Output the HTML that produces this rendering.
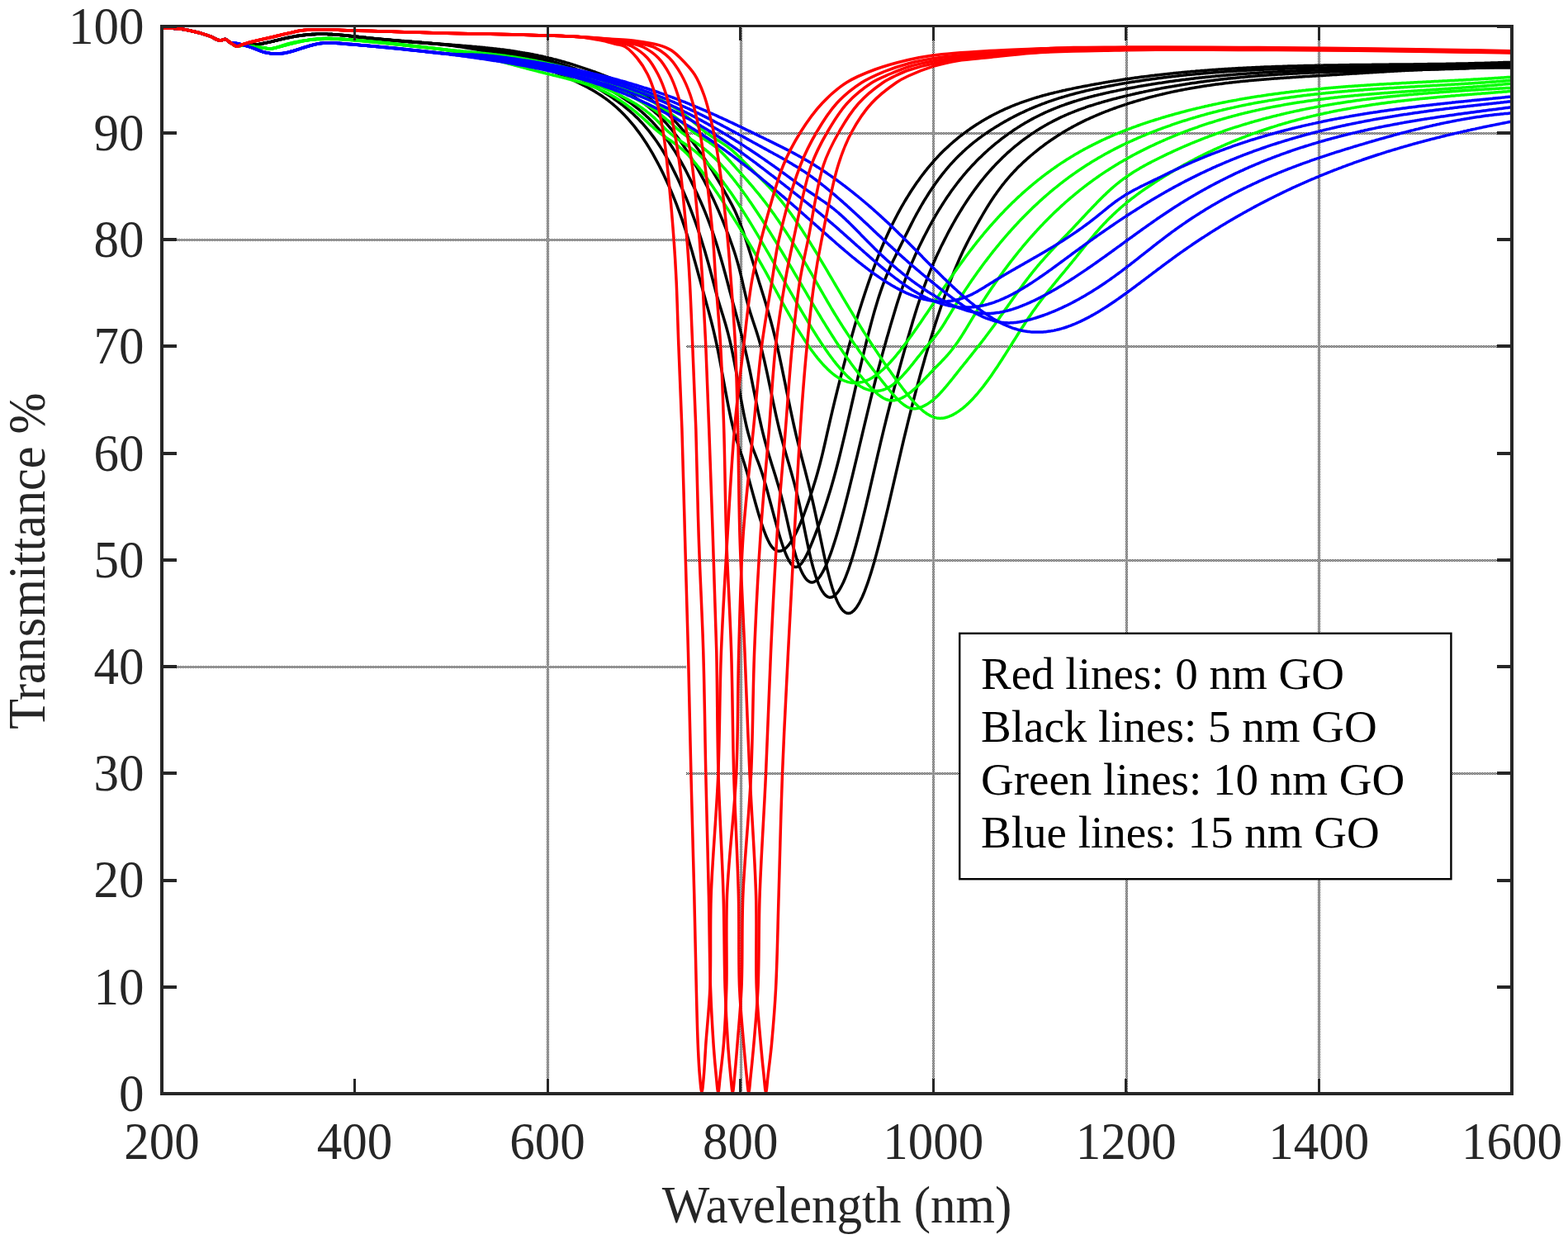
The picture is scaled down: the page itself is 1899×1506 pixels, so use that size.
<!DOCTYPE html><html><head><meta charset="utf-8"><title>Transmittance vs Wavelength</title><style>html,body{margin:0;padding:0;background:#fff;}svg{display:block;}text{font-family:"Liberation Serif", "Times New Roman", serif;}</style></head><body>
<svg xmlns="http://www.w3.org/2000/svg" width="1899" height="1506" viewBox="0 0 1899 1506">
<defs><pattern id="chk" x="0" y="0" width="2" height="2" patternUnits="userSpaceOnUse"><rect width="1" height="1" fill="#262626"/><rect x="1" y="1" width="1" height="1" fill="#262626"/></pattern></defs>
<rect width="1899" height="1506" fill="#fff"/>
<rect x="198" y="289" width="633" height="3" fill="url(#chk)"/>
<rect x="198" y="806" width="633" height="3" fill="url(#chk)"/>
<rect x="831" y="160" width="998" height="3" fill="url(#chk)"/>
<rect x="831" y="418" width="998" height="3" fill="url(#chk)"/>
<rect x="831" y="677" width="998" height="3" fill="url(#chk)"/>
<rect x="831" y="935" width="998" height="3" fill="url(#chk)"/>
<rect x="831" y="289" width="0" height="3" fill="url(#chk)"/>
<rect x="662" y="33" width="3" height="1289" fill="url(#chk)"/>
<rect x="896" y="33" width="3" height="1289" fill="url(#chk)"/>
<rect x="1129" y="33" width="3" height="1289" fill="url(#chk)"/>
<rect x="1363" y="33" width="3" height="1289" fill="url(#chk)"/>
<rect x="1596" y="33" width="3" height="1289" fill="url(#chk)"/>
<g fill="none" stroke-width="3.5" stroke-linejoin="round" stroke-linecap="round">
<path stroke="#000" d="M196.0,33.9 C202.2,34.1 208.6,34.0 214.6,34.6 C220.3,35.2 225.3,36.1 231.0,37.3 C237.5,38.7 245.3,40.7 251.6,42.8 C257.1,44.7 262.8,48.7 266.7,49.0 C269.2,49.2 270.8,47.1 272.8,47.4 C274.9,47.8 276.8,50.3 279.0,51.7 C281.4,53.2 283.9,55.6 286.5,56.0 C288.9,56.3 290.9,54.6 294.0,54.2 C298.9,53.6 306.8,53.9 313.2,53.8 L330.0,50.1 L331.5,49.7 L333.0,49.3 L334.5,48.9 L336.0,48.5 L337.5,48.2 L339.0,47.8 L340.5,47.5 L342.0,47.1 L343.5,46.8 L345.0,46.4 L346.5,46.1 L348.0,45.8 L349.5,45.5 L351.0,45.2 L352.5,44.9 L354.0,44.6 L355.5,44.4 L357.0,44.1 L358.5,43.8 L360.0,43.6 L361.5,43.4 L363.0,43.2 L364.5,43.0 L366.0,42.8 L367.5,42.6 L369.0,42.4 L370.5,42.2 L372.0,42.1 L373.5,42.0 L375.0,41.8 L376.5,41.7 L378.0,41.6 L379.5,41.5 L381.0,41.4 L382.5,41.4 L384.0,41.3 L385.5,41.3 L387.0,41.3 L388.5,41.3 L390.0,41.3 L391.5,41.3 L393.0,41.3 L394.5,41.3 L396.0,41.3 L397.5,41.4 L399.0,41.5 L400.5,41.5 L402.0,41.6 L403.5,41.7 L405.0,41.8 L406.5,41.9 L408.0,42.0 L409.5,42.1 L411.0,42.2 L412.5,42.3 L414.0,42.5 L415.5,42.6 L417.0,42.8 L418.5,42.9 L420.0,43.0 L421.5,43.2 L423.0,43.4 L424.5,43.5 L426.0,43.7 L427.5,43.8 L429.0,44.0 L430.5,44.2 L432.0,44.4 L433.5,44.5 L435.0,44.7 L436.5,44.9 L438.0,45.0 L439.5,45.2 L441.0,45.4 L442.5,45.5 L444.0,45.7 L445.5,45.9 L447.0,46.0 L448.5,46.2 L450.0,46.4 L451.5,46.5 L453.0,46.7 L454.5,46.8 L456.0,47.0 L457.5,47.1 L459.0,47.3 L460.5,47.4 L462.0,47.6 L463.5,47.7 L465.0,47.9 L466.5,48.0 L468.0,48.2 L469.5,48.3 L471.0,48.5 L472.5,48.6 L474.0,48.8 L475.5,48.9 L477.0,49.0 L478.5,49.2 L480.0,49.3 L481.5,49.4 L483.0,49.6 L484.5,49.7 L486.0,49.8 L487.5,50.0 L489.0,50.1 L490.5,50.2 L492.0,50.4 L493.5,50.5 L495.0,50.6 L496.5,50.7 L498.0,50.8 L499.5,51.0 L501.0,51.1 L502.5,51.2 L504.0,51.3 L505.5,51.4 L507.0,51.5 L508.5,51.6 L510.0,51.8 L511.5,51.9 L513.0,52.0 L514.5,52.1 L516.0,52.2 L517.5,52.3 L519.0,52.4 L520.5,52.5 L522.0,52.6 L523.5,52.7 L525.0,52.8 L526.5,52.9 L528.0,53.0 L529.5,53.1 L531.0,53.2 L532.5,53.3 L534.0,53.4 L535.5,53.5 L537.0,53.6 L538.5,53.8 L540.0,53.9 L541.5,54.0 L543.0,54.1 L544.5,54.2 L546.0,54.3 L547.5,54.4 L549.0,54.5 L550.5,54.6 L552.0,54.7 L553.5,54.8 L555.0,54.9 L556.5,55.0 L558.0,55.2 L559.5,55.3 L561.0,55.4 L562.5,55.5 L564.0,55.6 L565.5,55.7 L567.0,55.9 L568.5,56.0 L570.0,56.1 L571.5,56.2 L573.0,56.4 L574.5,56.5 L576.0,56.6 L577.5,56.8 L579.0,56.9 L580.5,57.0 L582.0,57.2 L583.5,57.3 L585.0,57.5 L586.5,57.6 L588.0,57.8 L589.5,57.9 L591.0,58.1 L592.5,58.2 L594.0,58.4 L595.5,58.5 L597.0,58.7 L598.5,58.9 L600.0,59.0 L601.5,59.2 L603.0,59.4 L604.5,59.6 L606.0,59.8 L607.5,59.9 L609.0,60.1 L610.5,60.3 L612.0,60.5 L613.5,60.7 L615.0,60.9 L616.5,61.1 L618.0,61.3 L619.5,61.6 L621.0,61.8 L622.5,62.0 L624.0,62.2 L625.5,62.4 L627.0,62.7 L628.5,62.9 L630.0,63.2 L631.5,63.4 L633.0,63.7 L634.5,63.9 L636.0,64.2 L637.5,64.4 L639.0,64.7 L640.5,65.0 L642.0,65.3 L643.5,65.6 L645.0,65.8 L646.5,66.1 L648.0,66.4 L649.5,66.7 L651.0,67.0 L652.5,67.4 L654.0,67.7 L655.5,68.0 L657.0,68.3 L658.5,68.7 L660.0,69.0 L661.5,69.4 L663.0,69.7 L664.5,70.1 L666.0,70.4 L667.5,70.8 L669.0,71.2 L670.5,71.6 L672.0,71.9 L673.5,72.3 L675.0,72.7 L676.5,73.1 L678.0,73.5 L679.5,74.0 L681.0,74.4 L682.5,74.8 L684.0,75.2 L685.5,75.7 L687.0,76.1 L688.5,76.5 L690.0,77.0 L691.5,77.4 L693.0,77.9 L694.5,78.4 L696.0,78.8 L697.5,79.3 L699.0,79.8 L700.5,80.3 L702.0,80.8 L703.5,81.3 L705.0,81.8 L706.5,82.3 L708.0,82.8 L709.5,83.3 L711.0,83.8 L712.5,84.3 L714.0,84.8 L715.5,85.4 L717.0,85.9 L718.5,86.5 L720.0,87.0 L721.5,87.5 L723.0,88.1 L724.5,88.7 L726.0,89.2 L727.5,89.8 L729.0,90.4 L730.5,90.9 L732.0,91.5 L733.5,92.1 L735.0,92.7 L736.5,93.3 L738.0,93.9 L739.5,94.5 L741.0,95.1 L742.5,95.7 L744.0,96.3 L745.5,96.9 L747.0,97.5 L748.5,98.2 L750.0,98.8 L751.5,99.5 L753.0,100.2 L754.5,100.8 L756.0,101.5 L757.5,102.2 L759.0,103.0 L760.5,103.7 L762.0,104.4 L763.5,105.2 L765.0,106.0 L766.5,106.8 L768.0,107.6 L769.5,108.4 L771.0,109.3 L772.5,110.2 L774.0,111.1 L775.5,112.0 L777.0,112.9 L778.5,113.9 L780.0,114.9 L781.5,115.9 L783.0,116.9 L784.5,118.0 L786.0,119.0 L787.5,120.1 L789.0,121.2 L790.5,122.4 L792.0,123.5 L793.5,124.7 L795.0,125.9 L796.5,127.1 L798.0,128.4 L799.5,129.7 L801.0,131.0 L802.5,132.3 L804.0,133.6 L805.5,135.0 L807.0,136.4 L808.5,137.8 L810.0,139.2 L811.5,140.7 L813.0,142.2 L814.5,143.7 L816.0,145.3 L817.5,146.8 L819.0,148.4 L820.5,150.0 L822.0,151.7 L823.5,153.3 L825.0,155.0 L826.5,156.8 L828.0,158.5 L829.5,160.3 L831.0,162.1 L832.5,163.9 L834.0,165.8 L835.5,167.7 L837.0,169.6 L838.5,171.5 L840.0,173.5 L841.5,175.5 L843.0,177.5 L844.5,179.5 L846.0,181.6 L847.5,183.7 L849.0,185.9 L850.5,188.0 L852.0,190.2 L853.5,192.4 L855.0,194.7 L856.5,197.0 L858.0,199.3 L859.5,201.6 L861.0,204.0 L862.5,206.4 L864.0,208.8 L865.5,211.3 L867.0,213.8 L868.5,216.3 L870.0,218.8 L871.5,221.4 L873.0,224.0 L874.5,226.6 L876.0,229.2 L877.5,231.8 L879.0,234.5 L880.5,237.2 L882.0,239.9 L883.5,242.6 L885.0,245.4 L886.5,248.2 L888.0,251.1 L889.5,254.1 L891.0,257.3 L892.5,260.7 L894.0,264.2 L895.5,267.9 L897.0,271.9 L898.5,276.0 L900.0,280.2 L901.5,284.6 L903.0,289.1 L904.5,293.7 L906.0,298.4 L907.5,303.2 L909.0,308.0 L910.5,312.9 L912.0,317.7 L913.5,322.6 L915.0,327.5 L916.5,332.3 L918.0,337.1 L919.5,341.9 L921.0,346.6 L922.5,351.4 L924.0,356.3 L925.5,361.1 L927.0,366.1 L928.5,371.1 L930.0,376.2 L931.5,381.4 L933.0,386.8 L934.5,392.3 L936.0,397.9 L937.5,403.8 L939.0,409.8 L940.5,416.0 L942.0,422.5 L943.5,429.2 L945.0,436.1 L946.5,443.1 L948.0,450.3 L949.5,457.6 L951.0,464.9 L952.5,472.3 L954.0,479.6 L955.5,486.9 L957.0,494.1 L958.5,501.2 L960.0,508.2 L961.5,515.0 L963.0,521.6 L964.5,528.0 L966.0,534.2 L967.5,540.3 L969.0,546.2 L970.5,552.1 L972.0,557.9 L973.5,563.7 L975.0,569.4 L976.5,575.3 L978.0,581.1 L979.5,587.1 L981.0,593.2 L982.5,599.4 L984.0,605.9 L985.5,612.5 L987.0,619.4 L988.5,626.4 L990.0,633.6 L991.5,640.9 L993.0,648.1 L994.5,655.4 L996.0,662.5 L997.5,669.6 L999.0,676.5 L1000.5,683.2 L1002.0,689.6 L1003.5,695.7 L1005.0,701.4 L1006.5,706.8 L1008.0,711.8 L1009.5,716.4 L1011.0,720.6 L1012.5,724.5 L1014.0,727.9 L1015.5,731.0 L1017.0,733.7 L1018.5,736.1 L1020.0,738.1 L1021.5,739.7 L1023.0,740.9 L1024.5,741.8 L1026.0,742.3 L1027.5,742.5 L1029.0,742.3 L1030.5,741.8 L1032.0,740.9 L1033.5,739.7 L1035.0,738.2 L1036.5,736.4 L1038.0,734.3 L1039.5,731.9 L1041.0,729.3 L1042.5,726.3 L1044.0,723.2 L1045.5,719.7 L1047.0,716.1 L1048.5,712.2 L1050.0,708.1 L1051.5,703.8 L1053.0,699.3 L1054.5,694.6 L1056.0,689.7 L1057.5,684.7 L1059.0,679.5 L1060.5,674.1 L1062.0,668.6 L1063.5,663.0 L1065.0,657.2 L1066.5,651.4 L1068.0,645.4 L1069.5,639.3 L1071.0,633.2 L1072.5,626.9 L1074.0,620.6 L1075.5,614.3 L1077.0,607.8 L1078.5,601.4 L1080.0,594.9 L1081.5,588.4 L1083.0,581.9 L1084.5,575.3 L1086.0,568.8 L1087.5,562.3 L1089.0,555.8 L1090.5,549.3 L1092.0,542.9 L1093.5,536.5 L1095.0,530.2 L1096.5,524.0 L1098.0,517.8 L1099.5,511.6 L1101.0,505.6 L1102.5,499.6 L1104.0,493.7 L1105.5,487.8 L1107.0,482.0 L1108.5,476.3 L1110.0,470.6 L1111.5,465.0 L1113.0,459.4 L1114.5,453.9 L1116.0,448.5 L1117.5,443.2 L1119.0,437.9 L1120.5,432.6 L1122.0,427.5 L1123.5,422.4 L1125.0,417.3 L1126.5,412.3 L1128.0,407.4 L1129.5,402.6 L1131.0,397.8 L1132.5,393.0 L1134.0,388.4 L1135.5,383.8 L1137.0,379.2 L1138.5,374.8 L1140.0,370.3 L1141.5,366.0 L1143.0,361.7 L1144.5,357.5 L1146.0,353.3 L1147.5,349.3 L1149.0,345.3 L1150.5,341.3 L1152.0,337.4 L1153.5,333.6 L1155.0,329.9 L1156.5,326.2 L1158.0,322.7 L1159.5,319.1 L1161.0,315.7 L1162.5,312.3 L1164.0,309.0 L1165.5,305.8 L1167.0,302.6 L1168.5,299.6 L1170.0,296.6 L1171.5,293.6 L1173.0,290.7 L1174.5,287.9 L1176.0,285.1 L1177.5,282.3 L1179.0,279.6 L1180.5,276.9 L1182.0,274.2 L1183.5,271.5 L1185.0,268.8 L1186.5,266.2 L1188.0,263.6 L1189.5,261.0 L1191.0,258.4 L1192.5,255.9 L1194.0,253.4 L1195.5,250.9 L1197.0,248.5 L1198.5,246.1 L1200.0,243.8 L1201.5,241.5 L1203.0,239.2 L1204.5,237.0 L1206.0,234.9 L1207.5,232.8 L1209.0,230.7 L1210.5,228.7 L1212.0,226.7 L1213.5,224.7 L1215.0,222.8 L1216.5,221.0 L1218.0,219.1 L1219.5,217.3 L1221.0,215.6 L1222.5,213.9 L1224.0,212.2 L1225.5,210.5 L1227.0,208.9 L1228.5,207.3 L1230.0,205.7 L1231.5,204.1 L1233.0,202.6 L1234.5,201.1 L1236.0,199.7 L1237.5,198.2 L1239.0,196.8 L1240.5,195.4 L1242.0,194.1 L1243.5,192.7 L1245.0,191.4 L1246.5,190.1 L1248.0,188.8 L1249.5,187.5 L1251.0,186.3 L1252.5,185.0 L1254.0,183.8 L1255.5,182.6 L1257.0,181.4 L1258.5,180.2 L1260.0,179.0 L1261.5,177.9 L1263.0,176.8 L1264.5,175.6 L1266.0,174.5 L1267.5,173.4 L1269.0,172.4 L1270.5,171.3 L1272.0,170.3 L1273.5,169.2 L1275.0,168.2 L1276.5,167.2 L1278.0,166.2 L1279.5,165.2 L1281.0,164.3 L1282.5,163.3 L1284.0,162.4 L1285.5,161.4 L1287.0,160.5 L1288.5,159.6 L1290.0,158.7 L1291.5,157.8 L1293.0,157.0 L1294.5,156.1 L1296.0,155.3 L1297.5,154.4 L1299.0,153.6 L1300.5,152.8 L1302.0,152.0 L1303.5,151.2 L1305.0,150.4 L1306.5,149.6 L1308.0,148.9 L1309.5,148.1 L1311.0,147.4 L1312.5,146.6 L1314.0,145.9 L1315.5,145.2 L1317.0,144.5 L1318.5,143.8 L1320.0,143.1 L1321.5,142.4 L1323.0,141.8 L1324.5,141.1 L1326.0,140.5 L1327.5,139.8 L1329.0,139.2 L1330.5,138.6 L1332.0,137.9 L1333.5,137.3 L1335.0,136.7 L1336.5,136.1 L1338.0,135.5 L1339.5,134.9 L1341.0,134.4 L1342.5,133.8 L1344.0,133.2 L1345.5,132.7 L1347.0,132.1 L1348.5,131.5 L1350.0,131.0 L1351.5,130.5 L1353.0,129.9 L1354.5,129.4 L1356.0,128.9 L1357.5,128.4 L1359.0,127.9 L1360.5,127.4 L1362.0,126.9 L1363.5,126.4 L1365.0,125.9 L1366.5,125.4 L1368.0,124.9 L1369.5,124.4 L1371.0,124.0 L1372.5,123.5 L1374.0,123.0 L1375.5,122.6 L1377.0,122.1 L1378.5,121.7 L1380.0,121.3 L1381.5,120.8 L1383.0,120.4 L1384.5,120.0 L1386.0,119.6 L1387.5,119.1 L1389.0,118.7 L1390.5,118.3 L1392.0,117.9 L1393.5,117.5 L1395.0,117.1 L1396.5,116.7 L1398.0,116.4 L1399.5,116.0 L1401.0,115.6 L1402.5,115.2 L1404.0,114.9 L1405.5,114.5 L1407.0,114.2 L1408.5,113.8 L1410.0,113.5 L1411.5,113.1 L1413.0,112.8 L1414.5,112.4 L1416.0,112.1 L1417.5,111.8 L1419.0,111.4 L1420.5,111.1 L1422.0,110.8 L1423.5,110.5 L1425.0,110.2 L1426.5,109.9 L1428.0,109.6 L1429.5,109.3 L1431.0,109.0 L1432.5,108.7 L1434.0,108.4 L1435.5,108.1 L1437.0,107.9 L1438.5,107.6 L1440.0,107.3 L1441.5,107.0 L1443.0,106.8 L1444.5,106.5 L1446.0,106.3 L1447.5,106.0 L1449.0,105.7 L1450.5,105.5 L1452.0,105.3 L1453.5,105.0 L1455.0,104.8 L1456.5,104.5 L1458.0,104.3 L1459.5,104.1 L1461.0,103.9 L1462.5,103.6 L1464.0,103.4 L1465.5,103.2 L1467.0,103.0 L1468.5,102.8 L1470.0,102.6 L1471.5,102.3 L1473.0,102.1 L1474.5,101.9 L1476.0,101.7 L1477.5,101.6 L1479.0,101.4 L1480.5,101.2 L1482.0,101.0 L1483.5,100.8 L1485.0,100.6 L1486.5,100.4 L1488.0,100.3 L1489.5,100.1 L1491.0,99.9 L1492.5,99.7 L1494.0,99.6 L1495.5,99.4 L1497.0,99.2 L1498.5,99.1 L1500.0,98.9 L1501.5,98.8 L1503.0,98.6 L1504.5,98.5 L1506.0,98.3 L1507.5,98.2 L1509.0,98.0 L1510.5,97.9 L1512.0,97.7 L1513.5,97.6 L1515.0,97.5 L1516.5,97.3 L1518.0,97.2 L1519.5,97.0 L1521.0,96.9 L1522.5,96.8 L1524.0,96.7 L1525.5,96.5 L1527.0,96.4 L1528.5,96.3 L1530.0,96.2 L1531.5,96.0 L1533.0,95.9 L1534.5,95.8 L1536.0,95.7 L1537.5,95.6 L1539.0,95.4 L1540.5,95.3 L1542.0,95.2 L1543.5,95.1 L1545.0,95.0 L1546.5,94.9 L1548.0,94.8 L1549.5,94.7 L1551.0,94.6 L1552.5,94.5 L1554.0,94.4 L1555.5,94.3 L1557.0,94.2 L1558.5,94.1 L1560.0,94.0 L1561.5,93.9 L1563.0,93.8 L1564.5,93.7 L1566.0,93.6 L1567.5,93.5 L1569.0,93.4 L1570.5,93.3 L1572.0,93.2 L1573.5,93.1 L1575.0,93.0 L1576.5,92.9 L1578.0,92.8 L1579.5,92.7 L1581.0,92.6 L1582.5,92.5 L1584.0,92.4 L1585.5,92.4 L1587.0,92.3 L1588.5,92.2 L1590.0,92.1 L1591.5,92.0 L1593.0,91.9 L1594.5,91.8 L1596.0,91.7 L1597.5,91.6 L1599.0,91.5 L1600.5,91.5 L1602.0,91.4 L1603.5,91.3 L1605.0,91.2 L1606.5,91.1 L1608.0,91.0 L1609.5,90.9 L1611.0,90.8 L1612.5,90.7 L1614.0,90.6 L1615.5,90.5 L1617.0,90.4 L1618.5,90.4 L1620.0,90.3 L1621.5,90.2 L1623.0,90.1 L1624.5,90.0 L1626.0,89.9 L1627.5,89.8 L1629.0,89.7 L1630.5,89.6 L1632.0,89.5 L1633.5,89.4 L1635.0,89.3 L1636.5,89.2 L1638.0,89.1 L1639.5,89.0 L1641.0,89.0 L1642.5,88.9 L1644.0,88.8 L1645.5,88.7 L1647.0,88.6 L1648.5,88.5 L1650.0,88.4 L1651.5,88.3 L1653.0,88.2 L1654.5,88.1 L1656.0,88.0 L1657.5,87.9 L1659.0,87.8 L1660.5,87.8 L1662.0,87.7 L1663.5,87.6 L1665.0,87.5 L1666.5,87.4 L1668.0,87.3 L1669.5,87.2 L1671.0,87.1 L1672.5,87.0 L1674.0,86.9 L1675.5,86.9 L1677.0,86.8 L1678.5,86.7 L1680.0,86.6 L1681.5,86.5 L1683.0,86.4 L1684.5,86.3 L1686.0,86.3 L1687.5,86.2 L1689.0,86.1 L1690.5,86.0 L1692.0,85.9 L1693.5,85.8 L1695.0,85.7 L1696.5,85.7 L1698.0,85.6 L1699.5,85.5 L1701.0,85.4 L1702.5,85.3 L1704.0,85.3 L1705.5,85.2 L1707.0,85.1 L1708.5,85.0 L1710.0,85.0 L1711.5,84.9 L1713.0,84.8 L1714.5,84.7 L1716.0,84.7 L1717.5,84.6 L1719.0,84.5 L1720.5,84.4 L1722.0,84.4 L1723.5,84.3 L1725.0,84.2 L1726.5,84.2 L1728.0,84.1 L1729.5,84.0 L1731.0,84.0 L1732.5,83.9 L1734.0,83.8 L1735.5,83.8 L1737.0,83.7 L1738.5,83.6 L1740.0,83.6 L1741.5,83.5 L1743.0,83.5 L1744.5,83.4 L1746.0,83.3 L1747.5,83.3 L1749.0,83.2 L1750.5,83.2 L1752.0,83.1 L1753.5,83.1 L1755.0,83.0 L1756.5,83.0 L1758.0,82.9 L1759.5,82.9 L1761.0,82.8 L1762.5,82.8 L1764.0,82.7 L1765.5,82.7 L1767.0,82.6 L1768.5,82.6 L1770.0,82.6 L1771.5,82.5 L1773.0,82.5 L1774.5,82.4 L1776.0,82.4 L1777.5,82.4 L1779.0,82.3 L1780.5,82.3 L1782.0,82.3 L1783.5,82.3 L1785.0,82.2 L1786.5,82.2 L1788.0,82.2 L1789.5,82.1 L1791.0,82.1 L1792.5,82.1 L1794.0,82.1 L1795.5,82.1 L1797.0,82.0 L1798.5,82.0 L1800.0,82.0 L1801.5,82.0 L1803.0,82.0 L1804.5,82.0 L1806.0,82.0 L1807.5,82.0 L1809.0,82.0 L1810.5,82.0 L1812.0,82.0 L1813.5,81.9 L1815.0,81.9 L1816.5,82.0 L1818.0,82.0 L1819.5,82.0 L1821.0,82.0 L1822.5,82.0 L1824.0,82.0 L1825.5,82.0 L1827.0,82.0 L1828.5,82.0 L1830.0,82.0"/>
<path stroke="#000" d="M196.0,33.9 C202.2,34.1 208.6,34.0 214.6,34.6 C220.3,35.2 225.3,36.1 231.0,37.3 C237.5,38.7 245.3,40.7 251.6,42.8 C257.1,44.7 262.8,48.7 266.7,49.0 C269.2,49.2 270.8,47.1 272.8,47.4 C274.9,47.8 276.8,50.3 279.0,51.7 C281.4,53.2 283.9,55.6 286.5,56.0 C288.9,56.3 290.9,54.6 294.0,54.2 C298.9,53.6 306.8,53.9 313.2,53.8 L330.0,50.1 L331.5,49.7 L333.0,49.3 L334.5,49.0 L336.0,48.6 L337.5,48.2 L339.0,47.8 L340.5,47.5 L342.0,47.1 L343.5,46.8 L345.0,46.5 L346.5,46.1 L348.0,45.8 L349.5,45.5 L351.0,45.2 L352.5,44.9 L354.0,44.6 L355.5,44.4 L357.0,44.1 L358.5,43.8 L360.0,43.6 L361.5,43.4 L363.0,43.1 L364.5,42.9 L366.0,42.7 L367.5,42.5 L369.0,42.4 L370.5,42.2 L372.0,42.0 L373.5,41.9 L375.0,41.8 L376.5,41.7 L378.0,41.6 L379.5,41.5 L381.0,41.4 L382.5,41.3 L384.0,41.3 L385.5,41.2 L387.0,41.2 L388.5,41.2 L390.0,41.2 L391.5,41.2 L393.0,41.2 L394.5,41.3 L396.0,41.3 L397.5,41.4 L399.0,41.4 L400.5,41.5 L402.0,41.6 L403.5,41.7 L405.0,41.8 L406.5,41.9 L408.0,42.0 L409.5,42.1 L411.0,42.3 L412.5,42.4 L414.0,42.5 L415.5,42.7 L417.0,42.8 L418.5,43.0 L420.0,43.1 L421.5,43.3 L423.0,43.4 L424.5,43.6 L426.0,43.8 L427.5,43.9 L429.0,44.1 L430.5,44.3 L432.0,44.4 L433.5,44.6 L435.0,44.8 L436.5,45.0 L438.0,45.1 L439.5,45.3 L441.0,45.5 L442.5,45.6 L444.0,45.8 L445.5,45.9 L447.0,46.1 L448.5,46.3 L450.0,46.4 L451.5,46.6 L453.0,46.7 L454.5,46.9 L456.0,47.0 L457.5,47.2 L459.0,47.3 L460.5,47.4 L462.0,47.6 L463.5,47.7 L465.0,47.9 L466.5,48.0 L468.0,48.1 L469.5,48.3 L471.0,48.4 L472.5,48.5 L474.0,48.7 L475.5,48.8 L477.0,48.9 L478.5,49.1 L480.0,49.2 L481.5,49.3 L483.0,49.4 L484.5,49.6 L486.0,49.7 L487.5,49.8 L489.0,49.9 L490.5,50.0 L492.0,50.2 L493.5,50.3 L495.0,50.4 L496.5,50.5 L498.0,50.6 L499.5,50.8 L501.0,50.9 L502.5,51.0 L504.0,51.1 L505.5,51.2 L507.0,51.3 L508.5,51.5 L510.0,51.6 L511.5,51.7 L513.0,51.8 L514.5,51.9 L516.0,52.0 L517.5,52.1 L519.0,52.3 L520.5,52.4 L522.0,52.5 L523.5,52.6 L525.0,52.7 L526.5,52.9 L528.0,53.0 L529.5,53.1 L531.0,53.2 L532.5,53.3 L534.0,53.5 L535.5,53.6 L537.0,53.7 L538.5,53.8 L540.0,53.9 L541.5,54.1 L543.0,54.2 L544.5,54.3 L546.0,54.5 L547.5,54.6 L549.0,54.7 L550.5,54.9 L552.0,55.0 L553.5,55.1 L555.0,55.3 L556.5,55.4 L558.0,55.5 L559.5,55.7 L561.0,55.8 L562.5,56.0 L564.0,56.1 L565.5,56.3 L567.0,56.4 L568.5,56.6 L570.0,56.7 L571.5,56.9 L573.0,57.1 L574.5,57.2 L576.0,57.4 L577.5,57.6 L579.0,57.7 L580.5,57.9 L582.0,58.1 L583.5,58.3 L585.0,58.4 L586.5,58.6 L588.0,58.8 L589.5,59.0 L591.0,59.2 L592.5,59.4 L594.0,59.6 L595.5,59.8 L597.0,60.0 L598.5,60.2 L600.0,60.4 L601.5,60.6 L603.0,60.8 L604.5,61.0 L606.0,61.3 L607.5,61.5 L609.0,61.7 L610.5,62.0 L612.0,62.2 L613.5,62.4 L615.0,62.7 L616.5,62.9 L618.0,63.2 L619.5,63.4 L621.0,63.7 L622.5,64.0 L624.0,64.2 L625.5,64.5 L627.0,64.8 L628.5,65.1 L630.0,65.3 L631.5,65.6 L633.0,65.9 L634.5,66.2 L636.0,66.5 L637.5,66.8 L639.0,67.2 L640.5,67.5 L642.0,67.8 L643.5,68.1 L645.0,68.4 L646.5,68.8 L648.0,69.1 L649.5,69.5 L651.0,69.8 L652.5,70.2 L654.0,70.5 L655.5,70.9 L657.0,71.3 L658.5,71.7 L660.0,72.0 L661.5,72.4 L663.0,72.8 L664.5,73.2 L666.0,73.6 L667.5,74.0 L669.0,74.4 L670.5,74.9 L672.0,75.3 L673.5,75.7 L675.0,76.2 L676.5,76.6 L678.0,77.1 L679.5,77.5 L681.0,78.0 L682.5,78.5 L684.0,78.9 L685.5,79.4 L687.0,79.9 L688.5,80.4 L690.0,80.9 L691.5,81.4 L693.0,81.9 L694.5,82.5 L696.0,83.0 L697.5,83.5 L699.0,84.1 L700.5,84.6 L702.0,85.2 L703.5,85.7 L705.0,86.3 L706.5,86.9 L708.0,87.5 L709.5,88.0 L711.0,88.6 L712.5,89.3 L714.0,89.9 L715.5,90.5 L717.0,91.1 L718.5,91.7 L720.0,92.4 L721.5,93.0 L723.0,93.7 L724.5,94.4 L726.0,95.0 L727.5,95.7 L729.0,96.4 L730.5,97.1 L732.0,97.8 L733.5,98.5 L735.0,99.3 L736.5,100.0 L738.0,100.7 L739.5,101.5 L741.0,102.2 L742.5,103.0 L744.0,103.8 L745.5,104.5 L747.0,105.3 L748.5,106.1 L750.0,106.9 L751.5,107.7 L753.0,108.6 L754.5,109.4 L756.0,110.2 L757.5,111.1 L759.0,112.0 L760.5,112.8 L762.0,113.7 L763.5,114.6 L765.0,115.5 L766.5,116.4 L768.0,117.3 L769.5,118.3 L771.0,119.2 L772.5,120.2 L774.0,121.2 L775.5,122.2 L777.0,123.2 L778.5,124.3 L780.0,125.3 L781.5,126.4 L783.0,127.6 L784.5,128.7 L786.0,129.9 L787.5,131.1 L789.0,132.3 L790.5,133.5 L792.0,134.8 L793.5,136.1 L795.0,137.5 L796.5,138.8 L798.0,140.2 L799.5,141.7 L801.0,143.2 L802.5,144.7 L804.0,146.2 L805.5,147.8 L807.0,149.4 L808.5,151.1 L810.0,152.8 L811.5,154.6 L813.0,156.4 L814.5,158.2 L816.0,160.1 L817.5,162.0 L819.0,164.0 L820.5,166.0 L822.0,168.1 L823.5,170.2 L825.0,172.4 L826.5,174.5 L828.0,176.8 L829.5,179.0 L831.0,181.4 L832.5,183.7 L834.0,186.1 L835.5,188.5 L837.0,191.0 L838.5,193.4 L840.0,196.0 L841.5,198.5 L843.0,201.1 L844.5,203.7 L846.0,206.4 L847.5,209.1 L849.0,211.8 L850.5,214.6 L852.0,217.3 L853.5,220.2 L855.0,223.1 L856.5,226.0 L858.0,229.0 L859.5,232.0 L861.0,235.1 L862.5,238.2 L864.0,241.3 L865.5,244.6 L867.0,247.9 L868.5,251.2 L870.0,254.6 L871.5,258.1 L873.0,261.6 L874.5,265.2 L876.0,268.9 L877.5,272.6 L879.0,276.4 L880.5,280.3 L882.0,284.2 L883.5,288.2 L885.0,292.3 L886.5,296.5 L888.0,300.8 L889.5,305.3 L891.0,310.0 L892.5,314.9 L894.0,320.2 L895.5,325.8 L897.0,331.8 L898.5,338.2 L900.0,344.8 L901.5,351.4 L903.0,357.8 L904.5,363.7 L906.0,369.3 L907.5,374.4 L909.0,379.4 L910.5,384.1 L912.0,388.7 L913.5,393.2 L915.0,397.8 L916.5,402.4 L918.0,407.2 L919.5,412.3 L921.0,417.6 L922.5,423.3 L924.0,429.3 L925.5,435.7 L927.0,442.3 L928.5,449.2 L930.0,456.2 L931.5,463.3 L933.0,470.5 L934.5,477.7 L936.0,484.8 L937.5,491.9 L939.0,498.9 L940.5,505.6 L942.0,512.2 L943.5,518.5 L945.0,524.5 L946.5,530.2 L948.0,535.8 L949.5,541.2 L951.0,546.5 L952.5,551.7 L954.0,556.9 L955.5,562.1 L957.0,567.3 L958.5,572.5 L960.0,577.9 L961.5,583.4 L963.0,589.1 L964.5,595.1 L966.0,601.2 L967.5,607.7 L969.0,614.5 L970.5,621.6 L972.0,628.9 L973.5,636.3 L975.0,643.8 L976.5,651.1 L978.0,658.4 L979.5,665.4 L981.0,672.1 L982.5,678.3 L984.0,684.2 L985.5,689.6 L987.0,694.6 L988.5,699.2 L990.0,703.3 L991.5,707.1 L993.0,710.4 L994.5,713.4 L996.0,716.0 L997.5,718.1 L999.0,719.9 L1000.5,721.3 L1002.0,722.3 L1003.5,722.9 L1005.0,723.2 L1006.5,723.1 L1008.0,722.7 L1009.5,721.9 L1011.0,720.8 L1012.5,719.4 L1014.0,717.7 L1015.5,715.7 L1017.0,713.3 L1018.5,710.7 L1020.0,707.8 L1021.5,704.7 L1023.0,701.3 L1024.5,697.6 L1026.0,693.7 L1027.5,689.6 L1029.0,685.2 L1030.5,680.6 L1032.0,675.9 L1033.5,670.9 L1035.0,665.8 L1036.5,660.5 L1038.0,655.0 L1039.5,649.4 L1041.0,643.6 L1042.5,637.8 L1044.0,631.8 L1045.5,625.7 L1047.0,619.5 L1048.5,613.3 L1050.0,606.9 L1051.5,600.6 L1053.0,594.1 L1054.5,587.7 L1056.0,581.2 L1057.5,574.7 L1059.0,568.1 L1060.5,561.6 L1062.0,555.2 L1063.5,548.7 L1065.0,542.3 L1066.5,535.9 L1068.0,529.6 L1069.5,523.4 L1071.0,517.2 L1072.5,511.1 L1074.0,505.0 L1075.5,499.0 L1077.0,493.1 L1078.5,487.2 L1080.0,481.4 L1081.5,475.6 L1083.0,469.9 L1084.5,464.2 L1086.0,458.6 L1087.5,453.0 L1089.0,447.4 L1090.5,441.9 L1092.0,436.4 L1093.5,431.0 L1095.0,425.6 L1096.5,420.2 L1098.0,414.9 L1099.5,409.6 L1101.0,404.4 L1102.5,399.2 L1104.0,394.2 L1105.5,389.1 L1107.0,384.2 L1108.5,379.3 L1110.0,374.5 L1111.5,369.8 L1113.0,365.2 L1114.5,360.7 L1116.0,356.3 L1117.5,351.9 L1119.0,347.7 L1120.5,343.6 L1122.0,339.6 L1123.5,335.7 L1125.0,331.9 L1126.5,328.2 L1128.0,324.6 L1129.5,321.0 L1131.0,317.6 L1132.5,314.2 L1134.0,310.8 L1135.5,307.6 L1137.0,304.4 L1138.5,301.2 L1140.0,298.1 L1141.5,295.1 L1143.0,292.1 L1144.5,289.1 L1146.0,286.2 L1147.5,283.3 L1149.0,280.4 L1150.5,277.6 L1152.0,274.9 L1153.5,272.1 L1155.0,269.5 L1156.5,266.8 L1158.0,264.2 L1159.5,261.7 L1161.0,259.1 L1162.5,256.6 L1164.0,254.2 L1165.5,251.8 L1167.0,249.4 L1168.5,247.1 L1170.0,244.8 L1171.5,242.5 L1173.0,240.3 L1174.5,238.1 L1176.0,235.9 L1177.5,233.8 L1179.0,231.7 L1180.5,229.6 L1182.0,227.6 L1183.5,225.6 L1185.0,223.6 L1186.5,221.6 L1188.0,219.7 L1189.5,217.8 L1191.0,216.0 L1192.5,214.2 L1194.0,212.4 L1195.5,210.6 L1197.0,208.9 L1198.5,207.2 L1200.0,205.5 L1201.5,203.8 L1203.0,202.2 L1204.5,200.6 L1206.0,199.0 L1207.5,197.4 L1209.0,195.9 L1210.5,194.4 L1212.0,192.9 L1213.5,191.4 L1215.0,190.0 L1216.5,188.6 L1218.0,187.2 L1219.5,185.8 L1221.0,184.4 L1222.5,183.1 L1224.0,181.8 L1225.5,180.5 L1227.0,179.2 L1228.5,177.9 L1230.0,176.7 L1231.5,175.5 L1233.0,174.3 L1234.5,173.1 L1236.0,171.9 L1237.5,170.7 L1239.0,169.6 L1240.5,168.5 L1242.0,167.4 L1243.5,166.3 L1245.0,165.2 L1246.5,164.2 L1248.0,163.1 L1249.5,162.1 L1251.0,161.1 L1252.5,160.1 L1254.0,159.1 L1255.5,158.1 L1257.0,157.2 L1258.5,156.3 L1260.0,155.3 L1261.5,154.4 L1263.0,153.5 L1264.5,152.7 L1266.0,151.8 L1267.5,151.0 L1269.0,150.1 L1270.5,149.3 L1272.0,148.5 L1273.5,147.7 L1275.0,146.9 L1276.5,146.1 L1278.0,145.4 L1279.5,144.6 L1281.0,143.9 L1282.5,143.1 L1284.0,142.4 L1285.5,141.7 L1287.0,141.0 L1288.5,140.4 L1290.0,139.7 L1291.5,139.0 L1293.0,138.4 L1294.5,137.7 L1296.0,137.1 L1297.5,136.5 L1299.0,135.9 L1300.5,135.3 L1302.0,134.7 L1303.5,134.1 L1305.0,133.5 L1306.5,133.0 L1308.0,132.4 L1309.5,131.9 L1311.0,131.3 L1312.5,130.8 L1314.0,130.3 L1315.5,129.7 L1317.0,129.2 L1318.5,128.7 L1320.0,128.2 L1321.5,127.8 L1323.0,127.3 L1324.5,126.8 L1326.0,126.3 L1327.5,125.9 L1329.0,125.4 L1330.5,125.0 L1332.0,124.5 L1333.5,124.1 L1335.0,123.6 L1336.5,123.2 L1338.0,122.8 L1339.5,122.4 L1341.0,122.0 L1342.5,121.5 L1344.0,121.1 L1345.5,120.7 L1347.0,120.3 L1348.5,119.9 L1350.0,119.5 L1351.5,119.2 L1353.0,118.8 L1354.5,118.4 L1356.0,118.0 L1357.5,117.6 L1359.0,117.3 L1360.5,116.9 L1362.0,116.5 L1363.5,116.2 L1365.0,115.8 L1366.5,115.4 L1368.0,115.1 L1369.5,114.7 L1371.0,114.4 L1372.5,114.0 L1374.0,113.7 L1375.5,113.3 L1377.0,113.0 L1378.5,112.7 L1380.0,112.3 L1381.5,112.0 L1383.0,111.7 L1384.5,111.4 L1386.0,111.0 L1387.5,110.7 L1389.0,110.4 L1390.5,110.1 L1392.0,109.8 L1393.5,109.5 L1395.0,109.2 L1396.5,108.9 L1398.0,108.6 L1399.5,108.3 L1401.0,108.0 L1402.5,107.7 L1404.0,107.4 L1405.5,107.1 L1407.0,106.8 L1408.5,106.6 L1410.0,106.3 L1411.5,106.0 L1413.0,105.7 L1414.5,105.5 L1416.0,105.2 L1417.5,104.9 L1419.0,104.7 L1420.5,104.4 L1422.0,104.2 L1423.5,103.9 L1425.0,103.7 L1426.5,103.4 L1428.0,103.2 L1429.5,102.9 L1431.0,102.7 L1432.5,102.4 L1434.0,102.2 L1435.5,102.0 L1437.0,101.7 L1438.5,101.5 L1440.0,101.3 L1441.5,101.0 L1443.0,100.8 L1444.5,100.6 L1446.0,100.4 L1447.5,100.2 L1449.0,100.0 L1450.5,99.7 L1452.0,99.5 L1453.5,99.3 L1455.0,99.1 L1456.5,98.9 L1458.0,98.7 L1459.5,98.5 L1461.0,98.3 L1462.5,98.1 L1464.0,97.9 L1465.5,97.7 L1467.0,97.6 L1468.5,97.4 L1470.0,97.2 L1471.5,97.0 L1473.0,96.8 L1474.5,96.7 L1476.0,96.5 L1477.5,96.3 L1479.0,96.1 L1480.5,96.0 L1482.0,95.8 L1483.5,95.6 L1485.0,95.5 L1486.5,95.3 L1488.0,95.1 L1489.5,95.0 L1491.0,94.8 L1492.5,94.7 L1494.0,94.5 L1495.5,94.4 L1497.0,94.2 L1498.5,94.1 L1500.0,93.9 L1501.5,93.8 L1503.0,93.6 L1504.5,93.5 L1506.0,93.4 L1507.5,93.2 L1509.0,93.1 L1510.5,93.0 L1512.0,92.8 L1513.5,92.7 L1515.0,92.6 L1516.5,92.4 L1518.0,92.3 L1519.5,92.2 L1521.0,92.1 L1522.5,92.0 L1524.0,91.8 L1525.5,91.7 L1527.0,91.6 L1528.5,91.5 L1530.0,91.4 L1531.5,91.3 L1533.0,91.2 L1534.5,91.0 L1536.0,90.9 L1537.5,90.8 L1539.0,90.7 L1540.5,90.6 L1542.0,90.5 L1543.5,90.4 L1545.0,90.3 L1546.5,90.2 L1548.0,90.1 L1549.5,90.0 L1551.0,89.9 L1552.5,89.9 L1554.0,89.8 L1555.5,89.7 L1557.0,89.6 L1558.5,89.5 L1560.0,89.4 L1561.5,89.3 L1563.0,89.2 L1564.5,89.2 L1566.0,89.1 L1567.5,89.0 L1569.0,88.9 L1570.5,88.9 L1572.0,88.8 L1573.5,88.7 L1575.0,88.6 L1576.5,88.6 L1578.0,88.5 L1579.5,88.4 L1581.0,88.3 L1582.5,88.3 L1584.0,88.2 L1585.5,88.1 L1587.0,88.1 L1588.5,88.0 L1590.0,87.9 L1591.5,87.9 L1593.0,87.8 L1594.5,87.8 L1596.0,87.7 L1597.5,87.6 L1599.0,87.6 L1600.5,87.5 L1602.0,87.5 L1603.5,87.4 L1605.0,87.4 L1606.5,87.3 L1608.0,87.2 L1609.5,87.2 L1611.0,87.1 L1612.5,87.1 L1614.0,87.0 L1615.5,87.0 L1617.0,86.9 L1618.5,86.9 L1620.0,86.8 L1621.5,86.8 L1623.0,86.7 L1624.5,86.7 L1626.0,86.7 L1627.5,86.6 L1629.0,86.6 L1630.5,86.5 L1632.0,86.5 L1633.5,86.4 L1635.0,86.4 L1636.5,86.4 L1638.0,86.3 L1639.5,86.3 L1641.0,86.2 L1642.5,86.2 L1644.0,86.2 L1645.5,86.1 L1647.0,86.1 L1648.5,86.0 L1650.0,86.0 L1651.5,86.0 L1653.0,85.9 L1654.5,85.9 L1656.0,85.9 L1657.5,85.8 L1659.0,85.8 L1660.5,85.7 L1662.0,85.7 L1663.5,85.7 L1665.0,85.6 L1666.5,85.6 L1668.0,85.6 L1669.5,85.5 L1671.0,85.5 L1672.5,85.5 L1674.0,85.4 L1675.5,85.4 L1677.0,85.4 L1678.5,85.3 L1680.0,85.3 L1681.5,85.3 L1683.0,85.2 L1684.5,85.2 L1686.0,85.2 L1687.5,85.1 L1689.0,85.1 L1690.5,85.1 L1692.0,85.0 L1693.5,85.0 L1695.0,85.0 L1696.5,84.9 L1698.0,84.9 L1699.5,84.9 L1701.0,84.9 L1702.5,84.8 L1704.0,84.8 L1705.5,84.8 L1707.0,84.7 L1708.5,84.7 L1710.0,84.7 L1711.5,84.6 L1713.0,84.6 L1714.5,84.6 L1716.0,84.5 L1717.5,84.5 L1719.0,84.4 L1720.5,84.4 L1722.0,84.4 L1723.5,84.3 L1725.0,84.3 L1726.5,84.3 L1728.0,84.2 L1729.5,84.2 L1731.0,84.2 L1732.5,84.1 L1734.0,84.1 L1735.5,84.0 L1737.0,84.0 L1738.5,84.0 L1740.0,83.9 L1741.5,83.9 L1743.0,83.8 L1744.5,83.8 L1746.0,83.8 L1747.5,83.7 L1749.0,83.7 L1750.5,83.6 L1752.0,83.6 L1753.5,83.5 L1755.0,83.5 L1756.5,83.5 L1758.0,83.4 L1759.5,83.4 L1761.0,83.3 L1762.5,83.3 L1764.0,83.2 L1765.5,83.2 L1767.0,83.1 L1768.5,83.1 L1770.0,83.0 L1771.5,83.0 L1773.0,82.9 L1774.5,82.9 L1776.0,82.8 L1777.5,82.7 L1779.0,82.7 L1780.5,82.6 L1782.0,82.6 L1783.5,82.5 L1785.0,82.5 L1786.5,82.4 L1788.0,82.3 L1789.5,82.3 L1791.0,82.2 L1792.5,82.1 L1794.0,82.1 L1795.5,82.0 L1797.0,81.9 L1798.5,81.9 L1800.0,81.8 L1801.5,81.7 L1803.0,81.7 L1804.5,81.6 L1806.0,81.5 L1807.5,81.4 L1809.0,81.4 L1810.5,81.3 L1812.0,81.2 L1813.5,81.1 L1815.0,81.1 L1816.5,81.0 L1818.0,80.9 L1819.5,80.8 L1821.0,80.7 L1822.5,80.6 L1824.0,80.5 L1825.5,80.5 L1827.0,80.4 L1828.5,80.3 L1830.0,80.2"/>
<path stroke="#000" d="M196.0,33.9 C202.2,34.1 208.6,34.0 214.6,34.6 C220.3,35.2 225.3,36.1 231.0,37.3 C237.5,38.7 245.3,40.7 251.6,42.8 C257.1,44.7 262.8,48.7 266.7,49.0 C269.2,49.2 270.8,47.1 272.8,47.4 C274.9,47.8 276.8,50.3 279.0,51.7 C281.4,53.2 283.9,55.6 286.5,56.0 C288.9,56.3 290.9,54.6 294.0,54.2 C298.9,53.6 306.8,53.9 313.2,53.8 L330.0,50.1 L331.5,49.7 L333.0,49.3 L334.5,49.0 L336.0,48.6 L337.5,48.2 L339.0,47.8 L340.5,47.5 L342.0,47.1 L343.5,46.8 L345.0,46.5 L346.5,46.1 L348.0,45.8 L349.5,45.5 L351.0,45.2 L352.5,44.9 L354.0,44.6 L355.5,44.4 L357.0,44.1 L358.5,43.8 L360.0,43.6 L361.5,43.4 L363.0,43.1 L364.5,42.9 L366.0,42.7 L367.5,42.5 L369.0,42.4 L370.5,42.2 L372.0,42.0 L373.5,41.9 L375.0,41.8 L376.5,41.7 L378.0,41.6 L379.5,41.5 L381.0,41.4 L382.5,41.3 L384.0,41.3 L385.5,41.3 L387.0,41.2 L388.5,41.2 L390.0,41.2 L391.5,41.2 L393.0,41.3 L394.5,41.3 L396.0,41.3 L397.5,41.4 L399.0,41.5 L400.5,41.5 L402.0,41.6 L403.5,41.7 L405.0,41.8 L406.5,41.9 L408.0,42.0 L409.5,42.1 L411.0,42.3 L412.5,42.4 L414.0,42.5 L415.5,42.7 L417.0,42.8 L418.5,43.0 L420.0,43.1 L421.5,43.3 L423.0,43.4 L424.5,43.6 L426.0,43.8 L427.5,43.9 L429.0,44.1 L430.5,44.3 L432.0,44.4 L433.5,44.6 L435.0,44.8 L436.5,44.9 L438.0,45.1 L439.5,45.3 L441.0,45.4 L442.5,45.6 L444.0,45.8 L445.5,45.9 L447.0,46.1 L448.5,46.2 L450.0,46.4 L451.5,46.5 L453.0,46.7 L454.5,46.8 L456.0,47.0 L457.5,47.1 L459.0,47.3 L460.5,47.4 L462.0,47.6 L463.5,47.7 L465.0,47.8 L466.5,48.0 L468.0,48.1 L469.5,48.2 L471.0,48.4 L472.5,48.5 L474.0,48.6 L475.5,48.8 L477.0,48.9 L478.5,49.0 L480.0,49.2 L481.5,49.3 L483.0,49.4 L484.5,49.5 L486.0,49.7 L487.5,49.8 L489.0,49.9 L490.5,50.0 L492.0,50.1 L493.5,50.3 L495.0,50.4 L496.5,50.5 L498.0,50.6 L499.5,50.7 L501.0,50.9 L502.5,51.0 L504.0,51.1 L505.5,51.2 L507.0,51.3 L508.5,51.5 L510.0,51.6 L511.5,51.7 L513.0,51.8 L514.5,51.9 L516.0,52.1 L517.5,52.2 L519.0,52.3 L520.5,52.4 L522.0,52.5 L523.5,52.7 L525.0,52.8 L526.5,52.9 L528.0,53.0 L529.5,53.2 L531.0,53.3 L532.5,53.4 L534.0,53.5 L535.5,53.7 L537.0,53.8 L538.5,53.9 L540.0,54.1 L541.5,54.2 L543.0,54.3 L544.5,54.5 L546.0,54.6 L547.5,54.8 L549.0,54.9 L550.5,55.0 L552.0,55.2 L553.5,55.3 L555.0,55.5 L556.5,55.6 L558.0,55.8 L559.5,55.9 L561.0,56.1 L562.5,56.3 L564.0,56.4 L565.5,56.6 L567.0,56.8 L568.5,56.9 L570.0,57.1 L571.5,57.3 L573.0,57.5 L574.5,57.6 L576.0,57.8 L577.5,58.0 L579.0,58.2 L580.5,58.4 L582.0,58.6 L583.5,58.8 L585.0,59.0 L586.5,59.2 L588.0,59.4 L589.5,59.6 L591.0,59.9 L592.5,60.1 L594.0,60.3 L595.5,60.5 L597.0,60.8 L598.5,61.0 L600.0,61.2 L601.5,61.5 L603.0,61.7 L604.5,62.0 L606.0,62.2 L607.5,62.5 L609.0,62.7 L610.5,63.0 L612.0,63.3 L613.5,63.6 L615.0,63.8 L616.5,64.1 L618.0,64.4 L619.5,64.7 L621.0,65.0 L622.5,65.3 L624.0,65.6 L625.5,65.9 L627.0,66.3 L628.5,66.6 L630.0,66.9 L631.5,67.3 L633.0,67.6 L634.5,67.9 L636.0,68.3 L637.5,68.7 L639.0,69.0 L640.5,69.4 L642.0,69.8 L643.5,70.1 L645.0,70.5 L646.5,70.9 L648.0,71.3 L649.5,71.7 L651.0,72.1 L652.5,72.5 L654.0,72.9 L655.5,73.4 L657.0,73.8 L658.5,74.2 L660.0,74.7 L661.5,75.1 L663.0,75.6 L664.5,76.1 L666.0,76.5 L667.5,77.0 L669.0,77.5 L670.5,78.0 L672.0,78.5 L673.5,79.0 L675.0,79.5 L676.5,80.0 L678.0,80.6 L679.5,81.1 L681.0,81.6 L682.5,82.2 L684.0,82.7 L685.5,83.3 L687.0,83.9 L688.5,84.5 L690.0,85.1 L691.5,85.6 L693.0,86.2 L694.5,86.9 L696.0,87.5 L697.5,88.1 L699.0,88.7 L700.5,89.4 L702.0,90.0 L703.5,90.7 L705.0,91.4 L706.5,92.0 L708.0,92.7 L709.5,93.4 L711.0,94.1 L712.5,94.8 L714.0,95.5 L715.5,96.3 L717.0,97.0 L718.5,97.7 L720.0,98.5 L721.5,99.3 L723.0,100.0 L724.5,100.8 L726.0,101.6 L727.5,102.4 L729.0,103.2 L730.5,104.0 L732.0,104.9 L733.5,105.7 L735.0,106.5 L736.5,107.4 L738.0,108.3 L739.5,109.1 L741.0,110.0 L742.5,110.9 L744.0,111.8 L745.5,112.7 L747.0,113.7 L748.5,114.6 L750.0,115.5 L751.5,116.5 L753.0,117.5 L754.5,118.5 L756.0,119.4 L757.5,120.5 L759.0,121.5 L760.5,122.5 L762.0,123.6 L763.5,124.6 L765.0,125.7 L766.5,126.8 L768.0,128.0 L769.5,129.1 L771.0,130.3 L772.5,131.5 L774.0,132.7 L775.5,134.0 L777.0,135.3 L778.5,136.6 L780.0,137.9 L781.5,139.3 L783.0,140.7 L784.5,142.1 L786.0,143.6 L787.5,145.0 L789.0,146.6 L790.5,148.1 L792.0,149.7 L793.5,151.4 L795.0,153.1 L796.5,154.8 L798.0,156.5 L799.5,158.3 L801.0,160.2 L802.5,162.0 L804.0,164.0 L805.5,165.9 L807.0,168.0 L808.5,170.0 L810.0,172.1 L811.5,174.3 L813.0,176.5 L814.5,178.8 L816.0,181.1 L817.5,183.4 L819.0,185.9 L820.5,188.3 L822.0,190.9 L823.5,193.5 L825.0,196.1 L826.5,198.8 L828.0,201.6 L829.5,204.4 L831.0,207.3 L832.5,210.2 L834.0,213.2 L835.5,216.2 L837.0,219.3 L838.5,222.4 L840.0,225.5 L841.5,228.7 L843.0,231.9 L844.5,235.1 L846.0,238.4 L847.5,241.7 L849.0,245.0 L850.5,248.5 L852.0,252.0 L853.5,255.6 L855.0,259.3 L856.5,263.1 L858.0,267.1 L859.5,271.1 L861.0,275.2 L862.5,279.4 L864.0,283.7 L865.5,288.2 L867.0,292.8 L868.5,297.5 L870.0,302.4 L871.5,307.4 L873.0,312.5 L874.5,317.7 L876.0,323.0 L877.5,328.5 L879.0,334.0 L880.5,339.6 L882.0,345.3 L883.5,351.0 L885.0,356.6 L886.5,362.2 L888.0,367.8 L889.5,373.3 L891.0,378.8 L892.5,384.3 L894.0,389.9 L895.5,395.5 L897.0,401.2 L898.5,407.1 L900.0,413.0 L901.5,419.2 L903.0,425.5 L904.5,432.0 L906.0,438.7 L907.5,445.7 L909.0,452.9 L910.5,460.3 L912.0,467.8 L913.5,475.3 L915.0,482.8 L916.5,490.2 L918.0,497.5 L919.5,504.7 L921.0,511.5 L922.5,518.1 L924.0,524.4 L925.5,530.3 L927.0,536.0 L928.5,541.4 L930.0,546.6 L931.5,551.7 L933.0,556.6 L934.5,561.4 L936.0,566.2 L937.5,571.0 L939.0,575.8 L940.5,580.7 L942.0,585.7 L943.5,590.8 L945.0,596.1 L946.5,601.7 L948.0,607.4 L949.5,613.5 L951.0,619.9 L952.5,626.5 L954.0,633.1 L955.5,639.8 L957.0,646.4 L958.5,652.8 L960.0,659.0 L961.5,664.8 L963.0,670.2 L964.5,675.2 L966.0,679.8 L967.5,684.0 L969.0,687.9 L970.5,691.3 L972.0,694.4 L973.5,697.0 L975.0,699.3 L976.5,701.2 L978.0,702.7 L979.5,703.8 L981.0,704.6 L982.5,705.0 L984.0,705.0 L985.5,704.6 L987.0,703.9 L988.5,702.9 L990.0,701.6 L991.5,699.9 L993.0,698.0 L994.5,695.7 L996.0,693.2 L997.5,690.4 L999.0,687.4 L1000.5,684.1 L1002.0,680.6 L1003.5,676.9 L1005.0,672.9 L1006.5,668.8 L1008.0,664.5 L1009.5,659.9 L1011.0,655.3 L1012.5,650.5 L1014.0,645.5 L1015.5,640.4 L1017.0,635.1 L1018.5,629.8 L1020.0,624.3 L1021.5,618.7 L1023.0,613.1 L1024.5,607.3 L1026.0,601.4 L1027.5,595.5 L1029.0,589.5 L1030.5,583.4 L1032.0,577.3 L1033.5,571.1 L1035.0,564.9 L1036.5,558.6 L1038.0,552.3 L1039.5,546.0 L1041.0,539.7 L1042.5,533.4 L1044.0,527.0 L1045.5,520.7 L1047.0,514.4 L1048.5,508.1 L1050.0,501.8 L1051.5,495.6 L1053.0,489.4 L1054.5,483.2 L1056.0,477.2 L1057.5,471.1 L1059.0,465.2 L1060.5,459.3 L1062.0,453.5 L1063.5,447.8 L1065.0,442.2 L1066.5,436.6 L1068.0,431.1 L1069.5,425.6 L1071.0,420.2 L1072.5,414.9 L1074.0,409.6 L1075.5,404.4 L1077.0,399.2 L1078.5,394.0 L1080.0,388.9 L1081.5,383.9 L1083.0,378.9 L1084.5,374.0 L1086.0,369.1 L1087.5,364.3 L1089.0,359.7 L1090.5,355.1 L1092.0,350.7 L1093.5,346.3 L1095.0,342.1 L1096.5,338.0 L1098.0,334.1 L1099.5,330.2 L1101.0,326.4 L1102.5,322.7 L1104.0,319.1 L1105.5,315.6 L1107.0,312.2 L1108.5,308.8 L1110.0,305.6 L1111.5,302.3 L1113.0,299.1 L1114.5,296.0 L1116.0,292.9 L1117.5,289.9 L1119.0,286.9 L1120.5,284.0 L1122.0,281.1 L1123.5,278.2 L1125.0,275.4 L1126.5,272.6 L1128.0,269.9 L1129.5,267.2 L1131.0,264.6 L1132.5,262.0 L1134.0,259.4 L1135.5,256.9 L1137.0,254.4 L1138.5,252.0 L1140.0,249.6 L1141.5,247.2 L1143.0,244.9 L1144.5,242.6 L1146.0,240.3 L1147.5,238.1 L1149.0,235.9 L1150.5,233.7 L1152.0,231.6 L1153.5,229.5 L1155.0,227.5 L1156.5,225.5 L1158.0,223.5 L1159.5,221.5 L1161.0,219.6 L1162.5,217.7 L1164.0,215.8 L1165.5,214.0 L1167.0,212.2 L1168.5,210.4 L1170.0,208.7 L1171.5,206.9 L1173.0,205.3 L1174.5,203.6 L1176.0,201.9 L1177.5,200.3 L1179.0,198.7 L1180.5,197.2 L1182.0,195.6 L1183.5,194.1 L1185.0,192.6 L1186.5,191.1 L1188.0,189.7 L1189.5,188.2 L1191.0,186.8 L1192.5,185.4 L1194.0,184.0 L1195.5,182.7 L1197.0,181.3 L1198.5,180.0 L1200.0,178.7 L1201.5,177.4 L1203.0,176.2 L1204.5,174.9 L1206.0,173.7 L1207.5,172.5 L1209.0,171.3 L1210.5,170.1 L1212.0,168.9 L1213.5,167.7 L1215.0,166.6 L1216.5,165.5 L1218.0,164.4 L1219.5,163.3 L1221.0,162.2 L1222.5,161.1 L1224.0,160.1 L1225.5,159.1 L1227.0,158.0 L1228.5,157.0 L1230.0,156.1 L1231.5,155.1 L1233.0,154.1 L1234.5,153.2 L1236.0,152.2 L1237.5,151.3 L1239.0,150.4 L1240.5,149.5 L1242.0,148.6 L1243.5,147.8 L1245.0,146.9 L1246.5,146.1 L1248.0,145.2 L1249.5,144.4 L1251.0,143.6 L1252.5,142.8 L1254.0,142.0 L1255.5,141.3 L1257.0,140.5 L1258.5,139.8 L1260.0,139.0 L1261.5,138.3 L1263.0,137.6 L1264.5,136.9 L1266.0,136.2 L1267.5,135.5 L1269.0,134.9 L1270.5,134.2 L1272.0,133.6 L1273.5,132.9 L1275.0,132.3 L1276.5,131.7 L1278.0,131.1 L1279.5,130.5 L1281.0,129.9 L1282.5,129.3 L1284.0,128.7 L1285.5,128.2 L1287.0,127.6 L1288.5,127.1 L1290.0,126.5 L1291.5,126.0 L1293.0,125.5 L1294.5,125.0 L1296.0,124.5 L1297.5,124.0 L1299.0,123.5 L1300.5,123.0 L1302.0,122.5 L1303.5,122.1 L1305.0,121.6 L1306.5,121.1 L1308.0,120.7 L1309.5,120.3 L1311.0,119.8 L1312.5,119.4 L1314.0,119.0 L1315.5,118.6 L1317.0,118.2 L1318.5,117.8 L1320.0,117.4 L1321.5,117.0 L1323.0,116.6 L1324.5,116.2 L1326.0,115.8 L1327.5,115.5 L1329.0,115.1 L1330.5,114.7 L1332.0,114.4 L1333.5,114.0 L1335.0,113.7 L1336.5,113.3 L1338.0,113.0 L1339.5,112.6 L1341.0,112.3 L1342.5,112.0 L1344.0,111.6 L1345.5,111.3 L1347.0,111.0 L1348.5,110.7 L1350.0,110.4 L1351.5,110.1 L1353.0,109.7 L1354.5,109.4 L1356.0,109.1 L1357.5,108.8 L1359.0,108.5 L1360.5,108.2 L1362.0,107.9 L1363.5,107.6 L1365.0,107.3 L1366.5,107.1 L1368.0,106.8 L1369.5,106.5 L1371.0,106.2 L1372.5,105.9 L1374.0,105.7 L1375.5,105.4 L1377.0,105.1 L1378.5,104.8 L1380.0,104.6 L1381.5,104.3 L1383.0,104.0 L1384.5,103.8 L1386.0,103.5 L1387.5,103.3 L1389.0,103.0 L1390.5,102.8 L1392.0,102.5 L1393.5,102.3 L1395.0,102.0 L1396.5,101.8 L1398.0,101.6 L1399.5,101.3 L1401.0,101.1 L1402.5,100.8 L1404.0,100.6 L1405.5,100.4 L1407.0,100.2 L1408.5,99.9 L1410.0,99.7 L1411.5,99.5 L1413.0,99.3 L1414.5,99.1 L1416.0,98.8 L1417.5,98.6 L1419.0,98.4 L1420.5,98.2 L1422.0,98.0 L1423.5,97.8 L1425.0,97.6 L1426.5,97.4 L1428.0,97.2 L1429.5,97.0 L1431.0,96.8 L1432.5,96.6 L1434.0,96.4 L1435.5,96.3 L1437.0,96.1 L1438.5,95.9 L1440.0,95.7 L1441.5,95.5 L1443.0,95.3 L1444.5,95.2 L1446.0,95.0 L1447.5,94.8 L1449.0,94.6 L1450.5,94.5 L1452.0,94.3 L1453.5,94.1 L1455.0,94.0 L1456.5,93.8 L1458.0,93.7 L1459.5,93.5 L1461.0,93.3 L1462.5,93.2 L1464.0,93.0 L1465.5,92.9 L1467.0,92.7 L1468.5,92.6 L1470.0,92.4 L1471.5,92.3 L1473.0,92.1 L1474.5,92.0 L1476.0,91.9 L1477.5,91.7 L1479.0,91.6 L1480.5,91.5 L1482.0,91.3 L1483.5,91.2 L1485.0,91.1 L1486.5,90.9 L1488.0,90.8 L1489.5,90.7 L1491.0,90.5 L1492.5,90.4 L1494.0,90.3 L1495.5,90.2 L1497.0,90.1 L1498.5,89.9 L1500.0,89.8 L1501.5,89.7 L1503.0,89.6 L1504.5,89.5 L1506.0,89.4 L1507.5,89.3 L1509.0,89.2 L1510.5,89.1 L1512.0,89.0 L1513.5,88.9 L1515.0,88.7 L1516.5,88.6 L1518.0,88.5 L1519.5,88.4 L1521.0,88.4 L1522.5,88.3 L1524.0,88.2 L1525.5,88.1 L1527.0,88.0 L1528.5,87.9 L1530.0,87.8 L1531.5,87.7 L1533.0,87.6 L1534.5,87.5 L1536.0,87.4 L1537.5,87.4 L1539.0,87.3 L1540.5,87.2 L1542.0,87.1 L1543.5,87.0 L1545.0,87.0 L1546.5,86.9 L1548.0,86.8 L1549.5,86.7 L1551.0,86.7 L1552.5,86.6 L1554.0,86.5 L1555.5,86.4 L1557.0,86.4 L1558.5,86.3 L1560.0,86.2 L1561.5,86.2 L1563.0,86.1 L1564.5,86.0 L1566.0,86.0 L1567.5,85.9 L1569.0,85.9 L1570.5,85.8 L1572.0,85.7 L1573.5,85.7 L1575.0,85.6 L1576.5,85.6 L1578.0,85.5 L1579.5,85.4 L1581.0,85.4 L1582.5,85.3 L1584.0,85.3 L1585.5,85.2 L1587.0,85.2 L1588.5,85.1 L1590.0,85.1 L1591.5,85.0 L1593.0,85.0 L1594.5,84.9 L1596.0,84.9 L1597.5,84.8 L1599.0,84.8 L1600.5,84.7 L1602.0,84.7 L1603.5,84.6 L1605.0,84.6 L1606.5,84.6 L1608.0,84.5 L1609.5,84.5 L1611.0,84.4 L1612.5,84.4 L1614.0,84.4 L1615.5,84.3 L1617.0,84.3 L1618.5,84.2 L1620.0,84.2 L1621.5,84.2 L1623.0,84.1 L1624.5,84.1 L1626.0,84.0 L1627.5,84.0 L1629.0,84.0 L1630.5,83.9 L1632.0,83.9 L1633.5,83.9 L1635.0,83.8 L1636.5,83.8 L1638.0,83.8 L1639.5,83.7 L1641.0,83.7 L1642.5,83.7 L1644.0,83.7 L1645.5,83.6 L1647.0,83.6 L1648.5,83.6 L1650.0,83.5 L1651.5,83.5 L1653.0,83.5 L1654.5,83.4 L1656.0,83.4 L1657.5,83.4 L1659.0,83.4 L1660.5,83.3 L1662.0,83.3 L1663.5,83.3 L1665.0,83.2 L1666.5,83.2 L1668.0,83.2 L1669.5,83.2 L1671.0,83.1 L1672.5,83.1 L1674.0,83.1 L1675.5,83.1 L1677.0,83.0 L1678.5,83.0 L1680.0,83.0 L1681.5,83.0 L1683.0,82.9 L1684.5,82.9 L1686.0,82.9 L1687.5,82.8 L1689.0,82.8 L1690.5,82.8 L1692.0,82.8 L1693.5,82.7 L1695.0,82.7 L1696.5,82.7 L1698.0,82.7 L1699.5,82.6 L1701.0,82.6 L1702.5,82.6 L1704.0,82.6 L1705.5,82.5 L1707.0,82.5 L1708.5,82.5 L1710.0,82.5 L1711.5,82.4 L1713.0,82.4 L1714.5,82.4 L1716.0,82.3 L1717.5,82.3 L1719.0,82.3 L1720.5,82.3 L1722.0,82.2 L1723.5,82.2 L1725.0,82.2 L1726.5,82.1 L1728.0,82.1 L1729.5,82.1 L1731.0,82.1 L1732.5,82.0 L1734.0,82.0 L1735.5,82.0 L1737.0,81.9 L1738.5,81.9 L1740.0,81.9 L1741.5,81.8 L1743.0,81.8 L1744.5,81.8 L1746.0,81.7 L1747.5,81.7 L1749.0,81.7 L1750.5,81.6 L1752.0,81.6 L1753.5,81.5 L1755.0,81.5 L1756.5,81.5 L1758.0,81.4 L1759.5,81.4 L1761.0,81.4 L1762.5,81.3 L1764.0,81.3 L1765.5,81.2 L1767.0,81.2 L1768.5,81.2 L1770.0,81.1 L1771.5,81.1 L1773.0,81.0 L1774.5,81.0 L1776.0,80.9 L1777.5,80.9 L1779.0,80.8 L1780.5,80.8 L1782.0,80.7 L1783.5,80.7 L1785.0,80.7 L1786.5,80.6 L1788.0,80.5 L1789.5,80.5 L1791.0,80.4 L1792.5,80.4 L1794.0,80.3 L1795.5,80.3 L1797.0,80.2 L1798.5,80.2 L1800.0,80.1 L1801.5,80.1 L1803.0,80.0 L1804.5,79.9 L1806.0,79.9 L1807.5,79.8 L1809.0,79.8 L1810.5,79.7 L1812.0,79.6 L1813.5,79.6 L1815.0,79.5 L1816.5,79.4 L1818.0,79.4 L1819.5,79.3 L1821.0,79.2 L1822.5,79.2 L1824.0,79.1 L1825.5,79.0 L1827.0,78.9 L1828.5,78.9 L1830.0,78.8"/>
<path stroke="#000" d="M196.0,33.9 C202.2,34.1 208.6,34.0 214.6,34.6 C220.3,35.2 225.3,36.1 231.0,37.3 C237.5,38.7 245.3,40.7 251.6,42.8 C257.1,44.7 262.8,48.7 266.7,49.0 C269.2,49.2 270.8,47.1 272.8,47.4 C274.9,47.8 276.8,50.3 279.0,51.7 C281.4,53.2 283.9,55.6 286.5,56.0 C288.9,56.3 290.9,54.6 294.0,54.2 C298.9,53.6 306.8,53.9 313.2,53.8 L330.0,50.1 L331.5,49.7 L333.0,49.3 L334.5,48.9 L336.0,48.6 L337.5,48.2 L339.0,47.8 L340.5,47.5 L342.0,47.1 L343.5,46.8 L345.0,46.4 L346.5,46.1 L348.0,45.8 L349.5,45.5 L351.0,45.2 L352.5,44.9 L354.0,44.6 L355.5,44.4 L357.0,44.1 L358.5,43.8 L360.0,43.6 L361.5,43.4 L363.0,43.2 L364.5,42.9 L366.0,42.7 L367.5,42.6 L369.0,42.4 L370.5,42.2 L372.0,42.1 L373.5,41.9 L375.0,41.8 L376.5,41.7 L378.0,41.6 L379.5,41.5 L381.0,41.4 L382.5,41.4 L384.0,41.3 L385.5,41.3 L387.0,41.3 L388.5,41.2 L390.0,41.2 L391.5,41.3 L393.0,41.3 L394.5,41.3 L396.0,41.3 L397.5,41.4 L399.0,41.5 L400.5,41.5 L402.0,41.6 L403.5,41.7 L405.0,41.8 L406.5,41.9 L408.0,42.0 L409.5,42.1 L411.0,42.2 L412.5,42.4 L414.0,42.5 L415.5,42.6 L417.0,42.8 L418.5,42.9 L420.0,43.1 L421.5,43.2 L423.0,43.4 L424.5,43.6 L426.0,43.7 L427.5,43.9 L429.0,44.0 L430.5,44.2 L432.0,44.4 L433.5,44.5 L435.0,44.7 L436.5,44.9 L438.0,45.0 L439.5,45.2 L441.0,45.4 L442.5,45.5 L444.0,45.7 L445.5,45.9 L447.0,46.0 L448.5,46.2 L450.0,46.3 L451.5,46.5 L453.0,46.6 L454.5,46.8 L456.0,46.9 L457.5,47.1 L459.0,47.2 L460.5,47.3 L462.0,47.5 L463.5,47.6 L465.0,47.8 L466.5,47.9 L468.0,48.0 L469.5,48.2 L471.0,48.3 L472.5,48.4 L474.0,48.6 L475.5,48.7 L477.0,48.8 L478.5,49.0 L480.0,49.1 L481.5,49.2 L483.0,49.4 L484.5,49.5 L486.0,49.6 L487.5,49.7 L489.0,49.9 L490.5,50.0 L492.0,50.1 L493.5,50.3 L495.0,50.4 L496.5,50.5 L498.0,50.6 L499.5,50.8 L501.0,50.9 L502.5,51.0 L504.0,51.1 L505.5,51.2 L507.0,51.4 L508.5,51.5 L510.0,51.6 L511.5,51.7 L513.0,51.9 L514.5,52.0 L516.0,52.1 L517.5,52.3 L519.0,52.4 L520.5,52.5 L522.0,52.6 L523.5,52.8 L525.0,52.9 L526.5,53.0 L528.0,53.2 L529.5,53.3 L531.0,53.4 L532.5,53.6 L534.0,53.7 L535.5,53.8 L537.0,54.0 L538.5,54.1 L540.0,54.3 L541.5,54.4 L543.0,54.6 L544.5,54.7 L546.0,54.9 L547.5,55.0 L549.0,55.2 L550.5,55.3 L552.0,55.5 L553.5,55.7 L555.0,55.8 L556.5,56.0 L558.0,56.2 L559.5,56.3 L561.0,56.5 L562.5,56.7 L564.0,56.9 L565.5,57.1 L567.0,57.2 L568.5,57.4 L570.0,57.6 L571.5,57.8 L573.0,58.0 L574.5,58.2 L576.0,58.4 L577.5,58.6 L579.0,58.9 L580.5,59.1 L582.0,59.3 L583.5,59.5 L585.0,59.7 L586.5,60.0 L588.0,60.2 L589.5,60.5 L591.0,60.7 L592.5,60.9 L594.0,61.2 L595.5,61.5 L597.0,61.7 L598.5,62.0 L600.0,62.2 L601.5,62.5 L603.0,62.8 L604.5,63.1 L606.0,63.4 L607.5,63.7 L609.0,64.0 L610.5,64.3 L612.0,64.6 L613.5,64.9 L615.0,65.2 L616.5,65.5 L618.0,65.9 L619.5,66.2 L621.0,66.5 L622.5,66.9 L624.0,67.2 L625.5,67.6 L627.0,68.0 L628.5,68.3 L630.0,68.7 L631.5,69.1 L633.0,69.5 L634.5,69.9 L636.0,70.3 L637.5,70.7 L639.0,71.1 L640.5,71.5 L642.0,71.9 L643.5,72.4 L645.0,72.8 L646.5,73.2 L648.0,73.7 L649.5,74.2 L651.0,74.6 L652.5,75.1 L654.0,75.6 L655.5,76.1 L657.0,76.5 L658.5,77.1 L660.0,77.6 L661.5,78.1 L663.0,78.6 L664.5,79.1 L666.0,79.7 L667.5,80.2 L669.0,80.8 L670.5,81.3 L672.0,81.9 L673.5,82.5 L675.0,83.1 L676.5,83.7 L678.0,84.3 L679.5,84.9 L681.0,85.5 L682.5,86.1 L684.0,86.8 L685.5,87.4 L687.0,88.1 L688.5,88.7 L690.0,89.4 L691.5,90.1 L693.0,90.8 L694.5,91.5 L696.0,92.2 L697.5,92.9 L699.0,93.6 L700.5,94.3 L702.0,95.1 L703.5,95.8 L705.0,96.6 L706.5,97.4 L708.0,98.1 L709.5,98.9 L711.0,99.7 L712.5,100.5 L714.0,101.4 L715.5,102.2 L717.0,103.0 L718.5,103.9 L720.0,104.8 L721.5,105.6 L723.0,106.5 L724.5,107.4 L726.0,108.3 L727.5,109.2 L729.0,110.1 L730.5,111.1 L732.0,112.0 L733.5,113.0 L735.0,113.9 L736.5,114.9 L738.0,115.9 L739.5,116.9 L741.0,117.9 L742.5,118.9 L744.0,120.0 L745.5,121.0 L747.0,122.1 L748.5,123.2 L750.0,124.3 L751.5,125.4 L753.0,126.5 L754.5,127.7 L756.0,128.9 L757.5,130.1 L759.0,131.3 L760.5,132.6 L762.0,133.8 L763.5,135.1 L765.0,136.5 L766.5,137.8 L768.0,139.2 L769.5,140.7 L771.0,142.1 L772.5,143.6 L774.0,145.1 L775.5,146.7 L777.0,148.3 L778.5,149.9 L780.0,151.6 L781.5,153.3 L783.0,155.1 L784.5,156.9 L786.0,158.7 L787.5,160.6 L789.0,162.6 L790.5,164.6 L792.0,166.6 L793.5,168.7 L795.0,170.8 L796.5,173.0 L798.0,175.2 L799.5,177.5 L801.0,179.9 L802.5,182.3 L804.0,184.7 L805.5,187.3 L807.0,189.8 L808.5,192.5 L810.0,195.2 L811.5,197.9 L813.0,200.7 L814.5,203.6 L816.0,206.6 L817.5,209.6 L819.0,212.7 L820.5,215.8 L822.0,219.0 L823.5,222.3 L825.0,225.7 L826.5,229.1 L828.0,232.6 L829.5,236.1 L831.0,239.7 L832.5,243.4 L834.0,247.1 L835.5,250.9 L837.0,254.8 L838.5,258.8 L840.0,262.8 L841.5,267.0 L843.0,271.2 L844.5,275.5 L846.0,279.9 L847.5,284.4 L849.0,289.1 L850.5,293.8 L852.0,298.7 L853.5,303.6 L855.0,308.7 L856.5,313.9 L858.0,319.3 L859.5,324.7 L861.0,330.3 L862.5,336.0 L864.0,341.8 L865.5,347.6 L867.0,353.2 L868.5,358.7 L870.0,363.9 L871.5,368.9 L873.0,373.8 L874.5,378.7 L876.0,383.6 L877.5,388.5 L879.0,393.6 L880.5,399.0 L882.0,404.6 L883.5,410.6 L885.0,417.0 L886.5,424.0 L888.0,431.4 L889.5,439.2 L891.0,447.2 L892.5,455.5 L894.0,463.9 L895.5,472.3 L897.0,480.7 L898.5,488.8 L900.0,496.8 L901.5,504.3 L903.0,511.4 L904.5,518.0 L906.0,524.0 L907.5,529.4 L909.0,534.4 L910.5,539.0 L912.0,543.3 L913.5,547.3 L915.0,551.2 L916.5,555.1 L918.0,558.9 L919.5,562.9 L921.0,567.1 L922.5,571.5 L924.0,576.2 L925.5,581.2 L927.0,586.3 L928.5,591.6 L930.0,597.0 L931.5,602.6 L933.0,608.2 L934.5,613.8 L936.0,619.4 L937.5,625.0 L939.0,630.6 L940.5,636.0 L942.0,641.3 L943.5,646.5 L945.0,651.4 L946.5,656.2 L948.0,660.7 L949.5,664.9 L951.0,668.9 L952.5,672.5 L954.0,675.7 L955.5,678.6 L957.0,681.1 L958.5,683.1 L960.0,684.7 L961.5,685.8 L963.0,686.4 L964.5,686.4 L966.0,686.0 L967.5,685.2 L969.0,683.9 L970.5,682.3 L972.0,680.3 L973.5,678.0 L975.0,675.4 L976.5,672.6 L978.0,669.5 L979.5,666.2 L981.0,662.8 L982.5,659.2 L984.0,655.5 L985.5,651.7 L987.0,647.9 L988.5,644.0 L990.0,640.0 L991.5,636.0 L993.0,631.8 L994.5,627.6 L996.0,623.3 L997.5,618.9 L999.0,614.4 L1000.5,609.8 L1002.0,605.1 L1003.5,600.3 L1005.0,595.4 L1006.5,590.4 L1008.0,585.2 L1009.5,579.9 L1011.0,574.5 L1012.5,569.0 L1014.0,563.3 L1015.5,557.5 L1017.0,551.5 L1018.5,545.4 L1020.0,539.2 L1021.5,532.9 L1023.0,526.6 L1024.5,520.1 L1026.0,513.7 L1027.5,507.2 L1029.0,500.6 L1030.5,494.1 L1032.0,487.5 L1033.5,481.0 L1035.0,474.4 L1036.5,467.9 L1038.0,461.3 L1039.5,454.9 L1041.0,448.4 L1042.5,442.0 L1044.0,435.7 L1045.5,429.4 L1047.0,423.2 L1048.5,417.0 L1050.0,411.0 L1051.5,405.1 L1053.0,399.2 L1054.5,393.5 L1056.0,387.9 L1057.5,382.4 L1059.0,377.1 L1060.5,371.9 L1062.0,366.9 L1063.5,362.1 L1065.0,357.4 L1066.5,352.9 L1068.0,348.6 L1069.5,344.5 L1071.0,340.5 L1072.5,336.7 L1074.0,333.0 L1075.5,329.4 L1077.0,326.0 L1078.5,322.6 L1080.0,319.3 L1081.5,316.1 L1083.0,313.0 L1084.5,309.9 L1086.0,306.9 L1087.5,303.8 L1089.0,300.8 L1090.5,297.8 L1092.0,294.7 L1093.5,291.7 L1095.0,288.7 L1096.5,285.6 L1098.0,282.6 L1099.5,279.6 L1101.0,276.6 L1102.5,273.6 L1104.0,270.6 L1105.5,267.7 L1107.0,264.8 L1108.5,262.0 L1110.0,259.2 L1111.5,256.5 L1113.0,253.8 L1114.5,251.1 L1116.0,248.5 L1117.5,246.0 L1119.0,243.4 L1120.5,241.0 L1122.0,238.6 L1123.5,236.2 L1125.0,233.8 L1126.5,231.5 L1128.0,229.3 L1129.5,227.0 L1131.0,224.9 L1132.5,222.7 L1134.0,220.6 L1135.5,218.6 L1137.0,216.5 L1138.5,214.6 L1140.0,212.6 L1141.5,210.7 L1143.0,208.8 L1144.5,207.0 L1146.0,205.2 L1147.5,203.4 L1149.0,201.6 L1150.5,199.9 L1152.0,198.2 L1153.5,196.6 L1155.0,195.0 L1156.5,193.4 L1158.0,191.8 L1159.5,190.3 L1161.0,188.8 L1162.5,187.3 L1164.0,185.9 L1165.5,184.4 L1167.0,183.0 L1168.5,181.7 L1170.0,180.3 L1171.5,179.0 L1173.0,177.7 L1174.5,176.4 L1176.0,175.1 L1177.5,173.9 L1179.0,172.7 L1180.5,171.5 L1182.0,170.3 L1183.5,169.2 L1185.0,168.0 L1186.5,166.9 L1188.0,165.8 L1189.5,164.7 L1191.0,163.6 L1192.5,162.6 L1194.0,161.6 L1195.5,160.5 L1197.0,159.5 L1198.5,158.5 L1200.0,157.5 L1201.5,156.6 L1203.0,155.6 L1204.5,154.6 L1206.0,153.7 L1207.5,152.8 L1209.0,151.9 L1210.5,151.0 L1212.0,150.1 L1213.5,149.2 L1215.0,148.3 L1216.5,147.4 L1218.0,146.6 L1219.5,145.8 L1221.0,144.9 L1222.5,144.1 L1224.0,143.3 L1225.5,142.5 L1227.0,141.7 L1228.5,140.9 L1230.0,140.2 L1231.5,139.4 L1233.0,138.7 L1234.5,137.9 L1236.0,137.2 L1237.5,136.5 L1239.0,135.8 L1240.5,135.1 L1242.0,134.4 L1243.5,133.7 L1245.0,133.0 L1246.5,132.4 L1248.0,131.7 L1249.5,131.1 L1251.0,130.4 L1252.5,129.8 L1254.0,129.2 L1255.5,128.6 L1257.0,128.0 L1258.5,127.4 L1260.0,126.8 L1261.5,126.2 L1263.0,125.6 L1264.5,125.1 L1266.0,124.5 L1267.5,124.0 L1269.0,123.4 L1270.5,122.9 L1272.0,122.4 L1273.5,121.9 L1275.0,121.3 L1276.5,120.8 L1278.0,120.3 L1279.5,119.9 L1281.0,119.4 L1282.5,118.9 L1284.0,118.4 L1285.5,118.0 L1287.0,117.5 L1288.5,117.1 L1290.0,116.6 L1291.5,116.2 L1293.0,115.8 L1294.5,115.3 L1296.0,114.9 L1297.5,114.5 L1299.0,114.1 L1300.5,113.7 L1302.0,113.3 L1303.5,112.9 L1305.0,112.5 L1306.5,112.1 L1308.0,111.8 L1309.5,111.4 L1311.0,111.0 L1312.5,110.7 L1314.0,110.3 L1315.5,109.9 L1317.0,109.6 L1318.5,109.3 L1320.0,108.9 L1321.5,108.6 L1323.0,108.3 L1324.5,107.9 L1326.0,107.6 L1327.5,107.3 L1329.0,107.0 L1330.5,106.7 L1332.0,106.4 L1333.5,106.0 L1335.0,105.7 L1336.5,105.5 L1338.0,105.2 L1339.5,104.9 L1341.0,104.6 L1342.5,104.3 L1344.0,104.0 L1345.5,103.7 L1347.0,103.5 L1348.5,103.2 L1350.0,102.9 L1351.5,102.6 L1353.0,102.4 L1354.5,102.1 L1356.0,101.8 L1357.5,101.6 L1359.0,101.3 L1360.5,101.1 L1362.0,100.8 L1363.5,100.6 L1365.0,100.3 L1366.5,100.1 L1368.0,99.8 L1369.5,99.6 L1371.0,99.3 L1372.5,99.1 L1374.0,98.9 L1375.5,98.6 L1377.0,98.4 L1378.5,98.2 L1380.0,98.0 L1381.5,97.7 L1383.0,97.5 L1384.5,97.3 L1386.0,97.1 L1387.5,96.8 L1389.0,96.6 L1390.5,96.4 L1392.0,96.2 L1393.5,96.0 L1395.0,95.8 L1396.5,95.6 L1398.0,95.4 L1399.5,95.2 L1401.0,95.0 L1402.5,94.8 L1404.0,94.6 L1405.5,94.4 L1407.0,94.2 L1408.5,94.0 L1410.0,93.8 L1411.5,93.7 L1413.0,93.5 L1414.5,93.3 L1416.0,93.1 L1417.5,92.9 L1419.0,92.8 L1420.5,92.6 L1422.0,92.4 L1423.5,92.2 L1425.0,92.1 L1426.5,91.9 L1428.0,91.7 L1429.5,91.6 L1431.0,91.4 L1432.5,91.3 L1434.0,91.1 L1435.5,91.0 L1437.0,90.8 L1438.5,90.6 L1440.0,90.5 L1441.5,90.3 L1443.0,90.2 L1444.5,90.1 L1446.0,89.9 L1447.5,89.8 L1449.0,89.6 L1450.5,89.5 L1452.0,89.4 L1453.5,89.2 L1455.0,89.1 L1456.5,89.0 L1458.0,88.8 L1459.5,88.7 L1461.0,88.6 L1462.5,88.4 L1464.0,88.3 L1465.5,88.2 L1467.0,88.1 L1468.5,87.9 L1470.0,87.8 L1471.5,87.7 L1473.0,87.6 L1474.5,87.5 L1476.0,87.4 L1477.5,87.3 L1479.0,87.1 L1480.5,87.0 L1482.0,86.9 L1483.5,86.8 L1485.0,86.7 L1486.5,86.6 L1488.0,86.5 L1489.5,86.4 L1491.0,86.3 L1492.5,86.2 L1494.0,86.1 L1495.5,86.0 L1497.0,85.9 L1498.5,85.8 L1500.0,85.8 L1501.5,85.7 L1503.0,85.6 L1504.5,85.5 L1506.0,85.4 L1507.5,85.3 L1509.0,85.2 L1510.5,85.1 L1512.0,85.1 L1513.5,85.0 L1515.0,84.9 L1516.5,84.8 L1518.0,84.8 L1519.5,84.7 L1521.0,84.6 L1522.5,84.5 L1524.0,84.5 L1525.5,84.4 L1527.0,84.3 L1528.5,84.2 L1530.0,84.2 L1531.5,84.1 L1533.0,84.0 L1534.5,84.0 L1536.0,83.9 L1537.5,83.9 L1539.0,83.8 L1540.5,83.7 L1542.0,83.7 L1543.5,83.6 L1545.0,83.6 L1546.5,83.5 L1548.0,83.4 L1549.5,83.4 L1551.0,83.3 L1552.5,83.3 L1554.0,83.2 L1555.5,83.2 L1557.0,83.1 L1558.5,83.1 L1560.0,83.0 L1561.5,83.0 L1563.0,82.9 L1564.5,82.9 L1566.0,82.8 L1567.5,82.8 L1569.0,82.8 L1570.5,82.7 L1572.0,82.7 L1573.5,82.6 L1575.0,82.6 L1576.5,82.5 L1578.0,82.5 L1579.5,82.5 L1581.0,82.4 L1582.5,82.4 L1584.0,82.3 L1585.5,82.3 L1587.0,82.3 L1588.5,82.2 L1590.0,82.2 L1591.5,82.2 L1593.0,82.1 L1594.5,82.1 L1596.0,82.1 L1597.5,82.0 L1599.0,82.0 L1600.5,82.0 L1602.0,82.0 L1603.5,81.9 L1605.0,81.9 L1606.5,81.9 L1608.0,81.8 L1609.5,81.8 L1611.0,81.8 L1612.5,81.8 L1614.0,81.7 L1615.5,81.7 L1617.0,81.7 L1618.5,81.7 L1620.0,81.6 L1621.5,81.6 L1623.0,81.6 L1624.5,81.6 L1626.0,81.5 L1627.5,81.5 L1629.0,81.5 L1630.5,81.5 L1632.0,81.5 L1633.5,81.4 L1635.0,81.4 L1636.5,81.4 L1638.0,81.4 L1639.5,81.4 L1641.0,81.3 L1642.5,81.3 L1644.0,81.3 L1645.5,81.3 L1647.0,81.3 L1648.5,81.2 L1650.0,81.2 L1651.5,81.2 L1653.0,81.2 L1654.5,81.2 L1656.0,81.1 L1657.5,81.1 L1659.0,81.1 L1660.5,81.1 L1662.0,81.1 L1663.5,81.1 L1665.0,81.0 L1666.5,81.0 L1668.0,81.0 L1669.5,81.0 L1671.0,81.0 L1672.5,81.0 L1674.0,80.9 L1675.5,80.9 L1677.0,80.9 L1678.5,80.9 L1680.0,80.9 L1681.5,80.9 L1683.0,80.8 L1684.5,80.8 L1686.0,80.8 L1687.5,80.8 L1689.0,80.8 L1690.5,80.8 L1692.0,80.7 L1693.5,80.7 L1695.0,80.7 L1696.5,80.7 L1698.0,80.7 L1699.5,80.7 L1701.0,80.6 L1702.5,80.6 L1704.0,80.6 L1705.5,80.6 L1707.0,80.6 L1708.5,80.5 L1710.0,80.5 L1711.5,80.5 L1713.0,80.5 L1714.5,80.5 L1716.0,80.4 L1717.5,80.4 L1719.0,80.4 L1720.5,80.4 L1722.0,80.4 L1723.5,80.3 L1725.0,80.3 L1726.5,80.3 L1728.0,80.3 L1729.5,80.2 L1731.0,80.2 L1732.5,80.2 L1734.0,80.2 L1735.5,80.2 L1737.0,80.1 L1738.5,80.1 L1740.0,80.1 L1741.5,80.0 L1743.0,80.0 L1744.5,80.0 L1746.0,80.0 L1747.5,79.9 L1749.0,79.9 L1750.5,79.9 L1752.0,79.8 L1753.5,79.8 L1755.0,79.8 L1756.5,79.8 L1758.0,79.7 L1759.5,79.7 L1761.0,79.7 L1762.5,79.6 L1764.0,79.6 L1765.5,79.5 L1767.0,79.5 L1768.5,79.5 L1770.0,79.4 L1771.5,79.4 L1773.0,79.4 L1774.5,79.3 L1776.0,79.3 L1777.5,79.2 L1779.0,79.2 L1780.5,79.2 L1782.0,79.1 L1783.5,79.1 L1785.0,79.0 L1786.5,79.0 L1788.0,78.9 L1789.5,78.9 L1791.0,78.8 L1792.5,78.8 L1794.0,78.7 L1795.5,78.7 L1797.0,78.6 L1798.5,78.6 L1800.0,78.5 L1801.5,78.5 L1803.0,78.4 L1804.5,78.4 L1806.0,78.3 L1807.5,78.2 L1809.0,78.2 L1810.5,78.1 L1812.0,78.1 L1813.5,78.0 L1815.0,77.9 L1816.5,77.9 L1818.0,77.8 L1819.5,77.8 L1821.0,77.7 L1822.5,77.6 L1824.0,77.5 L1825.5,77.5 L1827.0,77.4 L1828.5,77.3 L1830.0,77.3"/>
<path stroke="#000" d="M196.0,33.9 C202.2,34.1 208.6,34.0 214.6,34.6 C220.3,35.2 225.3,36.1 231.0,37.3 C237.5,38.7 245.3,40.7 251.6,42.8 C257.1,44.7 262.8,48.7 266.7,49.0 C269.2,49.2 270.8,47.1 272.8,47.4 C274.9,47.8 276.8,50.3 279.0,51.7 C281.4,53.2 283.9,55.6 286.5,56.0 C288.9,56.3 290.9,54.6 294.0,54.2 C298.9,53.6 306.8,53.9 313.2,53.8 L330.0,50.1 L331.5,49.7 L333.0,49.4 L334.5,49.0 L336.0,48.6 L337.5,48.2 L339.0,47.9 L340.5,47.5 L342.0,47.1 L343.5,46.8 L345.0,46.5 L346.5,46.1 L348.0,45.8 L349.5,45.5 L351.0,45.2 L352.5,44.9 L354.0,44.6 L355.5,44.3 L357.0,44.1 L358.5,43.8 L360.0,43.6 L361.5,43.3 L363.0,43.1 L364.5,42.9 L366.0,42.7 L367.5,42.5 L369.0,42.3 L370.5,42.2 L372.0,42.0 L373.5,41.9 L375.0,41.7 L376.5,41.6 L378.0,41.5 L379.5,41.4 L381.0,41.4 L382.5,41.3 L384.0,41.3 L385.5,41.2 L387.0,41.2 L388.5,41.2 L390.0,41.2 L391.5,41.2 L393.0,41.2 L394.5,41.3 L396.0,41.3 L397.5,41.4 L399.0,41.5 L400.5,41.5 L402.0,41.6 L403.5,41.7 L405.0,41.8 L406.5,41.9 L408.0,42.0 L409.5,42.2 L411.0,42.3 L412.5,42.4 L414.0,42.6 L415.5,42.7 L417.0,42.9 L418.5,43.0 L420.0,43.2 L421.5,43.3 L423.0,43.5 L424.5,43.7 L426.0,43.8 L427.5,44.0 L429.0,44.2 L430.5,44.3 L432.0,44.5 L433.5,44.7 L435.0,44.8 L436.5,45.0 L438.0,45.2 L439.5,45.3 L441.0,45.5 L442.5,45.6 L444.0,45.8 L445.5,45.9 L447.0,46.1 L448.5,46.2 L450.0,46.4 L451.5,46.5 L453.0,46.7 L454.5,46.8 L456.0,46.9 L457.5,47.1 L459.0,47.2 L460.5,47.3 L462.0,47.5 L463.5,47.6 L465.0,47.7 L466.5,47.8 L468.0,48.0 L469.5,48.1 L471.0,48.2 L472.5,48.3 L474.0,48.5 L475.5,48.6 L477.0,48.7 L478.5,48.8 L480.0,48.9 L481.5,49.0 L483.0,49.2 L484.5,49.3 L486.0,49.4 L487.5,49.5 L489.0,49.6 L490.5,49.7 L492.0,49.9 L493.5,50.0 L495.0,50.1 L496.5,50.2 L498.0,50.3 L499.5,50.5 L501.0,50.6 L502.5,50.7 L504.0,50.8 L505.5,51.0 L507.0,51.1 L508.5,51.2 L510.0,51.3 L511.5,51.5 L513.0,51.6 L514.5,51.7 L516.0,51.9 L517.5,52.0 L519.0,52.2 L520.5,52.3 L522.0,52.4 L523.5,52.6 L525.0,52.7 L526.5,52.9 L528.0,53.1 L529.5,53.2 L531.0,53.4 L532.5,53.5 L534.0,53.7 L535.5,53.9 L537.0,54.0 L538.5,54.2 L540.0,54.4 L541.5,54.6 L543.0,54.8 L544.5,55.0 L546.0,55.2 L547.5,55.3 L549.0,55.5 L550.5,55.8 L552.0,56.0 L553.5,56.2 L555.0,56.4 L556.5,56.6 L558.0,56.8 L559.5,57.1 L561.0,57.3 L562.5,57.5 L564.0,57.8 L565.5,58.0 L567.0,58.3 L568.5,58.5 L570.0,58.8 L571.5,59.0 L573.0,59.3 L574.5,59.6 L576.0,59.8 L577.5,60.1 L579.0,60.4 L580.5,60.7 L582.0,61.0 L583.5,61.3 L585.0,61.6 L586.5,61.9 L588.0,62.2 L589.5,62.5 L591.0,62.8 L592.5,63.1 L594.0,63.4 L595.5,63.8 L597.0,64.1 L598.5,64.5 L600.0,64.8 L601.5,65.1 L603.0,65.5 L604.5,65.9 L606.0,66.2 L607.5,66.6 L609.0,67.0 L610.5,67.3 L612.0,67.7 L613.5,68.1 L615.0,68.5 L616.5,68.9 L618.0,69.3 L619.5,69.7 L621.0,70.1 L622.5,70.6 L624.0,71.0 L625.5,71.4 L627.0,71.8 L628.5,72.3 L630.0,72.7 L631.5,73.2 L633.0,73.6 L634.5,74.1 L636.0,74.6 L637.5,75.0 L639.0,75.5 L640.5,76.0 L642.0,76.5 L643.5,77.0 L645.0,77.5 L646.5,78.0 L648.0,78.5 L649.5,79.0 L651.0,79.5 L652.5,80.1 L654.0,80.6 L655.5,81.1 L657.0,81.7 L658.5,82.2 L660.0,82.8 L661.5,83.3 L663.0,83.9 L664.5,84.5 L666.0,85.1 L667.5,85.7 L669.0,86.3 L670.5,86.9 L672.0,87.5 L673.5,88.1 L675.0,88.7 L676.5,89.3 L678.0,89.9 L679.5,90.6 L681.0,91.2 L682.5,91.9 L684.0,92.5 L685.5,93.2 L687.0,93.9 L688.5,94.5 L690.0,95.2 L691.5,95.9 L693.0,96.6 L694.5,97.3 L696.0,98.0 L697.5,98.7 L699.0,99.5 L700.5,100.2 L702.0,100.9 L703.5,101.7 L705.0,102.4 L706.5,103.2 L708.0,103.9 L709.5,104.7 L711.0,105.5 L712.5,106.3 L714.0,107.2 L715.5,108.0 L717.0,108.8 L718.5,109.7 L720.0,110.6 L721.5,111.5 L723.0,112.4 L724.5,113.4 L726.0,114.3 L727.5,115.3 L729.0,116.3 L730.5,117.3 L732.0,118.4 L733.5,119.4 L735.0,120.5 L736.5,121.7 L738.0,122.8 L739.5,124.0 L741.0,125.2 L742.5,126.4 L744.0,127.7 L745.5,129.0 L747.0,130.3 L748.5,131.7 L750.0,133.1 L751.5,134.5 L753.0,136.0 L754.5,137.5 L756.0,139.0 L757.5,140.6 L759.0,142.2 L760.5,143.9 L762.0,145.6 L763.5,147.3 L765.0,149.1 L766.5,150.9 L768.0,152.7 L769.5,154.6 L771.0,156.6 L772.5,158.6 L774.0,160.6 L775.5,162.7 L777.0,164.8 L778.5,167.0 L780.0,169.2 L781.5,171.5 L783.0,173.8 L784.5,176.2 L786.0,178.6 L787.5,181.1 L789.0,183.7 L790.5,186.2 L792.0,188.9 L793.5,191.6 L795.0,194.3 L796.5,197.1 L798.0,200.0 L799.5,202.9 L801.0,205.9 L802.5,208.9 L804.0,212.0 L805.5,215.2 L807.0,218.4 L808.5,221.7 L810.0,225.0 L811.5,228.4 L813.0,231.9 L814.5,235.5 L816.0,239.1 L817.5,242.8 L819.0,246.7 L820.5,250.6 L822.0,254.6 L823.5,258.6 L825.0,262.8 L826.5,267.1 L828.0,271.6 L829.5,276.1 L831.0,280.7 L832.5,285.5 L834.0,290.4 L835.5,295.4 L837.0,300.5 L838.5,305.6 L840.0,310.9 L841.5,316.2 L843.0,321.6 L844.5,327.0 L846.0,332.5 L847.5,337.9 L849.0,343.4 L850.5,348.9 L852.0,354.3 L853.5,359.8 L855.0,365.2 L856.5,370.6 L858.0,376.1 L859.5,381.7 L861.0,387.4 L862.5,393.3 L864.0,399.4 L865.5,405.8 L867.0,412.5 L868.5,419.5 L870.0,426.9 L871.5,434.7 L873.0,442.6 L874.5,450.8 L876.0,459.0 L877.5,467.2 L879.0,475.4 L880.5,483.4 L882.0,491.2 L883.5,498.7 L885.0,505.8 L886.5,512.5 L888.0,518.7 L889.5,524.3 L891.0,529.5 L892.5,534.3 L894.0,538.8 L895.5,543.2 L897.0,547.6 L898.5,551.9 L900.0,556.5 L901.5,561.2 L903.0,566.2 L904.5,571.3 L906.0,576.6 L907.5,582.0 L909.0,587.4 L910.5,592.9 L912.0,598.4 L913.5,603.8 L915.0,609.2 L916.5,614.5 L918.0,619.7 L919.5,624.7 L921.0,629.6 L922.5,634.2 L924.0,638.7 L925.5,642.9 L927.0,646.8 L928.5,650.5 L930.0,653.8 L931.5,656.8 L933.0,659.4 L934.5,661.6 L936.0,663.4 L937.5,664.8 L939.0,665.9 L940.5,666.6 L942.0,667.1 L943.5,667.2 L945.0,667.1 L946.5,666.7 L948.0,666.1 L949.5,665.2 L951.0,664.1 L952.5,662.7 L954.0,661.1 L955.5,659.3 L957.0,657.3 L958.5,655.1 L960.0,652.7 L961.5,650.0 L963.0,647.2 L964.5,644.3 L966.0,641.1 L967.5,637.8 L969.0,634.3 L970.5,630.7 L972.0,627.0 L973.5,623.1 L975.0,619.0 L976.5,614.9 L978.0,610.6 L979.5,606.3 L981.0,601.8 L982.5,597.2 L984.0,592.6 L985.5,587.8 L987.0,582.9 L988.5,577.9 L990.0,572.7 L991.5,567.3 L993.0,561.7 L994.5,555.9 L996.0,549.8 L997.5,543.5 L999.0,537.0 L1000.5,530.4 L1002.0,523.7 L1003.5,517.1 L1005.0,510.5 L1006.5,504.1 L1008.0,497.7 L1009.5,491.4 L1011.0,485.2 L1012.5,479.0 L1014.0,472.9 L1015.5,466.9 L1017.0,461.0 L1018.5,455.1 L1020.0,449.4 L1021.5,443.6 L1023.0,438.0 L1024.5,432.4 L1026.0,426.9 L1027.5,421.4 L1029.0,416.0 L1030.5,410.7 L1032.0,405.4 L1033.5,400.2 L1035.0,395.1 L1036.5,390.0 L1038.0,385.0 L1039.5,380.1 L1041.0,375.3 L1042.5,370.5 L1044.0,365.7 L1045.5,361.1 L1047.0,356.5 L1048.5,352.0 L1050.0,347.5 L1051.5,343.2 L1053.0,338.8 L1054.5,334.6 L1056.0,330.4 L1057.5,326.3 L1059.0,322.3 L1060.5,318.3 L1062.0,314.4 L1063.5,310.6 L1065.0,306.8 L1066.5,303.1 L1068.0,299.5 L1069.5,296.0 L1071.0,292.5 L1072.5,289.1 L1074.0,285.7 L1075.5,282.5 L1077.0,279.2 L1078.5,276.1 L1080.0,273.0 L1081.5,270.0 L1083.0,267.0 L1084.5,264.1 L1086.0,261.2 L1087.5,258.4 L1089.0,255.6 L1090.5,252.9 L1092.0,250.2 L1093.5,247.6 L1095.0,245.0 L1096.5,242.5 L1098.0,240.0 L1099.5,237.6 L1101.0,235.2 L1102.5,232.8 L1104.0,230.5 L1105.5,228.2 L1107.0,226.0 L1108.5,223.8 L1110.0,221.6 L1111.5,219.5 L1113.0,217.4 L1114.5,215.3 L1116.0,213.3 L1117.5,211.3 L1119.0,209.4 L1120.5,207.4 L1122.0,205.6 L1123.5,203.7 L1125.0,201.9 L1126.5,200.1 L1128.0,198.3 L1129.5,196.6 L1131.0,194.9 L1132.5,193.2 L1134.0,191.6 L1135.5,190.0 L1137.0,188.4 L1138.5,186.8 L1140.0,185.3 L1141.5,183.8 L1143.0,182.3 L1144.5,180.9 L1146.0,179.5 L1147.5,178.1 L1149.0,176.7 L1150.5,175.3 L1152.0,174.0 L1153.5,172.7 L1155.0,171.4 L1156.5,170.1 L1158.0,168.9 L1159.5,167.6 L1161.0,166.4 L1162.5,165.2 L1164.0,164.1 L1165.5,162.9 L1167.0,161.8 L1168.5,160.7 L1170.0,159.6 L1171.5,158.5 L1173.0,157.4 L1174.5,156.3 L1176.0,155.3 L1177.5,154.3 L1179.0,153.3 L1180.5,152.3 L1182.0,151.3 L1183.5,150.3 L1185.0,149.4 L1186.5,148.4 L1188.0,147.5 L1189.5,146.6 L1191.0,145.7 L1192.5,144.8 L1194.0,143.9 L1195.5,143.1 L1197.0,142.2 L1198.5,141.4 L1200.0,140.6 L1201.5,139.8 L1203.0,139.0 L1204.5,138.2 L1206.0,137.5 L1207.5,136.7 L1209.0,136.0 L1210.5,135.2 L1212.0,134.5 L1213.5,133.8 L1215.0,133.1 L1216.5,132.4 L1218.0,131.7 L1219.5,131.1 L1221.0,130.4 L1222.5,129.8 L1224.0,129.1 L1225.5,128.5 L1227.0,127.9 L1228.5,127.3 L1230.0,126.7 L1231.5,126.1 L1233.0,125.6 L1234.5,125.0 L1236.0,124.4 L1237.5,123.9 L1239.0,123.3 L1240.5,122.8 L1242.0,122.3 L1243.5,121.8 L1245.0,121.3 L1246.5,120.8 L1248.0,120.3 L1249.5,119.8 L1251.0,119.3 L1252.5,118.9 L1254.0,118.4 L1255.5,118.0 L1257.0,117.5 L1258.5,117.1 L1260.0,116.6 L1261.5,116.2 L1263.0,115.8 L1264.5,115.4 L1266.0,115.0 L1267.5,114.6 L1269.0,114.2 L1270.5,113.8 L1272.0,113.4 L1273.5,113.0 L1275.0,112.7 L1276.5,112.3 L1278.0,111.9 L1279.5,111.6 L1281.0,111.2 L1282.5,110.9 L1284.0,110.5 L1285.5,110.2 L1287.0,109.8 L1288.5,109.5 L1290.0,109.2 L1291.5,108.8 L1293.0,108.5 L1294.5,108.2 L1296.0,107.9 L1297.5,107.6 L1299.0,107.2 L1300.5,106.9 L1302.0,106.6 L1303.5,106.3 L1305.0,106.0 L1306.5,105.7 L1308.0,105.4 L1309.5,105.1 L1311.0,104.8 L1312.5,104.5 L1314.0,104.2 L1315.5,103.9 L1317.0,103.7 L1318.5,103.4 L1320.0,103.1 L1321.5,102.8 L1323.0,102.5 L1324.5,102.3 L1326.0,102.0 L1327.5,101.7 L1329.0,101.4 L1330.5,101.2 L1332.0,100.9 L1333.5,100.7 L1335.0,100.4 L1336.5,100.1 L1338.0,99.9 L1339.5,99.6 L1341.0,99.4 L1342.5,99.1 L1344.0,98.9 L1345.5,98.6 L1347.0,98.4 L1348.5,98.1 L1350.0,97.9 L1351.5,97.7 L1353.0,97.4 L1354.5,97.2 L1356.0,97.0 L1357.5,96.7 L1359.0,96.5 L1360.5,96.3 L1362.0,96.1 L1363.5,95.8 L1365.0,95.6 L1366.5,95.4 L1368.0,95.2 L1369.5,95.0 L1371.0,94.8 L1372.5,94.6 L1374.0,94.3 L1375.5,94.1 L1377.0,93.9 L1378.5,93.7 L1380.0,93.5 L1381.5,93.3 L1383.0,93.1 L1384.5,92.9 L1386.0,92.7 L1387.5,92.6 L1389.0,92.4 L1390.5,92.2 L1392.0,92.0 L1393.5,91.8 L1395.0,91.6 L1396.5,91.4 L1398.0,91.3 L1399.5,91.1 L1401.0,90.9 L1402.5,90.7 L1404.0,90.6 L1405.5,90.4 L1407.0,90.2 L1408.5,90.1 L1410.0,89.9 L1411.5,89.7 L1413.0,89.6 L1414.5,89.4 L1416.0,89.2 L1417.5,89.1 L1419.0,88.9 L1420.5,88.8 L1422.0,88.6 L1423.5,88.5 L1425.0,88.3 L1426.5,88.2 L1428.0,88.0 L1429.5,87.9 L1431.0,87.7 L1432.5,87.6 L1434.0,87.5 L1435.5,87.3 L1437.0,87.2 L1438.5,87.0 L1440.0,86.9 L1441.5,86.8 L1443.0,86.6 L1444.5,86.5 L1446.0,86.4 L1447.5,86.3 L1449.0,86.1 L1450.5,86.0 L1452.0,85.9 L1453.5,85.8 L1455.0,85.6 L1456.5,85.5 L1458.0,85.4 L1459.5,85.3 L1461.0,85.2 L1462.5,85.1 L1464.0,84.9 L1465.5,84.8 L1467.0,84.7 L1468.5,84.6 L1470.0,84.5 L1471.5,84.4 L1473.0,84.3 L1474.5,84.2 L1476.0,84.1 L1477.5,84.0 L1479.0,83.9 L1480.5,83.8 L1482.0,83.7 L1483.5,83.6 L1485.0,83.5 L1486.5,83.4 L1488.0,83.3 L1489.5,83.2 L1491.0,83.2 L1492.5,83.1 L1494.0,83.0 L1495.5,82.9 L1497.0,82.8 L1498.5,82.7 L1500.0,82.6 L1501.5,82.6 L1503.0,82.5 L1504.5,82.4 L1506.0,82.3 L1507.5,82.2 L1509.0,82.2 L1510.5,82.1 L1512.0,82.0 L1513.5,81.9 L1515.0,81.9 L1516.5,81.8 L1518.0,81.7 L1519.5,81.7 L1521.0,81.6 L1522.5,81.5 L1524.0,81.5 L1525.5,81.4 L1527.0,81.3 L1528.5,81.3 L1530.0,81.2 L1531.5,81.1 L1533.0,81.1 L1534.5,81.0 L1536.0,81.0 L1537.5,80.9 L1539.0,80.9 L1540.5,80.8 L1542.0,80.7 L1543.5,80.7 L1545.0,80.6 L1546.5,80.6 L1548.0,80.5 L1549.5,80.5 L1551.0,80.4 L1552.5,80.4 L1554.0,80.3 L1555.5,80.3 L1557.0,80.2 L1558.5,80.2 L1560.0,80.1 L1561.5,80.1 L1563.0,80.1 L1564.5,80.0 L1566.0,80.0 L1567.5,79.9 L1569.0,79.9 L1570.5,79.9 L1572.0,79.8 L1573.5,79.8 L1575.0,79.7 L1576.5,79.7 L1578.0,79.7 L1579.5,79.6 L1581.0,79.6 L1582.5,79.6 L1584.0,79.5 L1585.5,79.5 L1587.0,79.5 L1588.5,79.4 L1590.0,79.4 L1591.5,79.4 L1593.0,79.3 L1594.5,79.3 L1596.0,79.3 L1597.5,79.2 L1599.0,79.2 L1600.5,79.2 L1602.0,79.2 L1603.5,79.1 L1605.0,79.1 L1606.5,79.1 L1608.0,79.0 L1609.5,79.0 L1611.0,79.0 L1612.5,79.0 L1614.0,78.9 L1615.5,78.9 L1617.0,78.9 L1618.5,78.9 L1620.0,78.9 L1621.5,78.8 L1623.0,78.8 L1624.5,78.8 L1626.0,78.8 L1627.5,78.7 L1629.0,78.7 L1630.5,78.7 L1632.0,78.7 L1633.5,78.7 L1635.0,78.6 L1636.5,78.6 L1638.0,78.6 L1639.5,78.6 L1641.0,78.6 L1642.5,78.6 L1644.0,78.5 L1645.5,78.5 L1647.0,78.5 L1648.5,78.5 L1650.0,78.5 L1651.5,78.5 L1653.0,78.4 L1654.5,78.4 L1656.0,78.4 L1657.5,78.4 L1659.0,78.4 L1660.5,78.4 L1662.0,78.3 L1663.5,78.3 L1665.0,78.3 L1666.5,78.3 L1668.0,78.3 L1669.5,78.3 L1671.0,78.3 L1672.5,78.2 L1674.0,78.2 L1675.5,78.2 L1677.0,78.2 L1678.5,78.2 L1680.0,78.2 L1681.5,78.2 L1683.0,78.1 L1684.5,78.1 L1686.0,78.1 L1687.5,78.1 L1689.0,78.1 L1690.5,78.1 L1692.0,78.1 L1693.5,78.0 L1695.0,78.0 L1696.5,78.0 L1698.0,78.0 L1699.5,78.0 L1701.0,78.0 L1702.5,77.9 L1704.0,77.9 L1705.5,77.9 L1707.0,77.9 L1708.5,77.9 L1710.0,77.9 L1711.5,77.9 L1713.0,77.8 L1714.5,77.8 L1716.0,77.8 L1717.5,77.8 L1719.0,77.8 L1720.5,77.8 L1722.0,77.7 L1723.5,77.7 L1725.0,77.7 L1726.5,77.7 L1728.0,77.7 L1729.5,77.6 L1731.0,77.6 L1732.5,77.6 L1734.0,77.6 L1735.5,77.6 L1737.0,77.6 L1738.5,77.5 L1740.0,77.5 L1741.5,77.5 L1743.0,77.5 L1744.5,77.4 L1746.0,77.4 L1747.5,77.4 L1749.0,77.4 L1750.5,77.4 L1752.0,77.3 L1753.5,77.3 L1755.0,77.3 L1756.5,77.3 L1758.0,77.2 L1759.5,77.2 L1761.0,77.2 L1762.5,77.2 L1764.0,77.1 L1765.5,77.1 L1767.0,77.1 L1768.5,77.0 L1770.0,77.0 L1771.5,77.0 L1773.0,76.9 L1774.5,76.9 L1776.0,76.9 L1777.5,76.9 L1779.0,76.8 L1780.5,76.8 L1782.0,76.8 L1783.5,76.7 L1785.0,76.7 L1786.5,76.6 L1788.0,76.6 L1789.5,76.6 L1791.0,76.5 L1792.5,76.5 L1794.0,76.5 L1795.5,76.4 L1797.0,76.4 L1798.5,76.3 L1800.0,76.3 L1801.5,76.3 L1803.0,76.2 L1804.5,76.2 L1806.0,76.1 L1807.5,76.1 L1809.0,76.0 L1810.5,76.0 L1812.0,75.9 L1813.5,75.9 L1815.0,75.8 L1816.5,75.8 L1818.0,75.7 L1819.5,75.7 L1821.0,75.6 L1822.5,75.6 L1824.0,75.5 L1825.5,75.5 L1827.0,75.4 L1828.5,75.4 L1830.0,75.3"/>
<path stroke="#0f0" d="M196.0,33.9 C202.2,34.1 208.6,34.0 214.6,34.6 C220.3,35.2 225.3,36.1 231.0,37.3 C237.5,38.7 245.3,40.7 251.6,42.8 C257.1,44.7 262.8,48.7 266.7,49.0 C269.2,49.2 270.8,47.1 272.8,47.4 C274.9,47.8 276.8,50.3 279.0,51.7 C281.4,53.2 283.9,55.5 286.5,56.0 C288.9,56.5 290.9,55.0 294.0,55.0 C298.9,55.0 307.3,56.4 313.2,57.2 C318.2,57.8 322.4,58.5 327.0,59.2 L330.0,58.6 L331.5,58.3 L333.0,58.0 L334.5,57.7 L336.0,57.3 L337.5,56.9 L339.0,56.5 L340.5,56.1 L342.0,55.7 L343.5,55.3 L345.0,54.9 L346.5,54.5 L348.0,54.1 L349.5,53.7 L351.0,53.3 L352.5,52.9 L354.0,52.6 L355.5,52.2 L357.0,51.8 L358.5,51.5 L360.0,51.1 L361.5,50.8 L363.0,50.5 L364.5,50.2 L366.0,49.9 L367.5,49.6 L369.0,49.3 L370.5,49.0 L372.0,48.8 L373.5,48.5 L375.0,48.3 L376.5,48.1 L378.0,47.9 L379.5,47.7 L381.0,47.5 L382.5,47.3 L384.0,47.2 L385.5,47.1 L387.0,46.9 L388.5,46.9 L390.0,46.8 L391.5,46.7 L393.0,46.7 L394.5,46.6 L396.0,46.6 L397.5,46.6 L399.0,46.6 L400.5,46.6 L402.0,46.7 L403.5,46.7 L405.0,46.8 L406.5,46.8 L408.0,46.9 L409.5,47.0 L411.0,47.1 L412.5,47.2 L414.0,47.3 L415.5,47.4 L417.0,47.5 L418.5,47.6 L420.0,47.7 L421.5,47.9 L423.0,48.0 L424.5,48.1 L426.0,48.3 L427.5,48.4 L429.0,48.5 L430.5,48.6 L432.0,48.8 L433.5,48.9 L435.0,49.1 L436.5,49.2 L438.0,49.3 L439.5,49.5 L441.0,49.6 L442.5,49.8 L444.0,49.9 L445.5,50.1 L447.0,50.2 L448.5,50.4 L450.0,50.5 L451.5,50.7 L453.0,50.8 L454.5,51.0 L456.0,51.1 L457.5,51.3 L459.0,51.4 L460.5,51.6 L462.0,51.7 L463.5,51.9 L465.0,52.1 L466.5,52.2 L468.0,52.4 L469.5,52.5 L471.0,52.7 L472.5,52.9 L474.0,53.0 L475.5,53.2 L477.0,53.4 L478.5,53.5 L480.0,53.7 L481.5,53.8 L483.0,54.0 L484.5,54.2 L486.0,54.3 L487.5,54.5 L489.0,54.7 L490.5,54.8 L492.0,55.0 L493.5,55.2 L495.0,55.3 L496.5,55.5 L498.0,55.7 L499.5,55.8 L501.0,56.0 L502.5,56.2 L504.0,56.3 L505.5,56.5 L507.0,56.6 L508.5,56.8 L510.0,57.0 L511.5,57.1 L513.0,57.3 L514.5,57.5 L516.0,57.6 L517.5,57.8 L519.0,57.9 L520.5,58.1 L522.0,58.3 L523.5,58.4 L525.0,58.6 L526.5,58.7 L528.0,58.9 L529.5,59.0 L531.0,59.2 L532.5,59.3 L534.0,59.5 L535.5,59.6 L537.0,59.8 L538.5,59.9 L540.0,60.1 L541.5,60.2 L543.0,60.4 L544.5,60.5 L546.0,60.7 L547.5,60.8 L549.0,60.9 L550.5,61.1 L552.0,61.2 L553.5,61.4 L555.0,61.5 L556.5,61.6 L558.0,61.8 L559.5,61.9 L561.0,62.1 L562.5,62.2 L564.0,62.3 L565.5,62.5 L567.0,62.6 L568.5,62.8 L570.0,62.9 L571.5,63.1 L573.0,63.2 L574.5,63.3 L576.0,63.5 L577.5,63.6 L579.0,63.8 L580.5,63.9 L582.0,64.1 L583.5,64.2 L585.0,64.4 L586.5,64.5 L588.0,64.7 L589.5,64.9 L591.0,65.0 L592.5,65.2 L594.0,65.3 L595.5,65.5 L597.0,65.7 L598.5,65.9 L600.0,66.0 L601.5,66.2 L603.0,66.4 L604.5,66.6 L606.0,66.8 L607.5,67.0 L609.0,67.2 L610.5,67.3 L612.0,67.5 L613.5,67.8 L615.0,68.0 L616.5,68.2 L618.0,68.4 L619.5,68.6 L621.0,68.8 L622.5,69.1 L624.0,69.3 L625.5,69.5 L627.0,69.8 L628.5,70.0 L630.0,70.2 L631.5,70.5 L633.0,70.8 L634.5,71.0 L636.0,71.3 L637.5,71.5 L639.0,71.8 L640.5,72.1 L642.0,72.4 L643.5,72.6 L645.0,72.9 L646.5,73.2 L648.0,73.5 L649.5,73.8 L651.0,74.1 L652.5,74.4 L654.0,74.7 L655.5,75.0 L657.0,75.3 L658.5,75.6 L660.0,76.0 L661.5,76.3 L663.0,76.6 L664.5,76.9 L666.0,77.3 L667.5,77.6 L669.0,77.9 L670.5,78.3 L672.0,78.6 L673.5,79.0 L675.0,79.3 L676.5,79.7 L678.0,80.0 L679.5,80.4 L681.0,80.8 L682.5,81.1 L684.0,81.5 L685.5,81.9 L687.0,82.2 L688.5,82.6 L690.0,83.0 L691.5,83.4 L693.0,83.8 L694.5,84.2 L696.0,84.6 L697.5,84.9 L699.0,85.3 L700.5,85.7 L702.0,86.1 L703.5,86.6 L705.0,87.0 L706.5,87.4 L708.0,87.8 L709.5,88.2 L711.0,88.6 L712.5,89.0 L714.0,89.5 L715.5,89.9 L717.0,90.3 L718.5,90.8 L720.0,91.2 L721.5,91.6 L723.0,92.1 L724.5,92.5 L726.0,92.9 L727.5,93.4 L729.0,93.8 L730.5,94.3 L732.0,94.7 L733.5,95.2 L735.0,95.6 L736.5,96.1 L738.0,96.6 L739.5,97.0 L741.0,97.5 L742.5,97.9 L744.0,98.4 L745.5,98.9 L747.0,99.4 L748.5,99.8 L750.0,100.3 L751.5,100.8 L753.0,101.3 L754.5,101.8 L756.0,102.3 L757.5,102.8 L759.0,103.3 L760.5,103.8 L762.0,104.3 L763.5,104.9 L765.0,105.4 L766.5,105.9 L768.0,106.5 L769.5,107.0 L771.0,107.6 L772.5,108.2 L774.0,108.8 L775.5,109.4 L777.0,110.0 L778.5,110.6 L780.0,111.2 L781.5,111.8 L783.0,112.5 L784.5,113.1 L786.0,113.8 L787.5,114.5 L789.0,115.2 L790.5,115.9 L792.0,116.6 L793.5,117.3 L795.0,118.0 L796.5,118.8 L798.0,119.6 L799.5,120.3 L801.0,121.1 L802.5,121.9 L804.0,122.8 L805.5,123.6 L807.0,124.5 L808.5,125.3 L810.0,126.2 L811.5,127.1 L813.0,128.1 L814.5,129.0 L816.0,130.0 L817.5,130.9 L819.0,131.9 L820.5,132.9 L822.0,134.0 L823.5,135.0 L825.0,136.1 L826.5,137.2 L828.0,138.3 L829.5,139.4 L831.0,140.6 L832.5,141.7 L834.0,142.9 L835.5,144.1 L837.0,145.4 L838.5,146.6 L840.0,147.9 L841.5,149.2 L843.0,150.5 L844.5,151.8 L846.0,153.1 L847.5,154.4 L849.0,155.7 L850.5,156.9 L852.0,158.1 L853.5,159.3 L855.0,160.4 L856.5,161.5 L858.0,162.5 L859.5,163.5 L861.0,164.5 L862.5,165.5 L864.0,166.4 L865.5,167.4 L867.0,168.3 L868.5,169.3 L870.0,170.2 L871.5,171.1 L873.0,172.1 L874.5,173.1 L876.0,174.1 L877.5,175.1 L879.0,176.1 L880.5,177.2 L882.0,178.3 L883.5,179.5 L885.0,180.7 L886.5,181.9 L888.0,183.2 L889.5,184.6 L891.0,185.9 L892.5,187.3 L894.0,188.8 L895.5,190.2 L897.0,191.7 L898.5,193.2 L900.0,194.7 L901.5,196.2 L903.0,197.7 L904.5,199.2 L906.0,200.7 L907.5,202.2 L909.0,203.7 L910.5,205.2 L912.0,206.7 L913.5,208.2 L915.0,209.7 L916.5,211.2 L918.0,212.7 L919.5,214.2 L921.0,215.7 L922.5,217.2 L924.0,218.7 L925.5,220.3 L927.0,221.8 L928.5,223.4 L930.0,224.9 L931.5,226.5 L933.0,228.1 L934.5,229.8 L936.0,231.4 L937.5,233.1 L939.0,234.8 L940.5,236.5 L942.0,238.3 L943.5,240.1 L945.0,241.9 L946.5,243.7 L948.0,245.6 L949.5,247.5 L951.0,249.5 L952.5,251.4 L954.0,253.4 L955.5,255.5 L957.0,257.5 L958.5,259.6 L960.0,261.7 L961.5,263.8 L963.0,266.0 L964.5,268.2 L966.0,270.4 L967.5,272.6 L969.0,274.9 L970.5,277.1 L972.0,279.4 L973.5,281.7 L975.0,284.1 L976.5,286.4 L978.0,288.8 L979.5,291.1 L981.0,293.5 L982.5,295.9 L984.0,298.4 L985.5,300.8 L987.0,303.2 L988.5,305.7 L990.0,308.2 L991.5,310.7 L993.0,313.1 L994.5,315.6 L996.0,318.2 L997.5,320.7 L999.0,323.2 L1000.5,325.7 L1002.0,328.2 L1003.5,330.8 L1005.0,333.3 L1006.5,335.9 L1008.0,338.4 L1009.5,341.0 L1011.0,343.5 L1012.5,346.1 L1014.0,348.6 L1015.5,351.1 L1017.0,353.7 L1018.5,356.2 L1020.0,358.8 L1021.5,361.3 L1023.0,363.8 L1024.5,366.3 L1026.0,368.9 L1027.5,371.4 L1029.0,373.9 L1030.5,376.4 L1032.0,378.8 L1033.5,381.3 L1035.0,383.8 L1036.5,386.2 L1038.0,388.6 L1039.5,391.1 L1041.0,393.5 L1042.5,395.9 L1044.0,398.3 L1045.5,400.7 L1047.0,403.1 L1048.5,405.4 L1050.0,407.8 L1051.5,410.1 L1053.0,412.4 L1054.5,414.7 L1056.0,417.1 L1057.5,419.3 L1059.0,421.6 L1060.5,423.9 L1062.0,426.1 L1063.5,428.4 L1065.0,430.6 L1066.5,432.8 L1068.0,435.0 L1069.5,437.2 L1071.0,439.4 L1072.5,441.6 L1074.0,443.7 L1075.5,445.9 L1077.0,448.0 L1078.5,450.1 L1080.0,452.2 L1081.5,454.3 L1083.0,456.4 L1084.5,458.4 L1086.0,460.5 L1087.5,462.5 L1089.0,464.5 L1090.5,466.5 L1092.0,468.5 L1093.5,470.5 L1095.0,472.4 L1096.5,474.3 L1098.0,476.2 L1099.5,478.1 L1101.0,479.9 L1102.5,481.7 L1104.0,483.5 L1105.5,485.2 L1107.0,486.9 L1108.5,488.5 L1110.0,490.1 L1111.5,491.6 L1113.0,493.0 L1114.5,494.4 L1116.0,495.8 L1117.5,497.1 L1119.0,498.3 L1120.5,499.4 L1122.0,500.5 L1123.5,501.4 L1125.0,502.3 L1126.5,503.2 L1128.0,503.9 L1129.5,504.5 L1131.0,505.1 L1132.5,505.5 L1134.0,505.9 L1135.5,506.2 L1137.0,506.3 L1138.5,506.4 L1140.0,506.3 L1141.5,506.2 L1143.0,506.0 L1144.5,505.7 L1146.0,505.3 L1147.5,504.8 L1149.0,504.3 L1150.5,503.7 L1152.0,503.1 L1153.5,502.4 L1155.0,501.6 L1156.5,500.7 L1158.0,499.9 L1159.5,498.9 L1161.0,497.9 L1162.5,496.8 L1164.0,495.7 L1165.5,494.6 L1167.0,493.4 L1168.5,492.1 L1170.0,490.8 L1171.5,489.4 L1173.0,488.0 L1174.5,486.5 L1176.0,485.0 L1177.5,483.5 L1179.0,481.9 L1180.5,480.2 L1182.0,478.5 L1183.5,476.8 L1185.0,475.0 L1186.5,473.2 L1188.0,471.4 L1189.5,469.5 L1191.0,467.6 L1192.5,465.6 L1194.0,463.6 L1195.5,461.6 L1197.0,459.6 L1198.5,457.5 L1200.0,455.4 L1201.5,453.2 L1203.0,451.0 L1204.5,448.8 L1206.0,446.6 L1207.5,444.4 L1209.0,442.1 L1210.5,439.8 L1212.0,437.5 L1213.5,435.2 L1215.0,432.8 L1216.5,430.5 L1218.0,428.1 L1219.5,425.8 L1221.0,423.4 L1222.5,421.0 L1224.0,418.6 L1225.5,416.2 L1227.0,413.8 L1228.5,411.5 L1230.0,409.1 L1231.5,406.7 L1233.0,404.3 L1234.5,402.0 L1236.0,399.6 L1237.5,397.3 L1239.0,395.0 L1240.5,392.7 L1242.0,390.4 L1243.5,388.1 L1245.0,385.8 L1246.5,383.6 L1248.0,381.4 L1249.5,379.2 L1251.0,377.1 L1252.5,375.0 L1254.0,372.9 L1255.5,370.8 L1257.0,368.7 L1258.5,366.7 L1260.0,364.7 L1261.5,362.7 L1263.0,360.8 L1264.5,358.8 L1266.0,356.9 L1267.5,355.0 L1269.0,353.1 L1270.5,351.2 L1272.0,349.3 L1273.5,347.5 L1275.0,345.6 L1276.5,343.8 L1278.0,342.0 L1279.5,340.2 L1281.0,338.3 L1282.5,336.5 L1284.0,334.7 L1285.5,332.9 L1287.0,331.1 L1288.5,329.3 L1290.0,327.5 L1291.5,325.7 L1293.0,323.9 L1294.5,322.0 L1296.0,320.2 L1297.5,318.4 L1299.0,316.5 L1300.5,314.7 L1302.0,312.8 L1303.5,311.0 L1305.0,309.1 L1306.5,307.2 L1308.0,305.3 L1309.5,303.4 L1311.0,301.6 L1312.5,299.7 L1314.0,297.8 L1315.5,295.9 L1317.0,294.1 L1318.5,292.2 L1320.0,290.4 L1321.5,288.6 L1323.0,286.8 L1324.5,285.0 L1326.0,283.2 L1327.5,281.5 L1329.0,279.8 L1330.5,278.1 L1332.0,276.4 L1333.5,274.7 L1335.0,273.1 L1336.5,271.5 L1338.0,269.9 L1339.5,268.4 L1341.0,266.8 L1342.5,265.3 L1344.0,263.8 L1345.5,262.4 L1347.0,260.9 L1348.5,259.5 L1350.0,258.1 L1351.5,256.7 L1353.0,255.3 L1354.5,254.0 L1356.0,252.6 L1357.5,251.3 L1359.0,250.0 L1360.5,248.7 L1362.0,247.5 L1363.5,246.2 L1365.0,245.0 L1366.5,243.8 L1368.0,242.6 L1369.5,241.4 L1371.0,240.2 L1372.5,239.1 L1374.0,238.0 L1375.5,236.8 L1377.0,235.7 L1378.5,234.6 L1380.0,233.5 L1381.5,232.4 L1383.0,231.4 L1384.5,230.3 L1386.0,229.3 L1387.5,228.2 L1389.0,227.2 L1390.5,226.2 L1392.0,225.2 L1393.5,224.2 L1395.0,223.2 L1396.5,222.2 L1398.0,221.2 L1399.5,220.3 L1401.0,219.3 L1402.5,218.3 L1404.0,217.4 L1405.5,216.4 L1407.0,215.5 L1408.5,214.6 L1410.0,213.6 L1411.5,212.7 L1413.0,211.8 L1414.5,210.9 L1416.0,210.0 L1417.5,209.1 L1419.0,208.2 L1420.5,207.3 L1422.0,206.5 L1423.5,205.6 L1425.0,204.7 L1426.5,203.9 L1428.0,203.0 L1429.5,202.2 L1431.0,201.3 L1432.5,200.5 L1434.0,199.6 L1435.5,198.8 L1437.0,198.0 L1438.5,197.2 L1440.0,196.4 L1441.5,195.6 L1443.0,194.8 L1444.5,194.0 L1446.0,193.2 L1447.5,192.4 L1449.0,191.7 L1450.5,190.9 L1452.0,190.1 L1453.5,189.4 L1455.0,188.6 L1456.5,187.9 L1458.0,187.1 L1459.5,186.4 L1461.0,185.7 L1462.5,184.9 L1464.0,184.2 L1465.5,183.5 L1467.0,182.8 L1468.5,182.1 L1470.0,181.4 L1471.5,180.7 L1473.0,180.0 L1474.5,179.3 L1476.0,178.6 L1477.5,178.0 L1479.0,177.3 L1480.5,176.6 L1482.0,176.0 L1483.5,175.3 L1485.0,174.7 L1486.5,174.0 L1488.0,173.4 L1489.5,172.8 L1491.0,172.1 L1492.5,171.5 L1494.0,170.9 L1495.5,170.3 L1497.0,169.7 L1498.5,169.1 L1500.0,168.5 L1501.5,167.9 L1503.0,167.3 L1504.5,166.7 L1506.0,166.1 L1507.5,165.6 L1509.0,165.0 L1510.5,164.4 L1512.0,163.9 L1513.5,163.3 L1515.0,162.7 L1516.5,162.2 L1518.0,161.7 L1519.5,161.1 L1521.0,160.6 L1522.5,160.1 L1524.0,159.5 L1525.5,159.0 L1527.0,158.5 L1528.5,158.0 L1530.0,157.5 L1531.5,157.0 L1533.0,156.5 L1534.5,156.0 L1536.0,155.5 L1537.5,155.0 L1539.0,154.5 L1540.5,154.0 L1542.0,153.6 L1543.5,153.1 L1545.0,152.6 L1546.5,152.2 L1548.0,151.7 L1549.5,151.2 L1551.0,150.8 L1552.5,150.3 L1554.0,149.9 L1555.5,149.5 L1557.0,149.0 L1558.5,148.6 L1560.0,148.2 L1561.5,147.7 L1563.0,147.3 L1564.5,146.9 L1566.0,146.5 L1567.5,146.1 L1569.0,145.7 L1570.5,145.3 L1572.0,144.9 L1573.5,144.5 L1575.0,144.1 L1576.5,143.7 L1578.0,143.3 L1579.5,142.9 L1581.0,142.6 L1582.5,142.2 L1584.0,141.8 L1585.5,141.5 L1587.0,141.1 L1588.5,140.7 L1590.0,140.4 L1591.5,140.0 L1593.0,139.7 L1594.5,139.3 L1596.0,139.0 L1597.5,138.7 L1599.0,138.3 L1600.5,138.0 L1602.0,137.7 L1603.5,137.3 L1605.0,137.0 L1606.5,136.7 L1608.0,136.4 L1609.5,136.1 L1611.0,135.7 L1612.5,135.4 L1614.0,135.1 L1615.5,134.8 L1617.0,134.5 L1618.5,134.2 L1620.0,133.9 L1621.5,133.6 L1623.0,133.4 L1624.5,133.1 L1626.0,132.8 L1627.5,132.5 L1629.0,132.2 L1630.5,132.0 L1632.0,131.7 L1633.5,131.4 L1635.0,131.2 L1636.5,130.9 L1638.0,130.6 L1639.5,130.4 L1641.0,130.1 L1642.5,129.9 L1644.0,129.6 L1645.5,129.4 L1647.0,129.1 L1648.5,128.9 L1650.0,128.6 L1651.5,128.4 L1653.0,128.2 L1654.5,127.9 L1656.0,127.7 L1657.5,127.5 L1659.0,127.2 L1660.5,127.0 L1662.0,126.8 L1663.5,126.6 L1665.0,126.4 L1666.5,126.1 L1668.0,125.9 L1669.5,125.7 L1671.0,125.5 L1672.5,125.3 L1674.0,125.1 L1675.5,124.9 L1677.0,124.7 L1678.5,124.5 L1680.0,124.3 L1681.5,124.1 L1683.0,123.9 L1684.5,123.7 L1686.0,123.5 L1687.5,123.3 L1689.0,123.2 L1690.5,123.0 L1692.0,122.8 L1693.5,122.6 L1695.0,122.4 L1696.5,122.2 L1698.0,122.1 L1699.5,121.9 L1701.0,121.7 L1702.5,121.6 L1704.0,121.4 L1705.5,121.2 L1707.0,121.1 L1708.5,120.9 L1710.0,120.7 L1711.5,120.6 L1713.0,120.4 L1714.5,120.2 L1716.0,120.1 L1717.5,119.9 L1719.0,119.8 L1720.5,119.6 L1722.0,119.5 L1723.5,119.3 L1725.0,119.2 L1726.5,119.0 L1728.0,118.9 L1729.5,118.7 L1731.0,118.6 L1732.5,118.4 L1734.0,118.3 L1735.5,118.2 L1737.0,118.0 L1738.5,117.9 L1740.0,117.7 L1741.5,117.6 L1743.0,117.5 L1744.5,117.3 L1746.0,117.2 L1747.5,117.1 L1749.0,116.9 L1750.5,116.8 L1752.0,116.7 L1753.5,116.5 L1755.0,116.4 L1756.5,116.3 L1758.0,116.1 L1759.5,116.0 L1761.0,115.9 L1762.5,115.8 L1764.0,115.6 L1765.5,115.5 L1767.0,115.4 L1768.5,115.3 L1770.0,115.1 L1771.5,115.0 L1773.0,114.9 L1774.5,114.8 L1776.0,114.7 L1777.5,114.5 L1779.0,114.4 L1780.5,114.3 L1782.0,114.2 L1783.5,114.1 L1785.0,113.9 L1786.5,113.8 L1788.0,113.7 L1789.5,113.6 L1791.0,113.5 L1792.5,113.4 L1794.0,113.2 L1795.5,113.1 L1797.0,113.0 L1798.5,112.9 L1800.0,112.8 L1801.5,112.7 L1803.0,112.5 L1804.5,112.4 L1806.0,112.3 L1807.5,112.2 L1809.0,112.1 L1810.5,111.9 L1812.0,111.8 L1813.5,111.7 L1815.0,111.6 L1816.5,111.5 L1818.0,111.4 L1819.5,111.2 L1821.0,111.1 L1822.5,111.0 L1824.0,110.9 L1825.5,110.8 L1827.0,110.6 L1828.5,110.5 L1830.0,110.4"/>
<path stroke="#0f0" d="M196.0,33.9 C202.2,34.1 208.6,34.0 214.6,34.6 C220.3,35.2 225.3,36.1 231.0,37.3 C237.5,38.7 245.3,40.7 251.6,42.8 C257.1,44.7 262.8,48.7 266.7,49.0 C269.2,49.2 270.8,47.1 272.8,47.4 C274.9,47.8 276.8,50.3 279.0,51.7 C281.4,53.2 283.9,55.5 286.5,56.0 C288.9,56.5 290.9,55.0 294.0,55.0 C298.9,55.0 307.3,56.4 313.2,57.2 C318.2,57.8 322.4,58.5 327.0,59.2 L330.0,58.6 L331.5,58.3 L333.0,58.1 L334.5,57.7 L336.0,57.4 L337.5,57.0 L339.0,56.6 L340.5,56.2 L342.0,55.8 L343.5,55.4 L345.0,55.0 L346.5,54.6 L348.0,54.2 L349.5,53.8 L351.0,53.4 L352.5,53.0 L354.0,52.6 L355.5,52.3 L357.0,51.9 L358.5,51.5 L360.0,51.2 L361.5,50.8 L363.0,50.5 L364.5,50.2 L366.0,49.8 L367.5,49.5 L369.0,49.2 L370.5,49.0 L372.0,48.7 L373.5,48.4 L375.0,48.2 L376.5,48.0 L378.0,47.7 L379.5,47.5 L381.0,47.4 L382.5,47.2 L384.0,47.0 L385.5,46.9 L387.0,46.8 L388.5,46.7 L390.0,46.6 L391.5,46.6 L393.0,46.5 L394.5,46.5 L396.0,46.5 L397.5,46.5 L399.0,46.5 L400.5,46.6 L402.0,46.6 L403.5,46.7 L405.0,46.7 L406.5,46.8 L408.0,46.9 L409.5,47.0 L411.0,47.1 L412.5,47.2 L414.0,47.4 L415.5,47.5 L417.0,47.6 L418.5,47.8 L420.0,47.9 L421.5,48.0 L423.0,48.2 L424.5,48.3 L426.0,48.5 L427.5,48.6 L429.0,48.7 L430.5,48.9 L432.0,49.0 L433.5,49.1 L435.0,49.3 L436.5,49.4 L438.0,49.6 L439.5,49.7 L441.0,49.8 L442.5,50.0 L444.0,50.1 L445.5,50.3 L447.0,50.4 L448.5,50.5 L450.0,50.7 L451.5,50.8 L453.0,51.0 L454.5,51.1 L456.0,51.3 L457.5,51.4 L459.0,51.5 L460.5,51.7 L462.0,51.8 L463.5,52.0 L465.0,52.1 L466.5,52.3 L468.0,52.4 L469.5,52.5 L471.0,52.7 L472.5,52.8 L474.0,53.0 L475.5,53.1 L477.0,53.3 L478.5,53.4 L480.0,53.6 L481.5,53.7 L483.0,53.9 L484.5,54.0 L486.0,54.2 L487.5,54.3 L489.0,54.5 L490.5,54.6 L492.0,54.8 L493.5,54.9 L495.0,55.1 L496.5,55.2 L498.0,55.4 L499.5,55.6 L501.0,55.7 L502.5,55.9 L504.0,56.0 L505.5,56.2 L507.0,56.3 L508.5,56.5 L510.0,56.7 L511.5,56.8 L513.0,57.0 L514.5,57.2 L516.0,57.3 L517.5,57.5 L519.0,57.7 L520.5,57.8 L522.0,58.0 L523.5,58.2 L525.0,58.3 L526.5,58.5 L528.0,58.7 L529.5,58.8 L531.0,59.0 L532.5,59.2 L534.0,59.4 L535.5,59.5 L537.0,59.7 L538.5,59.9 L540.0,60.1 L541.5,60.2 L543.0,60.4 L544.5,60.6 L546.0,60.8 L547.5,61.0 L549.0,61.2 L550.5,61.4 L552.0,61.5 L553.5,61.7 L555.0,61.9 L556.5,62.1 L558.0,62.3 L559.5,62.5 L561.0,62.7 L562.5,62.9 L564.0,63.1 L565.5,63.3 L567.0,63.5 L568.5,63.7 L570.0,63.9 L571.5,64.1 L573.0,64.3 L574.5,64.5 L576.0,64.7 L577.5,64.9 L579.0,65.1 L580.5,65.3 L582.0,65.5 L583.5,65.8 L585.0,66.0 L586.5,66.2 L588.0,66.4 L589.5,66.6 L591.0,66.8 L592.5,67.1 L594.0,67.3 L595.5,67.5 L597.0,67.7 L598.5,68.0 L600.0,68.2 L601.5,68.4 L603.0,68.7 L604.5,68.9 L606.0,69.1 L607.5,69.4 L609.0,69.6 L610.5,69.8 L612.0,70.1 L613.5,70.3 L615.0,70.6 L616.5,70.8 L618.0,71.1 L619.5,71.3 L621.0,71.6 L622.5,71.8 L624.0,72.1 L625.5,72.3 L627.0,72.6 L628.5,72.9 L630.0,73.1 L631.5,73.4 L633.0,73.7 L634.5,73.9 L636.0,74.2 L637.5,74.5 L639.0,74.8 L640.5,75.0 L642.0,75.3 L643.5,75.6 L645.0,75.9 L646.5,76.2 L648.0,76.5 L649.5,76.7 L651.0,77.0 L652.5,77.3 L654.0,77.6 L655.5,77.9 L657.0,78.3 L658.5,78.6 L660.0,78.9 L661.5,79.2 L663.0,79.5 L664.5,79.8 L666.0,80.1 L667.5,80.5 L669.0,80.8 L670.5,81.1 L672.0,81.5 L673.5,81.8 L675.0,82.1 L676.5,82.5 L678.0,82.8 L679.5,83.2 L681.0,83.5 L682.5,83.9 L684.0,84.3 L685.5,84.6 L687.0,85.0 L688.5,85.4 L690.0,85.8 L691.5,86.1 L693.0,86.5 L694.5,86.9 L696.0,87.3 L697.5,87.7 L699.0,88.1 L700.5,88.5 L702.0,88.9 L703.5,89.3 L705.0,89.7 L706.5,90.2 L708.0,90.6 L709.5,91.0 L711.0,91.4 L712.5,91.9 L714.0,92.3 L715.5,92.8 L717.0,93.2 L718.5,93.7 L720.0,94.1 L721.5,94.6 L723.0,95.1 L724.5,95.5 L726.0,96.0 L727.5,96.5 L729.0,97.0 L730.5,97.5 L732.0,98.0 L733.5,98.5 L735.0,99.0 L736.5,99.5 L738.0,100.0 L739.5,100.5 L741.0,101.1 L742.5,101.6 L744.0,102.1 L745.5,102.7 L747.0,103.2 L748.5,103.8 L750.0,104.3 L751.5,104.9 L753.0,105.5 L754.5,106.1 L756.0,106.7 L757.5,107.3 L759.0,107.9 L760.5,108.5 L762.0,109.1 L763.5,109.8 L765.0,110.4 L766.5,111.1 L768.0,111.8 L769.5,112.4 L771.0,113.1 L772.5,113.8 L774.0,114.6 L775.5,115.3 L777.0,116.0 L778.5,116.8 L780.0,117.5 L781.5,118.3 L783.0,119.1 L784.5,119.9 L786.0,120.7 L787.5,121.5 L789.0,122.4 L790.5,123.2 L792.0,124.1 L793.5,125.0 L795.0,125.9 L796.5,126.8 L798.0,127.7 L799.5,128.7 L801.0,129.7 L802.5,130.6 L804.0,131.6 L805.5,132.6 L807.0,133.7 L808.5,134.7 L810.0,135.8 L811.5,136.9 L813.0,138.0 L814.5,139.1 L816.0,140.2 L817.5,141.4 L819.0,142.6 L820.5,143.8 L822.0,145.0 L823.5,146.2 L825.0,147.5 L826.5,148.8 L828.0,150.1 L829.5,151.4 L831.0,152.7 L832.5,153.9 L834.0,155.2 L835.5,156.4 L837.0,157.6 L838.5,158.8 L840.0,159.9 L841.5,160.9 L843.0,162.0 L844.5,163.0 L846.0,164.0 L847.5,164.9 L849.0,165.9 L850.5,166.8 L852.0,167.8 L853.5,168.7 L855.0,169.7 L856.5,170.7 L858.0,171.6 L859.5,172.7 L861.0,173.7 L862.5,174.8 L864.0,175.9 L865.5,177.0 L867.0,178.2 L868.5,179.4 L870.0,180.7 L871.5,182.1 L873.0,183.5 L874.5,185.0 L876.0,186.5 L877.5,188.0 L879.0,189.6 L880.5,191.2 L882.0,192.9 L883.5,194.5 L885.0,196.2 L886.5,197.9 L888.0,199.5 L889.5,201.2 L891.0,202.9 L892.5,204.6 L894.0,206.2 L895.5,207.9 L897.0,209.6 L898.5,211.3 L900.0,212.9 L901.5,214.6 L903.0,216.3 L904.5,218.0 L906.0,219.7 L907.5,221.5 L909.0,223.2 L910.5,224.9 L912.0,226.7 L913.5,228.5 L915.0,230.3 L916.5,232.1 L918.0,233.9 L919.5,235.7 L921.0,237.6 L922.5,239.5 L924.0,241.4 L925.5,243.3 L927.0,245.3 L928.5,247.3 L930.0,249.3 L931.5,251.3 L933.0,253.4 L934.5,255.4 L936.0,257.5 L937.5,259.6 L939.0,261.7 L940.5,263.9 L942.0,266.1 L943.5,268.3 L945.0,270.5 L946.5,272.7 L948.0,274.9 L949.5,277.2 L951.0,279.5 L952.5,281.8 L954.0,284.1 L955.5,286.4 L957.0,288.8 L958.5,291.1 L960.0,293.5 L961.5,295.9 L963.0,298.3 L964.5,300.7 L966.0,303.2 L967.5,305.6 L969.0,308.1 L970.5,310.6 L972.0,313.1 L973.5,315.6 L975.0,318.1 L976.5,320.7 L978.0,323.2 L979.5,325.8 L981.0,328.3 L982.5,330.9 L984.0,333.5 L985.5,336.1 L987.0,338.7 L988.5,341.3 L990.0,343.9 L991.5,346.6 L993.0,349.2 L994.5,351.8 L996.0,354.4 L997.5,357.0 L999.0,359.6 L1000.5,362.2 L1002.0,364.8 L1003.5,367.4 L1005.0,369.9 L1006.5,372.5 L1008.0,375.0 L1009.5,377.5 L1011.0,380.0 L1012.5,382.4 L1014.0,384.8 L1015.5,387.3 L1017.0,389.6 L1018.5,392.0 L1020.0,394.4 L1021.5,396.7 L1023.0,399.0 L1024.5,401.3 L1026.0,403.6 L1027.5,405.8 L1029.0,408.1 L1030.5,410.3 L1032.0,412.5 L1033.5,414.7 L1035.0,416.9 L1036.5,419.0 L1038.0,421.1 L1039.5,423.3 L1041.0,425.4 L1042.5,427.5 L1044.0,429.5 L1045.5,431.6 L1047.0,433.6 L1048.5,435.7 L1050.0,437.7 L1051.5,439.7 L1053.0,441.7 L1054.5,443.7 L1056.0,445.6 L1057.5,447.6 L1059.0,449.5 L1060.5,451.4 L1062.0,453.4 L1063.5,455.3 L1065.0,457.2 L1066.5,459.0 L1068.0,460.9 L1069.5,462.8 L1071.0,464.6 L1072.5,466.5 L1074.0,468.3 L1075.5,470.2 L1077.0,472.0 L1078.5,473.8 L1080.0,475.6 L1081.5,477.3 L1083.0,479.0 L1084.5,480.7 L1086.0,482.3 L1087.5,483.8 L1089.0,485.3 L1090.5,486.7 L1092.0,488.0 L1093.5,489.2 L1095.0,490.3 L1096.5,491.3 L1098.0,492.2 L1099.5,493.0 L1101.0,493.6 L1102.5,494.1 L1104.0,494.5 L1105.5,494.7 L1107.0,494.7 L1108.5,494.7 L1110.0,494.5 L1111.5,494.2 L1113.0,493.8 L1114.5,493.3 L1116.0,492.7 L1117.5,492.1 L1119.0,491.4 L1120.5,490.6 L1122.0,489.8 L1123.5,488.9 L1125.0,487.9 L1126.5,486.8 L1128.0,485.7 L1129.5,484.6 L1131.0,483.3 L1132.5,482.0 L1134.0,480.6 L1135.5,479.2 L1137.0,477.7 L1138.5,476.1 L1140.0,474.5 L1141.5,472.9 L1143.0,471.2 L1144.5,469.4 L1146.0,467.7 L1147.5,465.9 L1149.0,464.0 L1150.5,462.2 L1152.0,460.3 L1153.5,458.5 L1155.0,456.6 L1156.5,454.7 L1158.0,452.8 L1159.5,450.9 L1161.0,449.0 L1162.5,447.1 L1164.0,445.2 L1165.5,443.4 L1167.0,441.5 L1168.5,439.6 L1170.0,437.8 L1171.5,435.9 L1173.0,434.0 L1174.5,432.2 L1176.0,430.3 L1177.5,428.4 L1179.0,426.5 L1180.5,424.6 L1182.0,422.7 L1183.5,420.9 L1185.0,418.9 L1186.5,417.0 L1188.0,415.1 L1189.5,413.2 L1191.0,411.2 L1192.5,409.3 L1194.0,407.3 L1195.5,405.3 L1197.0,403.3 L1198.5,401.3 L1200.0,399.3 L1201.5,397.3 L1203.0,395.2 L1204.5,393.2 L1206.0,391.1 L1207.5,389.0 L1209.0,386.9 L1210.5,384.8 L1212.0,382.6 L1213.5,380.5 L1215.0,378.4 L1216.5,376.3 L1218.0,374.1 L1219.5,372.0 L1221.0,369.8 L1222.5,367.7 L1224.0,365.6 L1225.5,363.4 L1227.0,361.3 L1228.5,359.2 L1230.0,357.1 L1231.5,355.0 L1233.0,352.9 L1234.5,350.8 L1236.0,348.7 L1237.5,346.7 L1239.0,344.6 L1240.5,342.6 L1242.0,340.6 L1243.5,338.6 L1245.0,336.7 L1246.5,334.7 L1248.0,332.8 L1249.5,330.9 L1251.0,329.0 L1252.5,327.1 L1254.0,325.3 L1255.5,323.5 L1257.0,321.7 L1258.5,320.0 L1260.0,318.2 L1261.5,316.5 L1263.0,314.8 L1264.5,313.1 L1266.0,311.4 L1267.5,309.8 L1269.0,308.1 L1270.5,306.5 L1272.0,304.9 L1273.5,303.2 L1275.0,301.6 L1276.5,300.0 L1278.0,298.5 L1279.5,296.9 L1281.0,295.3 L1282.5,293.8 L1284.0,292.2 L1285.5,290.6 L1287.0,289.1 L1288.5,287.5 L1290.0,286.0 L1291.5,284.4 L1293.0,282.9 L1294.5,281.3 L1296.0,279.7 L1297.5,278.2 L1299.0,276.6 L1300.5,275.0 L1302.0,273.4 L1303.5,271.8 L1305.0,270.2 L1306.5,268.6 L1308.0,267.0 L1309.5,265.4 L1311.0,263.8 L1312.5,262.2 L1314.0,260.6 L1315.5,259.0 L1317.0,257.4 L1318.5,255.8 L1320.0,254.2 L1321.5,252.6 L1323.0,251.0 L1324.5,249.5 L1326.0,247.9 L1327.5,246.4 L1329.0,244.8 L1330.5,243.3 L1332.0,241.8 L1333.5,240.3 L1335.0,238.8 L1336.5,237.3 L1338.0,235.9 L1339.5,234.4 L1341.0,233.0 L1342.5,231.6 L1344.0,230.2 L1345.5,228.9 L1347.0,227.6 L1348.5,226.3 L1350.0,225.0 L1351.5,223.7 L1353.0,222.5 L1354.5,221.3 L1356.0,220.1 L1357.5,218.9 L1359.0,217.8 L1360.5,216.7 L1362.0,215.6 L1363.5,214.5 L1365.0,213.5 L1366.5,212.5 L1368.0,211.5 L1369.5,210.5 L1371.0,209.5 L1372.5,208.5 L1374.0,207.6 L1375.5,206.7 L1377.0,205.8 L1378.5,204.9 L1380.0,204.0 L1381.5,203.1 L1383.0,202.3 L1384.5,201.4 L1386.0,200.6 L1387.5,199.8 L1389.0,199.0 L1390.5,198.1 L1392.0,197.4 L1393.5,196.6 L1395.0,195.8 L1396.5,195.0 L1398.0,194.3 L1399.5,193.5 L1401.0,192.8 L1402.5,192.0 L1404.0,191.3 L1405.5,190.5 L1407.0,189.8 L1408.5,189.1 L1410.0,188.3 L1411.5,187.6 L1413.0,186.9 L1414.5,186.2 L1416.0,185.5 L1417.5,184.8 L1419.0,184.1 L1420.5,183.4 L1422.0,182.7 L1423.5,182.0 L1425.0,181.3 L1426.5,180.7 L1428.0,180.0 L1429.5,179.3 L1431.0,178.7 L1432.5,178.0 L1434.0,177.4 L1435.5,176.7 L1437.0,176.1 L1438.5,175.4 L1440.0,174.8 L1441.5,174.2 L1443.0,173.5 L1444.5,172.9 L1446.0,172.3 L1447.5,171.7 L1449.0,171.1 L1450.5,170.5 L1452.0,169.9 L1453.5,169.3 L1455.0,168.7 L1456.5,168.1 L1458.0,167.5 L1459.5,166.9 L1461.0,166.4 L1462.5,165.8 L1464.0,165.2 L1465.5,164.7 L1467.0,164.1 L1468.5,163.6 L1470.0,163.0 L1471.5,162.5 L1473.0,161.9 L1474.5,161.4 L1476.0,160.8 L1477.5,160.3 L1479.0,159.8 L1480.5,159.3 L1482.0,158.7 L1483.5,158.2 L1485.0,157.7 L1486.5,157.2 L1488.0,156.7 L1489.5,156.2 L1491.0,155.7 L1492.5,155.2 L1494.0,154.7 L1495.5,154.2 L1497.0,153.7 L1498.5,153.3 L1500.0,152.8 L1501.5,152.3 L1503.0,151.9 L1504.5,151.4 L1506.0,150.9 L1507.5,150.5 L1509.0,150.0 L1510.5,149.6 L1512.0,149.1 L1513.5,148.7 L1515.0,148.2 L1516.5,147.8 L1518.0,147.4 L1519.5,146.9 L1521.0,146.5 L1522.5,146.1 L1524.0,145.7 L1525.5,145.3 L1527.0,144.9 L1528.5,144.4 L1530.0,144.0 L1531.5,143.6 L1533.0,143.2 L1534.5,142.8 L1536.0,142.5 L1537.5,142.1 L1539.0,141.7 L1540.5,141.3 L1542.0,140.9 L1543.5,140.5 L1545.0,140.2 L1546.5,139.8 L1548.0,139.4 L1549.5,139.1 L1551.0,138.7 L1552.5,138.3 L1554.0,138.0 L1555.5,137.6 L1557.0,137.3 L1558.5,136.9 L1560.0,136.6 L1561.5,136.3 L1563.0,135.9 L1564.5,135.6 L1566.0,135.3 L1567.5,134.9 L1569.0,134.6 L1570.5,134.3 L1572.0,134.0 L1573.5,133.7 L1575.0,133.3 L1576.5,133.0 L1578.0,132.7 L1579.5,132.4 L1581.0,132.1 L1582.5,131.8 L1584.0,131.5 L1585.5,131.2 L1587.0,130.9 L1588.5,130.6 L1590.0,130.4 L1591.5,130.1 L1593.0,129.8 L1594.5,129.5 L1596.0,129.2 L1597.5,129.0 L1599.0,128.7 L1600.5,128.4 L1602.0,128.1 L1603.5,127.9 L1605.0,127.6 L1606.5,127.4 L1608.0,127.1 L1609.5,126.9 L1611.0,126.6 L1612.5,126.4 L1614.0,126.1 L1615.5,125.9 L1617.0,125.6 L1618.5,125.4 L1620.0,125.1 L1621.5,124.9 L1623.0,124.7 L1624.5,124.4 L1626.0,124.2 L1627.5,124.0 L1629.0,123.8 L1630.5,123.5 L1632.0,123.3 L1633.5,123.1 L1635.0,122.9 L1636.5,122.7 L1638.0,122.5 L1639.5,122.2 L1641.0,122.0 L1642.5,121.8 L1644.0,121.6 L1645.5,121.4 L1647.0,121.2 L1648.5,121.0 L1650.0,120.8 L1651.5,120.6 L1653.0,120.4 L1654.5,120.3 L1656.0,120.1 L1657.5,119.9 L1659.0,119.7 L1660.5,119.5 L1662.0,119.3 L1663.5,119.2 L1665.0,119.0 L1666.5,118.8 L1668.0,118.6 L1669.5,118.5 L1671.0,118.3 L1672.5,118.1 L1674.0,117.9 L1675.5,117.8 L1677.0,117.6 L1678.5,117.5 L1680.0,117.3 L1681.5,117.1 L1683.0,117.0 L1684.5,116.8 L1686.0,116.7 L1687.5,116.5 L1689.0,116.4 L1690.5,116.2 L1692.0,116.1 L1693.5,115.9 L1695.0,115.8 L1696.5,115.6 L1698.0,115.5 L1699.5,115.3 L1701.0,115.2 L1702.5,115.1 L1704.0,114.9 L1705.5,114.8 L1707.0,114.6 L1708.5,114.5 L1710.0,114.4 L1711.5,114.3 L1713.0,114.1 L1714.5,114.0 L1716.0,113.9 L1717.5,113.7 L1719.0,113.6 L1720.5,113.5 L1722.0,113.4 L1723.5,113.2 L1725.0,113.1 L1726.5,113.0 L1728.0,112.9 L1729.5,112.8 L1731.0,112.6 L1732.5,112.5 L1734.0,112.4 L1735.5,112.3 L1737.0,112.2 L1738.5,112.1 L1740.0,112.0 L1741.5,111.9 L1743.0,111.7 L1744.5,111.6 L1746.0,111.5 L1747.5,111.4 L1749.0,111.3 L1750.5,111.2 L1752.0,111.1 L1753.5,111.0 L1755.0,110.9 L1756.5,110.8 L1758.0,110.7 L1759.5,110.6 L1761.0,110.5 L1762.5,110.4 L1764.0,110.3 L1765.5,110.2 L1767.0,110.1 L1768.5,110.0 L1770.0,109.9 L1771.5,109.8 L1773.0,109.7 L1774.5,109.6 L1776.0,109.5 L1777.5,109.4 L1779.0,109.3 L1780.5,109.2 L1782.0,109.1 L1783.5,109.0 L1785.0,109.0 L1786.5,108.9 L1788.0,108.8 L1789.5,108.7 L1791.0,108.6 L1792.5,108.5 L1794.0,108.4 L1795.5,108.3 L1797.0,108.2 L1798.5,108.1 L1800.0,108.0 L1801.5,108.0 L1803.0,107.9 L1804.5,107.8 L1806.0,107.7 L1807.5,107.6 L1809.0,107.5 L1810.5,107.4 L1812.0,107.3 L1813.5,107.2 L1815.0,107.2 L1816.5,107.1 L1818.0,107.0 L1819.5,106.9 L1821.0,106.8 L1822.5,106.7 L1824.0,106.6 L1825.5,106.5 L1827.0,106.5 L1828.5,106.4 L1830.0,106.3"/>
<path stroke="#0f0" d="M196.0,33.9 C202.2,34.1 208.6,34.0 214.6,34.6 C220.3,35.2 225.3,36.1 231.0,37.3 C237.5,38.7 245.3,40.7 251.6,42.8 C257.1,44.7 262.8,48.7 266.7,49.0 C269.2,49.2 270.8,47.1 272.8,47.4 C274.9,47.8 276.8,50.3 279.0,51.7 C281.4,53.2 283.9,55.5 286.5,56.0 C288.9,56.5 290.9,55.0 294.0,55.0 C298.9,55.0 307.3,56.4 313.2,57.2 C318.2,57.8 322.4,58.5 327.0,59.2 L330.0,58.5 L331.5,58.2 L333.0,58.0 L334.5,57.7 L336.0,57.3 L337.5,56.9 L339.0,56.6 L340.5,56.2 L342.0,55.8 L343.5,55.4 L345.0,55.0 L346.5,54.6 L348.0,54.2 L349.5,53.8 L351.0,53.4 L352.5,53.1 L354.0,52.7 L355.5,52.3 L357.0,52.0 L358.5,51.6 L360.0,51.2 L361.5,50.9 L363.0,50.6 L364.5,50.2 L366.0,49.9 L367.5,49.6 L369.0,49.3 L370.5,49.0 L372.0,48.8 L373.5,48.5 L375.0,48.3 L376.5,48.0 L378.0,47.8 L379.5,47.6 L381.0,47.4 L382.5,47.3 L384.0,47.1 L385.5,47.0 L387.0,46.8 L388.5,46.7 L390.0,46.7 L391.5,46.6 L393.0,46.6 L394.5,46.5 L396.0,46.5 L397.5,46.5 L399.0,46.5 L400.5,46.6 L402.0,46.6 L403.5,46.7 L405.0,46.7 L406.5,46.8 L408.0,46.9 L409.5,47.0 L411.0,47.1 L412.5,47.2 L414.0,47.3 L415.5,47.5 L417.0,47.6 L418.5,47.7 L420.0,47.8 L421.5,48.0 L423.0,48.1 L424.5,48.2 L426.0,48.4 L427.5,48.5 L429.0,48.6 L430.5,48.8 L432.0,48.9 L433.5,49.0 L435.0,49.2 L436.5,49.3 L438.0,49.5 L439.5,49.6 L441.0,49.7 L442.5,49.9 L444.0,50.0 L445.5,50.1 L447.0,50.3 L448.5,50.4 L450.0,50.6 L451.5,50.7 L453.0,50.8 L454.5,51.0 L456.0,51.1 L457.5,51.3 L459.0,51.4 L460.5,51.6 L462.0,51.7 L463.5,51.8 L465.0,52.0 L466.5,52.1 L468.0,52.3 L469.5,52.4 L471.0,52.6 L472.5,52.7 L474.0,52.9 L475.5,53.0 L477.0,53.2 L478.5,53.3 L480.0,53.5 L481.5,53.6 L483.0,53.8 L484.5,53.9 L486.0,54.1 L487.5,54.3 L489.0,54.4 L490.5,54.6 L492.0,54.7 L493.5,54.9 L495.0,55.0 L496.5,55.2 L498.0,55.4 L499.5,55.5 L501.0,55.7 L502.5,55.9 L504.0,56.0 L505.5,56.2 L507.0,56.4 L508.5,56.5 L510.0,56.7 L511.5,56.9 L513.0,57.0 L514.5,57.2 L516.0,57.4 L517.5,57.6 L519.0,57.7 L520.5,57.9 L522.0,58.1 L523.5,58.3 L525.0,58.5 L526.5,58.6 L528.0,58.8 L529.5,59.0 L531.0,59.2 L532.5,59.4 L534.0,59.6 L535.5,59.8 L537.0,60.0 L538.5,60.1 L540.0,60.3 L541.5,60.5 L543.0,60.7 L544.5,60.9 L546.0,61.1 L547.5,61.3 L549.0,61.5 L550.5,61.7 L552.0,61.9 L553.5,62.1 L555.0,62.4 L556.5,62.6 L558.0,62.8 L559.5,63.0 L561.0,63.2 L562.5,63.4 L564.0,63.6 L565.5,63.8 L567.0,64.1 L568.5,64.3 L570.0,64.5 L571.5,64.7 L573.0,65.0 L574.5,65.2 L576.0,65.4 L577.5,65.6 L579.0,65.9 L580.5,66.1 L582.0,66.3 L583.5,66.6 L585.0,66.8 L586.5,67.1 L588.0,67.3 L589.5,67.5 L591.0,67.8 L592.5,68.0 L594.0,68.3 L595.5,68.5 L597.0,68.8 L598.5,69.0 L600.0,69.3 L601.5,69.6 L603.0,69.8 L604.5,70.1 L606.0,70.3 L607.5,70.6 L609.0,70.9 L610.5,71.1 L612.0,71.4 L613.5,71.7 L615.0,72.0 L616.5,72.2 L618.0,72.5 L619.5,72.8 L621.0,73.1 L622.5,73.4 L624.0,73.7 L625.5,74.0 L627.0,74.3 L628.5,74.5 L630.0,74.8 L631.5,75.1 L633.0,75.4 L634.5,75.7 L636.0,76.0 L637.5,76.4 L639.0,76.7 L640.5,77.0 L642.0,77.3 L643.5,77.6 L645.0,77.9 L646.5,78.2 L648.0,78.6 L649.5,78.9 L651.0,79.2 L652.5,79.6 L654.0,79.9 L655.5,80.2 L657.0,80.6 L658.5,80.9 L660.0,81.2 L661.5,81.6 L663.0,81.9 L664.5,82.3 L666.0,82.6 L667.5,83.0 L669.0,83.3 L670.5,83.7 L672.0,84.1 L673.5,84.4 L675.0,84.8 L676.5,85.2 L678.0,85.5 L679.5,85.9 L681.0,86.3 L682.5,86.7 L684.0,87.1 L685.5,87.5 L687.0,87.9 L688.5,88.3 L690.0,88.7 L691.5,89.1 L693.0,89.5 L694.5,89.9 L696.0,90.4 L697.5,90.8 L699.0,91.2 L700.5,91.7 L702.0,92.1 L703.5,92.6 L705.0,93.0 L706.5,93.5 L708.0,94.0 L709.5,94.4 L711.0,94.9 L712.5,95.4 L714.0,95.9 L715.5,96.4 L717.0,96.9 L718.5,97.4 L720.0,97.9 L721.5,98.4 L723.0,99.0 L724.5,99.5 L726.0,100.1 L727.5,100.6 L729.0,101.2 L730.5,101.7 L732.0,102.3 L733.5,102.9 L735.0,103.5 L736.5,104.1 L738.0,104.7 L739.5,105.3 L741.0,105.9 L742.5,106.5 L744.0,107.2 L745.5,107.8 L747.0,108.4 L748.5,109.1 L750.0,109.8 L751.5,110.4 L753.0,111.1 L754.5,111.8 L756.0,112.5 L757.5,113.2 L759.0,114.0 L760.5,114.7 L762.0,115.4 L763.5,116.2 L765.0,116.9 L766.5,117.7 L768.0,118.5 L769.5,119.3 L771.0,120.1 L772.5,120.9 L774.0,121.7 L775.5,122.6 L777.0,123.4 L778.5,124.3 L780.0,125.2 L781.5,126.1 L783.0,127.0 L784.5,127.9 L786.0,128.9 L787.5,129.8 L789.0,130.8 L790.5,131.8 L792.0,132.8 L793.5,133.9 L795.0,135.0 L796.5,136.0 L798.0,137.1 L799.5,138.3 L801.0,139.4 L802.5,140.6 L804.0,141.8 L805.5,143.0 L807.0,144.3 L808.5,145.5 L810.0,146.8 L811.5,148.2 L813.0,149.5 L814.5,150.8 L816.0,152.2 L817.5,153.5 L819.0,154.9 L820.5,156.2 L822.0,157.4 L823.5,158.7 L825.0,159.9 L826.5,161.1 L828.0,162.2 L829.5,163.3 L831.0,164.4 L832.5,165.5 L834.0,166.6 L835.5,167.6 L837.0,168.7 L838.5,169.7 L840.0,170.8 L841.5,171.8 L843.0,172.9 L844.5,173.9 L846.0,175.0 L847.5,176.1 L849.0,177.2 L850.5,178.3 L852.0,179.5 L853.5,180.6 L855.0,181.9 L856.5,183.1 L858.0,184.4 L859.5,185.7 L861.0,187.1 L862.5,188.5 L864.0,189.9 L865.5,191.3 L867.0,192.8 L868.5,194.3 L870.0,195.8 L871.5,197.4 L873.0,199.0 L874.5,200.6 L876.0,202.3 L877.5,204.0 L879.0,205.7 L880.5,207.4 L882.0,209.2 L883.5,211.0 L885.0,212.8 L886.5,214.7 L888.0,216.5 L889.5,218.4 L891.0,220.3 L892.5,222.3 L894.0,224.2 L895.5,226.2 L897.0,228.2 L898.5,230.3 L900.0,232.3 L901.5,234.4 L903.0,236.5 L904.5,238.6 L906.0,240.7 L907.5,242.9 L909.0,245.1 L910.5,247.2 L912.0,249.4 L913.5,251.7 L915.0,253.9 L916.5,256.2 L918.0,258.4 L919.5,260.7 L921.0,263.0 L922.5,265.3 L924.0,267.7 L925.5,270.0 L927.0,272.4 L928.5,274.7 L930.0,277.1 L931.5,279.5 L933.0,281.9 L934.5,284.4 L936.0,286.8 L937.5,289.2 L939.0,291.7 L940.5,294.1 L942.0,296.6 L943.5,299.1 L945.0,301.6 L946.5,304.0 L948.0,306.5 L949.5,309.0 L951.0,311.6 L952.5,314.1 L954.0,316.6 L955.5,319.1 L957.0,321.6 L958.5,324.2 L960.0,326.7 L961.5,329.3 L963.0,331.8 L964.5,334.3 L966.0,336.9 L967.5,339.4 L969.0,342.0 L970.5,344.5 L972.0,347.1 L973.5,349.6 L975.0,352.2 L976.5,354.7 L978.0,357.3 L979.5,359.8 L981.0,362.3 L982.5,364.8 L984.0,367.4 L985.5,369.9 L987.0,372.4 L988.5,374.9 L990.0,377.4 L991.5,379.9 L993.0,382.3 L994.5,384.8 L996.0,387.3 L997.5,389.7 L999.0,392.1 L1000.5,394.6 L1002.0,397.0 L1003.5,399.4 L1005.0,401.8 L1006.5,404.1 L1008.0,406.5 L1009.5,408.8 L1011.0,411.1 L1012.5,413.5 L1014.0,415.7 L1015.5,418.0 L1017.0,420.3 L1018.5,422.5 L1020.0,424.7 L1021.5,426.9 L1023.0,429.1 L1024.5,431.3 L1026.0,433.4 L1027.5,435.5 L1029.0,437.6 L1030.5,439.7 L1032.0,441.7 L1033.5,443.7 L1035.0,445.7 L1036.5,447.7 L1038.0,449.6 L1039.5,451.6 L1041.0,453.5 L1042.5,455.3 L1044.0,457.2 L1045.5,459.0 L1047.0,460.7 L1048.5,462.5 L1050.0,464.2 L1051.5,465.9 L1053.0,467.5 L1054.5,469.1 L1056.0,470.7 L1057.5,472.2 L1059.0,473.6 L1060.5,475.0 L1062.0,476.3 L1063.5,477.6 L1065.0,478.7 L1066.5,479.8 L1068.0,480.8 L1069.5,481.7 L1071.0,482.5 L1072.5,483.2 L1074.0,483.8 L1075.5,484.2 L1077.0,484.5 L1078.5,484.8 L1080.0,484.8 L1081.5,484.8 L1083.0,484.7 L1084.5,484.4 L1086.0,484.1 L1087.5,483.7 L1089.0,483.2 L1090.5,482.5 L1092.0,481.9 L1093.5,481.1 L1095.0,480.3 L1096.5,479.4 L1098.0,478.4 L1099.5,477.3 L1101.0,476.2 L1102.5,475.1 L1104.0,473.9 L1105.5,472.6 L1107.0,471.3 L1108.5,470.0 L1110.0,468.6 L1111.5,467.2 L1113.0,465.7 L1114.5,464.2 L1116.0,462.7 L1117.5,461.2 L1119.0,459.6 L1120.5,458.1 L1122.0,456.5 L1123.5,454.9 L1125.0,453.4 L1126.5,451.8 L1128.0,450.2 L1129.5,448.6 L1131.0,447.1 L1132.5,445.5 L1134.0,444.0 L1135.5,442.5 L1137.0,440.9 L1138.5,439.4 L1140.0,437.9 L1141.5,436.3 L1143.0,434.7 L1144.5,433.1 L1146.0,431.5 L1147.5,429.8 L1149.0,428.1 L1150.5,426.4 L1152.0,424.5 L1153.5,422.7 L1155.0,420.7 L1156.5,418.7 L1158.0,416.6 L1159.5,414.5 L1161.0,412.3 L1162.5,410.0 L1164.0,407.7 L1165.5,405.4 L1167.0,403.0 L1168.5,400.5 L1170.0,398.1 L1171.5,395.6 L1173.0,393.1 L1174.5,390.6 L1176.0,388.1 L1177.5,385.6 L1179.0,383.1 L1180.5,380.7 L1182.0,378.2 L1183.5,375.8 L1185.0,373.4 L1186.5,371.0 L1188.0,368.6 L1189.5,366.3 L1191.0,363.9 L1192.5,361.6 L1194.0,359.3 L1195.5,357.0 L1197.0,354.8 L1198.5,352.5 L1200.0,350.3 L1201.5,348.1 L1203.0,345.9 L1204.5,343.7 L1206.0,341.5 L1207.5,339.4 L1209.0,337.3 L1210.5,335.2 L1212.0,333.1 L1213.5,331.0 L1215.0,328.9 L1216.5,326.9 L1218.0,324.9 L1219.5,322.9 L1221.0,320.9 L1222.5,318.9 L1224.0,316.9 L1225.5,315.0 L1227.0,313.1 L1228.5,311.2 L1230.0,309.3 L1231.5,307.4 L1233.0,305.5 L1234.5,303.7 L1236.0,301.8 L1237.5,300.0 L1239.0,298.2 L1240.5,296.4 L1242.0,294.6 L1243.5,292.9 L1245.0,291.1 L1246.5,289.4 L1248.0,287.7 L1249.5,286.0 L1251.0,284.3 L1252.5,282.7 L1254.0,281.0 L1255.5,279.4 L1257.0,277.7 L1258.5,276.1 L1260.0,274.5 L1261.5,272.9 L1263.0,271.4 L1264.5,269.8 L1266.0,268.3 L1267.5,266.7 L1269.0,265.2 L1270.5,263.7 L1272.0,262.2 L1273.5,260.7 L1275.0,259.3 L1276.5,257.8 L1278.0,256.4 L1279.5,255.0 L1281.0,253.6 L1282.5,252.2 L1284.0,250.8 L1285.5,249.4 L1287.0,248.0 L1288.5,246.7 L1290.0,245.3 L1291.5,244.0 L1293.0,242.7 L1294.5,241.4 L1296.0,240.1 L1297.5,238.8 L1299.0,237.6 L1300.5,236.3 L1302.0,235.1 L1303.5,233.8 L1305.0,232.6 L1306.5,231.4 L1308.0,230.2 L1309.5,229.0 L1311.0,227.8 L1312.5,226.7 L1314.0,225.5 L1315.5,224.4 L1317.0,223.2 L1318.5,222.1 L1320.0,221.0 L1321.5,219.9 L1323.0,218.8 L1324.5,217.7 L1326.0,216.6 L1327.5,215.6 L1329.0,214.5 L1330.5,213.5 L1332.0,212.4 L1333.5,211.4 L1335.0,210.4 L1336.5,209.4 L1338.0,208.4 L1339.5,207.4 L1341.0,206.4 L1342.5,205.5 L1344.0,204.5 L1345.5,203.6 L1347.0,202.6 L1348.5,201.7 L1350.0,200.8 L1351.5,199.8 L1353.0,198.9 L1354.5,198.0 L1356.0,197.1 L1357.5,196.2 L1359.0,195.4 L1360.5,194.5 L1362.0,193.6 L1363.5,192.8 L1365.0,191.9 L1366.5,191.1 L1368.0,190.3 L1369.5,189.4 L1371.0,188.6 L1372.5,187.8 L1374.0,187.0 L1375.5,186.2 L1377.0,185.4 L1378.5,184.7 L1380.0,183.9 L1381.5,183.1 L1383.0,182.3 L1384.5,181.6 L1386.0,180.8 L1387.5,180.1 L1389.0,179.4 L1390.5,178.6 L1392.0,177.9 L1393.5,177.2 L1395.0,176.5 L1396.5,175.8 L1398.0,175.1 L1399.5,174.4 L1401.0,173.7 L1402.5,173.0 L1404.0,172.3 L1405.5,171.6 L1407.0,171.0 L1408.5,170.3 L1410.0,169.6 L1411.5,169.0 L1413.0,168.3 L1414.5,167.7 L1416.0,167.1 L1417.5,166.4 L1419.0,165.8 L1420.5,165.2 L1422.0,164.6 L1423.5,163.9 L1425.0,163.3 L1426.5,162.7 L1428.0,162.1 L1429.5,161.5 L1431.0,161.0 L1432.5,160.4 L1434.0,159.8 L1435.5,159.2 L1437.0,158.7 L1438.5,158.1 L1440.0,157.5 L1441.5,157.0 L1443.0,156.4 L1444.5,155.9 L1446.0,155.3 L1447.5,154.8 L1449.0,154.3 L1450.5,153.8 L1452.0,153.2 L1453.5,152.7 L1455.0,152.2 L1456.5,151.7 L1458.0,151.2 L1459.5,150.7 L1461.0,150.2 L1462.5,149.7 L1464.0,149.2 L1465.5,148.7 L1467.0,148.3 L1468.5,147.8 L1470.0,147.3 L1471.5,146.8 L1473.0,146.4 L1474.5,145.9 L1476.0,145.5 L1477.5,145.0 L1479.0,144.6 L1480.5,144.1 L1482.0,143.7 L1483.5,143.3 L1485.0,142.9 L1486.5,142.4 L1488.0,142.0 L1489.5,141.6 L1491.0,141.2 L1492.5,140.8 L1494.0,140.4 L1495.5,140.0 L1497.0,139.6 L1498.5,139.2 L1500.0,138.8 L1501.5,138.4 L1503.0,138.0 L1504.5,137.6 L1506.0,137.3 L1507.5,136.9 L1509.0,136.5 L1510.5,136.2 L1512.0,135.8 L1513.5,135.5 L1515.0,135.1 L1516.5,134.8 L1518.0,134.4 L1519.5,134.1 L1521.0,133.7 L1522.5,133.4 L1524.0,133.1 L1525.5,132.7 L1527.0,132.4 L1528.5,132.1 L1530.0,131.8 L1531.5,131.5 L1533.0,131.1 L1534.5,130.8 L1536.0,130.5 L1537.5,130.2 L1539.0,129.9 L1540.5,129.6 L1542.0,129.3 L1543.5,129.1 L1545.0,128.8 L1546.5,128.5 L1548.0,128.2 L1549.5,127.9 L1551.0,127.7 L1552.5,127.4 L1554.0,127.1 L1555.5,126.8 L1557.0,126.6 L1558.5,126.3 L1560.0,126.1 L1561.5,125.8 L1563.0,125.6 L1564.5,125.3 L1566.0,125.1 L1567.5,124.8 L1569.0,124.6 L1570.5,124.3 L1572.0,124.1 L1573.5,123.9 L1575.0,123.6 L1576.5,123.4 L1578.0,123.2 L1579.5,123.0 L1581.0,122.7 L1582.5,122.5 L1584.0,122.3 L1585.5,122.1 L1587.0,121.9 L1588.5,121.7 L1590.0,121.5 L1591.5,121.3 L1593.0,121.1 L1594.5,120.9 L1596.0,120.7 L1597.5,120.5 L1599.0,120.3 L1600.5,120.1 L1602.0,119.9 L1603.5,119.7 L1605.0,119.5 L1606.5,119.3 L1608.0,119.2 L1609.5,119.0 L1611.0,118.8 L1612.5,118.6 L1614.0,118.5 L1615.5,118.3 L1617.0,118.1 L1618.5,117.9 L1620.0,117.8 L1621.5,117.6 L1623.0,117.5 L1624.5,117.3 L1626.0,117.1 L1627.5,117.0 L1629.0,116.8 L1630.5,116.7 L1632.0,116.5 L1633.5,116.4 L1635.0,116.2 L1636.5,116.1 L1638.0,115.9 L1639.5,115.8 L1641.0,115.6 L1642.5,115.5 L1644.0,115.4 L1645.5,115.2 L1647.0,115.1 L1648.5,114.9 L1650.0,114.8 L1651.5,114.7 L1653.0,114.6 L1654.5,114.4 L1656.0,114.3 L1657.5,114.2 L1659.0,114.0 L1660.5,113.9 L1662.0,113.8 L1663.5,113.7 L1665.0,113.5 L1666.5,113.4 L1668.0,113.3 L1669.5,113.2 L1671.0,113.1 L1672.5,112.9 L1674.0,112.8 L1675.5,112.7 L1677.0,112.6 L1678.5,112.5 L1680.0,112.4 L1681.5,112.3 L1683.0,112.2 L1684.5,112.0 L1686.0,111.9 L1687.5,111.8 L1689.0,111.7 L1690.5,111.6 L1692.0,111.5 L1693.5,111.4 L1695.0,111.3 L1696.5,111.2 L1698.0,111.1 L1699.5,111.0 L1701.0,110.9 L1702.5,110.8 L1704.0,110.7 L1705.5,110.6 L1707.0,110.5 L1708.5,110.4 L1710.0,110.3 L1711.5,110.2 L1713.0,110.1 L1714.5,110.0 L1716.0,109.9 L1717.5,109.8 L1719.0,109.7 L1720.5,109.6 L1722.0,109.5 L1723.5,109.4 L1725.0,109.3 L1726.5,109.2 L1728.0,109.1 L1729.5,109.0 L1731.0,108.9 L1732.5,108.8 L1734.0,108.7 L1735.5,108.6 L1737.0,108.5 L1738.5,108.4 L1740.0,108.3 L1741.5,108.2 L1743.0,108.1 L1744.5,108.0 L1746.0,107.9 L1747.5,107.8 L1749.0,107.7 L1750.5,107.6 L1752.0,107.5 L1753.5,107.4 L1755.0,107.3 L1756.5,107.2 L1758.0,107.1 L1759.5,107.0 L1761.0,106.9 L1762.5,106.8 L1764.0,106.7 L1765.5,106.6 L1767.0,106.5 L1768.5,106.4 L1770.0,106.2 L1771.5,106.1 L1773.0,106.0 L1774.5,105.9 L1776.0,105.8 L1777.5,105.7 L1779.0,105.6 L1780.5,105.5 L1782.0,105.4 L1783.5,105.3 L1785.0,105.1 L1786.5,105.0 L1788.0,104.9 L1789.5,104.8 L1791.0,104.7 L1792.5,104.6 L1794.0,104.4 L1795.5,104.3 L1797.0,104.2 L1798.5,104.1 L1800.0,104.0 L1801.5,103.8 L1803.0,103.7 L1804.5,103.6 L1806.0,103.4 L1807.5,103.3 L1809.0,103.2 L1810.5,103.1 L1812.0,102.9 L1813.5,102.8 L1815.0,102.6 L1816.5,102.5 L1818.0,102.4 L1819.5,102.2 L1821.0,102.1 L1822.5,101.9 L1824.0,101.8 L1825.5,101.7 L1827.0,101.5 L1828.5,101.4 L1830.0,101.2"/>
<path stroke="#0f0" d="M196.0,33.9 C202.2,34.1 208.6,34.0 214.6,34.6 C220.3,35.2 225.3,36.1 231.0,37.3 C237.5,38.7 245.3,40.7 251.6,42.8 C257.1,44.7 262.8,48.7 266.7,49.0 C269.2,49.2 270.8,47.1 272.8,47.4 C274.9,47.8 276.8,50.3 279.0,51.7 C281.4,53.2 283.9,55.5 286.5,56.0 C288.9,56.5 290.9,55.0 294.0,55.0 C298.9,55.0 307.3,56.4 313.2,57.2 C318.2,57.8 322.4,58.5 327.0,59.2 L330.0,59.0 L331.5,58.6 L333.0,58.2 L334.5,57.7 L336.0,57.2 L337.5,56.7 L339.0,56.2 L340.5,55.6 L342.0,55.1 L343.5,54.6 L345.0,54.1 L346.5,53.7 L348.0,53.2 L349.5,52.8 L351.0,52.4 L352.5,52.0 L354.0,51.7 L355.5,51.3 L357.0,51.0 L358.5,50.7 L360.0,50.4 L361.5,50.1 L363.0,49.8 L364.5,49.6 L366.0,49.3 L367.5,49.1 L369.0,48.9 L370.5,48.7 L372.0,48.6 L373.5,48.4 L375.0,48.2 L376.5,48.1 L378.0,48.0 L379.5,47.9 L381.0,47.8 L382.5,47.7 L384.0,47.6 L385.5,47.5 L387.0,47.5 L388.5,47.4 L390.0,47.4 L391.5,47.4 L393.0,47.3 L394.5,47.3 L396.0,47.3 L397.5,47.3 L399.0,47.3 L400.5,47.4 L402.0,47.4 L403.5,47.4 L405.0,47.5 L406.5,47.5 L408.0,47.6 L409.5,47.6 L411.0,47.7 L412.5,47.7 L414.0,47.8 L415.5,47.9 L417.0,48.0 L418.5,48.1 L420.0,48.1 L421.5,48.2 L423.0,48.3 L424.5,48.4 L426.0,48.5 L427.5,48.6 L429.0,48.7 L430.5,48.8 L432.0,48.9 L433.5,49.0 L435.0,49.1 L436.5,49.2 L438.0,49.3 L439.5,49.4 L441.0,49.5 L442.5,49.6 L444.0,49.8 L445.5,49.9 L447.0,50.0 L448.5,50.1 L450.0,50.2 L451.5,50.4 L453.0,50.5 L454.5,50.6 L456.0,50.7 L457.5,50.9 L459.0,51.0 L460.5,51.1 L462.0,51.3 L463.5,51.4 L465.0,51.6 L466.5,51.7 L468.0,51.8 L469.5,52.0 L471.0,52.1 L472.5,52.3 L474.0,52.4 L475.5,52.6 L477.0,52.7 L478.5,52.9 L480.0,53.0 L481.5,53.2 L483.0,53.4 L484.5,53.5 L486.0,53.7 L487.5,53.9 L489.0,54.0 L490.5,54.2 L492.0,54.4 L493.5,54.5 L495.0,54.7 L496.5,54.9 L498.0,55.1 L499.5,55.2 L501.0,55.4 L502.5,55.6 L504.0,55.8 L505.5,56.0 L507.0,56.2 L508.5,56.3 L510.0,56.5 L511.5,56.7 L513.0,56.9 L514.5,57.1 L516.0,57.3 L517.5,57.5 L519.0,57.7 L520.5,57.9 L522.0,58.1 L523.5,58.3 L525.0,58.5 L526.5,58.7 L528.0,58.9 L529.5,59.1 L531.0,59.4 L532.5,59.6 L534.0,59.8 L535.5,60.0 L537.0,60.2 L538.5,60.4 L540.0,60.7 L541.5,60.9 L543.0,61.1 L544.5,61.3 L546.0,61.6 L547.5,61.8 L549.0,62.0 L550.5,62.3 L552.0,62.5 L553.5,62.7 L555.0,63.0 L556.5,63.2 L558.0,63.4 L559.5,63.7 L561.0,63.9 L562.5,64.2 L564.0,64.4 L565.5,64.7 L567.0,64.9 L568.5,65.2 L570.0,65.4 L571.5,65.7 L573.0,65.9 L574.5,66.2 L576.0,66.4 L577.5,66.7 L579.0,67.0 L580.5,67.2 L582.0,67.5 L583.5,67.8 L585.0,68.0 L586.5,68.3 L588.0,68.6 L589.5,68.9 L591.0,69.1 L592.5,69.4 L594.0,69.7 L595.5,70.0 L597.0,70.3 L598.5,70.6 L600.0,70.8 L601.5,71.1 L603.0,71.4 L604.5,71.7 L606.0,72.0 L607.5,72.3 L609.0,72.6 L610.5,72.9 L612.0,73.2 L613.5,73.5 L615.0,73.8 L616.5,74.1 L618.0,74.4 L619.5,74.8 L621.0,75.1 L622.5,75.4 L624.0,75.7 L625.5,76.0 L627.0,76.4 L628.5,76.7 L630.0,77.0 L631.5,77.3 L633.0,77.7 L634.5,78.0 L636.0,78.3 L637.5,78.7 L639.0,79.0 L640.5,79.4 L642.0,79.7 L643.5,80.1 L645.0,80.4 L646.5,80.8 L648.0,81.1 L649.5,81.5 L651.0,81.8 L652.5,82.2 L654.0,82.5 L655.5,82.9 L657.0,83.3 L658.5,83.6 L660.0,84.0 L661.5,84.4 L663.0,84.8 L664.5,85.1 L666.0,85.5 L667.5,85.9 L669.0,86.3 L670.5,86.7 L672.0,87.1 L673.5,87.5 L675.0,87.9 L676.5,88.3 L678.0,88.7 L679.5,89.1 L681.0,89.5 L682.5,89.9 L684.0,90.3 L685.5,90.8 L687.0,91.2 L688.5,91.6 L690.0,92.1 L691.5,92.5 L693.0,92.9 L694.5,93.4 L696.0,93.9 L697.5,94.3 L699.0,94.8 L700.5,95.3 L702.0,95.7 L703.5,96.2 L705.0,96.7 L706.5,97.2 L708.0,97.7 L709.5,98.2 L711.0,98.8 L712.5,99.3 L714.0,99.8 L715.5,100.3 L717.0,100.9 L718.5,101.4 L720.0,102.0 L721.5,102.6 L723.0,103.1 L724.5,103.7 L726.0,104.3 L727.5,104.9 L729.0,105.5 L730.5,106.1 L732.0,106.8 L733.5,107.4 L735.0,108.0 L736.5,108.7 L738.0,109.3 L739.5,110.0 L741.0,110.7 L742.5,111.4 L744.0,112.1 L745.5,112.8 L747.0,113.5 L748.5,114.2 L750.0,114.9 L751.5,115.7 L753.0,116.4 L754.5,117.2 L756.0,118.0 L757.5,118.8 L759.0,119.6 L760.5,120.4 L762.0,121.2 L763.5,122.0 L765.0,122.9 L766.5,123.8 L768.0,124.6 L769.5,125.6 L771.0,126.5 L772.5,127.4 L774.0,128.4 L775.5,129.4 L777.0,130.4 L778.5,131.5 L780.0,132.6 L781.5,133.7 L783.0,134.8 L784.5,136.0 L786.0,137.2 L787.5,138.4 L789.0,139.7 L790.5,141.0 L792.0,142.4 L793.5,143.8 L795.0,145.2 L796.5,146.7 L798.0,148.2 L799.5,149.7 L801.0,151.2 L802.5,152.7 L804.0,154.3 L805.5,155.7 L807.0,157.2 L808.5,158.6 L810.0,160.0 L811.5,161.2 L813.0,162.5 L814.5,163.7 L816.0,164.8 L817.5,166.0 L819.0,167.0 L820.5,168.1 L822.0,169.1 L823.5,170.1 L825.0,171.2 L826.5,172.2 L828.0,173.2 L829.5,174.2 L831.0,175.2 L832.5,176.2 L834.0,177.2 L835.5,178.3 L837.0,179.4 L838.5,180.5 L840.0,181.7 L841.5,182.9 L843.0,184.2 L844.5,185.4 L846.0,186.8 L847.5,188.1 L849.0,189.5 L850.5,191.0 L852.0,192.5 L853.5,194.0 L855.0,195.5 L856.5,197.1 L858.0,198.7 L859.5,200.4 L861.0,202.1 L862.5,203.8 L864.0,205.5 L865.5,207.3 L867.0,209.1 L868.5,211.0 L870.0,212.9 L871.5,214.8 L873.0,216.7 L874.5,218.7 L876.0,220.6 L877.5,222.7 L879.0,224.7 L880.5,226.8 L882.0,228.9 L883.5,231.0 L885.0,233.1 L886.5,235.3 L888.0,237.5 L889.5,239.7 L891.0,241.9 L892.5,244.2 L894.0,246.4 L895.5,248.7 L897.0,251.0 L898.5,253.4 L900.0,255.7 L901.5,258.1 L903.0,260.5 L904.5,262.9 L906.0,265.3 L907.5,267.7 L909.0,270.2 L910.5,272.6 L912.0,275.1 L913.5,277.6 L915.0,280.1 L916.5,282.6 L918.0,285.1 L919.5,287.7 L921.0,290.2 L922.5,292.8 L924.0,295.3 L925.5,297.9 L927.0,300.5 L928.5,303.1 L930.0,305.6 L931.5,308.2 L933.0,310.8 L934.5,313.5 L936.0,316.1 L937.5,318.7 L939.0,321.3 L940.5,323.9 L942.0,326.6 L943.5,329.2 L945.0,331.8 L946.5,334.4 L948.0,337.1 L949.5,339.7 L951.0,342.3 L952.5,345.0 L954.0,347.6 L955.5,350.2 L957.0,352.8 L958.5,355.4 L960.0,358.0 L961.5,360.6 L963.0,363.2 L964.5,365.8 L966.0,368.4 L967.5,371.0 L969.0,373.5 L970.5,376.1 L972.0,378.6 L973.5,381.2 L975.0,383.7 L976.5,386.2 L978.0,388.7 L979.5,391.2 L981.0,393.7 L982.5,396.1 L984.0,398.6 L985.5,401.0 L987.0,403.4 L988.5,405.8 L990.0,408.1 L991.5,410.5 L993.0,412.8 L994.5,415.1 L996.0,417.3 L997.5,419.6 L999.0,421.8 L1000.5,423.9 L1002.0,426.1 L1003.5,428.2 L1005.0,430.2 L1006.5,432.3 L1008.0,434.3 L1009.5,436.3 L1011.0,438.2 L1012.5,440.1 L1014.0,441.9 L1015.5,443.7 L1017.0,445.5 L1018.5,447.2 L1020.0,448.9 L1021.5,450.6 L1023.0,452.1 L1024.5,453.7 L1026.0,455.2 L1027.5,456.6 L1029.0,458.0 L1030.5,459.3 L1032.0,460.6 L1033.5,461.8 L1035.0,463.0 L1036.5,464.1 L1038.0,465.2 L1039.5,466.2 L1041.0,467.1 L1042.5,468.0 L1044.0,468.8 L1045.5,469.6 L1047.0,470.3 L1048.5,470.9 L1050.0,471.4 L1051.5,471.9 L1053.0,472.3 L1054.5,472.7 L1056.0,473.0 L1057.5,473.2 L1059.0,473.3 L1060.5,473.3 L1062.0,473.3 L1063.5,473.2 L1065.0,473.0 L1066.5,472.8 L1068.0,472.4 L1069.5,472.0 L1071.0,471.5 L1072.5,470.9 L1074.0,470.2 L1075.5,469.5 L1077.0,468.6 L1078.5,467.7 L1080.0,466.7 L1081.5,465.6 L1083.0,464.4 L1084.5,463.2 L1086.0,461.9 L1087.5,460.5 L1089.0,459.0 L1090.5,457.5 L1092.0,456.0 L1093.5,454.4 L1095.0,452.7 L1096.5,451.0 L1098.0,449.3 L1099.5,447.6 L1101.0,445.8 L1102.5,444.0 L1104.0,442.1 L1105.5,440.3 L1107.0,438.4 L1108.5,436.5 L1110.0,434.6 L1111.5,432.7 L1113.0,430.8 L1114.5,429.0 L1116.0,427.1 L1117.5,425.2 L1119.0,423.4 L1120.5,421.6 L1122.0,419.8 L1123.5,418.0 L1125.0,416.2 L1126.5,414.5 L1128.0,412.7 L1129.5,411.0 L1131.0,409.2 L1132.5,407.3 L1134.0,405.4 L1135.5,403.5 L1137.0,401.5 L1138.5,399.4 L1140.0,397.2 L1141.5,395.0 L1143.0,392.6 L1144.5,390.2 L1146.0,387.7 L1147.5,385.3 L1149.0,382.8 L1150.5,380.3 L1152.0,377.9 L1153.5,375.4 L1155.0,373.0 L1156.5,370.6 L1158.0,368.2 L1159.5,365.8 L1161.0,363.4 L1162.5,361.1 L1164.0,358.8 L1165.5,356.4 L1167.0,354.2 L1168.5,351.9 L1170.0,349.6 L1171.5,347.4 L1173.0,345.2 L1174.5,342.9 L1176.0,340.8 L1177.5,338.6 L1179.0,336.4 L1180.5,334.3 L1182.0,332.2 L1183.5,330.1 L1185.0,328.0 L1186.5,325.9 L1188.0,323.9 L1189.5,321.8 L1191.0,319.8 L1192.5,317.8 L1194.0,315.8 L1195.5,313.9 L1197.0,311.9 L1198.5,310.0 L1200.0,308.0 L1201.5,306.1 L1203.0,304.2 L1204.5,302.4 L1206.0,300.5 L1207.5,298.6 L1209.0,296.8 L1210.5,295.0 L1212.0,293.2 L1213.5,291.4 L1215.0,289.6 L1216.5,287.9 L1218.0,286.1 L1219.5,284.4 L1221.0,282.7 L1222.5,281.0 L1224.0,279.3 L1225.5,277.6 L1227.0,276.0 L1228.5,274.3 L1230.0,272.7 L1231.5,271.1 L1233.0,269.5 L1234.5,267.9 L1236.0,266.3 L1237.5,264.8 L1239.0,263.2 L1240.5,261.7 L1242.0,260.2 L1243.5,258.7 L1245.0,257.2 L1246.5,255.7 L1248.0,254.2 L1249.5,252.8 L1251.0,251.3 L1252.5,249.9 L1254.0,248.5 L1255.5,247.1 L1257.0,245.7 L1258.5,244.3 L1260.0,242.9 L1261.5,241.6 L1263.0,240.2 L1264.5,238.9 L1266.0,237.6 L1267.5,236.3 L1269.0,235.0 L1270.5,233.7 L1272.0,232.4 L1273.5,231.2 L1275.0,229.9 L1276.5,228.7 L1278.0,227.5 L1279.5,226.3 L1281.0,225.1 L1282.5,223.9 L1284.0,222.7 L1285.5,221.5 L1287.0,220.4 L1288.5,219.2 L1290.0,218.1 L1291.5,216.9 L1293.0,215.8 L1294.5,214.7 L1296.0,213.6 L1297.5,212.5 L1299.0,211.5 L1300.5,210.4 L1302.0,209.4 L1303.5,208.3 L1305.0,207.3 L1306.5,206.3 L1308.0,205.2 L1309.5,204.2 L1311.0,203.2 L1312.5,202.2 L1314.0,201.3 L1315.5,200.3 L1317.0,199.3 L1318.5,198.4 L1320.0,197.5 L1321.5,196.5 L1323.0,195.6 L1324.5,194.7 L1326.0,193.8 L1327.5,192.9 L1329.0,192.0 L1330.5,191.1 L1332.0,190.3 L1333.5,189.4 L1335.0,188.5 L1336.5,187.7 L1338.0,186.8 L1339.5,186.0 L1341.0,185.2 L1342.5,184.4 L1344.0,183.6 L1345.5,182.8 L1347.0,182.0 L1348.5,181.2 L1350.0,180.4 L1351.5,179.7 L1353.0,178.9 L1354.5,178.1 L1356.0,177.4 L1357.5,176.6 L1359.0,175.9 L1360.5,175.2 L1362.0,174.5 L1363.5,173.7 L1365.0,173.0 L1366.5,172.3 L1368.0,171.6 L1369.5,171.0 L1371.0,170.3 L1372.5,169.6 L1374.0,168.9 L1375.5,168.3 L1377.0,167.6 L1378.5,166.9 L1380.0,166.3 L1381.5,165.7 L1383.0,165.0 L1384.5,164.4 L1386.0,163.8 L1387.5,163.1 L1389.0,162.5 L1390.5,161.9 L1392.0,161.3 L1393.5,160.7 L1395.0,160.1 L1396.5,159.5 L1398.0,159.0 L1399.5,158.4 L1401.0,157.8 L1402.5,157.2 L1404.0,156.7 L1405.5,156.1 L1407.0,155.5 L1408.5,155.0 L1410.0,154.4 L1411.5,153.9 L1413.0,153.3 L1414.5,152.8 L1416.0,152.3 L1417.5,151.8 L1419.0,151.2 L1420.5,150.7 L1422.0,150.2 L1423.5,149.7 L1425.0,149.2 L1426.5,148.7 L1428.0,148.2 L1429.5,147.7 L1431.0,147.2 L1432.5,146.7 L1434.0,146.2 L1435.5,145.8 L1437.0,145.3 L1438.5,144.8 L1440.0,144.3 L1441.5,143.9 L1443.0,143.4 L1444.5,143.0 L1446.0,142.5 L1447.5,142.1 L1449.0,141.6 L1450.5,141.2 L1452.0,140.8 L1453.5,140.3 L1455.0,139.9 L1456.5,139.5 L1458.0,139.1 L1459.5,138.6 L1461.0,138.2 L1462.5,137.8 L1464.0,137.4 L1465.5,137.0 L1467.0,136.6 L1468.5,136.2 L1470.0,135.8 L1471.5,135.5 L1473.0,135.1 L1474.5,134.7 L1476.0,134.3 L1477.5,133.9 L1479.0,133.6 L1480.5,133.2 L1482.0,132.8 L1483.5,132.5 L1485.0,132.1 L1486.5,131.8 L1488.0,131.4 L1489.5,131.1 L1491.0,130.7 L1492.5,130.4 L1494.0,130.1 L1495.5,129.7 L1497.0,129.4 L1498.5,129.1 L1500.0,128.8 L1501.5,128.4 L1503.0,128.1 L1504.5,127.8 L1506.0,127.5 L1507.5,127.2 L1509.0,126.9 L1510.5,126.6 L1512.0,126.3 L1513.5,126.0 L1515.0,125.7 L1516.5,125.4 L1518.0,125.1 L1519.5,124.8 L1521.0,124.6 L1522.5,124.3 L1524.0,124.0 L1525.5,123.7 L1527.0,123.5 L1528.5,123.2 L1530.0,122.9 L1531.5,122.7 L1533.0,122.4 L1534.5,122.2 L1536.0,121.9 L1537.5,121.6 L1539.0,121.4 L1540.5,121.2 L1542.0,120.9 L1543.5,120.7 L1545.0,120.4 L1546.5,120.2 L1548.0,120.0 L1549.5,119.7 L1551.0,119.5 L1552.5,119.3 L1554.0,119.1 L1555.5,118.8 L1557.0,118.6 L1558.5,118.4 L1560.0,118.2 L1561.5,118.0 L1563.0,117.8 L1564.5,117.6 L1566.0,117.4 L1567.5,117.2 L1569.0,117.0 L1570.5,116.8 L1572.0,116.6 L1573.5,116.4 L1575.0,116.2 L1576.5,116.0 L1578.0,115.8 L1579.5,115.6 L1581.0,115.4 L1582.5,115.3 L1584.0,115.1 L1585.5,114.9 L1587.0,114.7 L1588.5,114.5 L1590.0,114.4 L1591.5,114.2 L1593.0,114.0 L1594.5,113.9 L1596.0,113.7 L1597.5,113.5 L1599.0,113.4 L1600.5,113.2 L1602.0,113.1 L1603.5,112.9 L1605.0,112.8 L1606.5,112.6 L1608.0,112.5 L1609.5,112.3 L1611.0,112.2 L1612.5,112.0 L1614.0,111.9 L1615.5,111.7 L1617.0,111.6 L1618.5,111.5 L1620.0,111.3 L1621.5,111.2 L1623.0,111.0 L1624.5,110.9 L1626.0,110.8 L1627.5,110.7 L1629.0,110.5 L1630.5,110.4 L1632.0,110.3 L1633.5,110.1 L1635.0,110.0 L1636.5,109.9 L1638.0,109.8 L1639.5,109.7 L1641.0,109.5 L1642.5,109.4 L1644.0,109.3 L1645.5,109.2 L1647.0,109.1 L1648.5,109.0 L1650.0,108.9 L1651.5,108.7 L1653.0,108.6 L1654.5,108.5 L1656.0,108.4 L1657.5,108.3 L1659.0,108.2 L1660.5,108.1 L1662.0,108.0 L1663.5,107.9 L1665.0,107.8 L1666.5,107.7 L1668.0,107.6 L1669.5,107.5 L1671.0,107.4 L1672.5,107.3 L1674.0,107.2 L1675.5,107.1 L1677.0,107.0 L1678.5,106.9 L1680.0,106.8 L1681.5,106.7 L1683.0,106.6 L1684.5,106.5 L1686.0,106.5 L1687.5,106.4 L1689.0,106.3 L1690.5,106.2 L1692.0,106.1 L1693.5,106.0 L1695.0,105.9 L1696.5,105.8 L1698.0,105.7 L1699.5,105.7 L1701.0,105.6 L1702.5,105.5 L1704.0,105.4 L1705.5,105.3 L1707.0,105.2 L1708.5,105.1 L1710.0,105.0 L1711.5,105.0 L1713.0,104.9 L1714.5,104.8 L1716.0,104.7 L1717.5,104.6 L1719.0,104.5 L1720.5,104.5 L1722.0,104.4 L1723.5,104.3 L1725.0,104.2 L1726.5,104.1 L1728.0,104.0 L1729.5,104.0 L1731.0,103.9 L1732.5,103.8 L1734.0,103.7 L1735.5,103.6 L1737.0,103.5 L1738.5,103.5 L1740.0,103.4 L1741.5,103.3 L1743.0,103.2 L1744.5,103.1 L1746.0,103.0 L1747.5,103.0 L1749.0,102.9 L1750.5,102.8 L1752.0,102.7 L1753.5,102.6 L1755.0,102.5 L1756.5,102.4 L1758.0,102.3 L1759.5,102.3 L1761.0,102.2 L1762.5,102.1 L1764.0,102.0 L1765.5,101.9 L1767.0,101.8 L1768.5,101.7 L1770.0,101.6 L1771.5,101.5 L1773.0,101.4 L1774.5,101.3 L1776.0,101.3 L1777.5,101.2 L1779.0,101.1 L1780.5,101.0 L1782.0,100.9 L1783.5,100.8 L1785.0,100.7 L1786.5,100.6 L1788.0,100.5 L1789.5,100.4 L1791.0,100.3 L1792.5,100.2 L1794.0,100.1 L1795.5,100.0 L1797.0,99.9 L1798.5,99.8 L1800.0,99.6 L1801.5,99.5 L1803.0,99.4 L1804.5,99.3 L1806.0,99.2 L1807.5,99.1 L1809.0,99.0 L1810.5,98.9 L1812.0,98.8 L1813.5,98.6 L1815.0,98.5 L1816.5,98.4 L1818.0,98.3 L1819.5,98.2 L1821.0,98.0 L1822.5,97.9 L1824.0,97.8 L1825.5,97.7 L1827.0,97.5 L1828.5,97.4 L1830.0,97.3"/>
<path stroke="#0f0" d="M196.0,33.9 C202.2,34.1 208.6,34.0 214.6,34.6 C220.3,35.2 225.3,36.1 231.0,37.3 C237.5,38.7 245.3,40.7 251.6,42.8 C257.1,44.7 262.8,48.7 266.7,49.0 C269.2,49.2 270.8,47.1 272.8,47.4 C274.9,47.8 276.8,50.3 279.0,51.7 C281.4,53.2 283.9,55.5 286.5,56.0 C288.9,56.5 290.9,55.0 294.0,55.0 C298.9,55.0 307.3,56.4 313.2,57.2 C318.2,57.8 322.4,58.5 327.0,59.2 L330.0,58.7 L331.5,58.4 L333.0,58.0 L334.5,57.6 L336.0,57.1 L337.5,56.6 L339.0,56.1 L340.5,55.7 L342.0,55.2 L343.5,54.7 L345.0,54.3 L346.5,53.8 L348.0,53.4 L349.5,53.0 L351.0,52.6 L352.5,52.3 L354.0,51.9 L355.5,51.6 L357.0,51.3 L358.5,51.0 L360.0,50.7 L361.5,50.4 L363.0,50.1 L364.5,49.9 L366.0,49.6 L367.5,49.4 L369.0,49.2 L370.5,49.0 L372.0,48.8 L373.5,48.6 L375.0,48.4 L376.5,48.3 L378.0,48.1 L379.5,48.0 L381.0,47.9 L382.5,47.7 L384.0,47.6 L385.5,47.6 L387.0,47.5 L388.5,47.4 L390.0,47.3 L391.5,47.3 L393.0,47.2 L394.5,47.2 L396.0,47.2 L397.5,47.2 L399.0,47.2 L400.5,47.2 L402.0,47.2 L403.5,47.2 L405.0,47.2 L406.5,47.2 L408.0,47.3 L409.5,47.3 L411.0,47.3 L412.5,47.4 L414.0,47.5 L415.5,47.5 L417.0,47.6 L418.5,47.7 L420.0,47.8 L421.5,47.9 L423.0,47.9 L424.5,48.0 L426.0,48.1 L427.5,48.2 L429.0,48.4 L430.5,48.5 L432.0,48.6 L433.5,48.7 L435.0,48.8 L436.5,49.0 L438.0,49.1 L439.5,49.2 L441.0,49.4 L442.5,49.5 L444.0,49.7 L445.5,49.8 L447.0,50.0 L448.5,50.1 L450.0,50.3 L451.5,50.4 L453.0,50.6 L454.5,50.7 L456.0,50.9 L457.5,51.1 L459.0,51.2 L460.5,51.4 L462.0,51.6 L463.5,51.7 L465.0,51.9 L466.5,52.1 L468.0,52.2 L469.5,52.4 L471.0,52.6 L472.5,52.8 L474.0,52.9 L475.5,53.1 L477.0,53.3 L478.5,53.5 L480.0,53.6 L481.5,53.8 L483.0,54.0 L484.5,54.2 L486.0,54.3 L487.5,54.5 L489.0,54.7 L490.5,54.8 L492.0,55.0 L493.5,55.2 L495.0,55.3 L496.5,55.5 L498.0,55.7 L499.5,55.8 L501.0,56.0 L502.5,56.1 L504.0,56.3 L505.5,56.4 L507.0,56.6 L508.5,56.7 L510.0,56.9 L511.5,57.0 L513.0,57.2 L514.5,57.3 L516.0,57.5 L517.5,57.6 L519.0,57.8 L520.5,58.0 L522.0,58.1 L523.5,58.3 L525.0,58.4 L526.5,58.6 L528.0,58.8 L529.5,59.0 L531.0,59.1 L532.5,59.3 L534.0,59.5 L535.5,59.7 L537.0,59.9 L538.5,60.1 L540.0,60.3 L541.5,60.5 L543.0,60.8 L544.5,61.0 L546.0,61.2 L547.5,61.5 L549.0,61.7 L550.5,62.0 L552.0,62.2 L553.5,62.5 L555.0,62.7 L556.5,63.0 L558.0,63.3 L559.5,63.6 L561.0,63.9 L562.5,64.2 L564.0,64.5 L565.5,64.8 L567.0,65.1 L568.5,65.4 L570.0,65.7 L571.5,66.0 L573.0,66.4 L574.5,66.7 L576.0,67.0 L577.5,67.4 L579.0,67.7 L580.5,68.1 L582.0,68.4 L583.5,68.8 L585.0,69.1 L586.5,69.5 L588.0,69.8 L589.5,70.2 L591.0,70.6 L592.5,70.9 L594.0,71.3 L595.5,71.7 L597.0,72.1 L598.5,72.5 L600.0,72.8 L601.5,73.2 L603.0,73.6 L604.5,74.0 L606.0,74.4 L607.5,74.8 L609.0,75.2 L610.5,75.6 L612.0,76.0 L613.5,76.4 L615.0,76.8 L616.5,77.2 L618.0,77.6 L619.5,78.0 L621.0,78.4 L622.5,78.8 L624.0,79.2 L625.5,79.6 L627.0,80.0 L628.5,80.4 L630.0,80.8 L631.5,81.2 L633.0,81.6 L634.5,82.0 L636.0,82.4 L637.5,82.8 L639.0,83.2 L640.5,83.6 L642.0,84.0 L643.5,84.4 L645.0,84.7 L646.5,85.1 L648.0,85.5 L649.5,85.9 L651.0,86.3 L652.5,86.7 L654.0,87.1 L655.5,87.5 L657.0,87.8 L658.5,88.2 L660.0,88.6 L661.5,89.0 L663.0,89.3 L664.5,89.7 L666.0,90.1 L667.5,90.4 L669.0,90.8 L670.5,91.2 L672.0,91.5 L673.5,91.9 L675.0,92.3 L676.5,92.6 L678.0,93.0 L679.5,93.4 L681.0,93.7 L682.5,94.1 L684.0,94.5 L685.5,94.9 L687.0,95.3 L688.5,95.7 L690.0,96.0 L691.5,96.5 L693.0,96.9 L694.5,97.3 L696.0,97.7 L697.5,98.1 L699.0,98.6 L700.5,99.0 L702.0,99.4 L703.5,99.9 L705.0,100.4 L706.5,100.9 L708.0,101.3 L709.5,101.8 L711.0,102.4 L712.5,102.9 L714.0,103.4 L715.5,104.0 L717.0,104.5 L718.5,105.1 L720.0,105.7 L721.5,106.3 L723.0,106.9 L724.5,107.5 L726.0,108.2 L727.5,108.8 L729.0,109.5 L730.5,110.2 L732.0,110.9 L733.5,111.6 L735.0,112.4 L736.5,113.1 L738.0,113.9 L739.5,114.7 L741.0,115.5 L742.5,116.4 L744.0,117.2 L745.5,118.1 L747.0,119.0 L748.5,120.0 L750.0,120.9 L751.5,121.9 L753.0,122.9 L754.5,123.9 L756.0,124.9 L757.5,126.0 L759.0,127.1 L760.5,128.2 L762.0,129.3 L763.5,130.4 L765.0,131.6 L766.5,132.8 L768.0,134.0 L769.5,135.2 L771.0,136.4 L772.5,137.7 L774.0,139.0 L775.5,140.2 L777.0,141.5 L778.5,142.9 L780.0,144.2 L781.5,145.6 L783.0,146.9 L784.5,148.3 L786.0,149.7 L787.5,151.1 L789.0,152.5 L790.5,153.8 L792.0,155.1 L793.5,156.5 L795.0,157.7 L796.5,159.0 L798.0,160.2 L799.5,161.3 L801.0,162.5 L802.5,163.6 L804.0,164.6 L805.5,165.7 L807.0,166.7 L808.5,167.7 L810.0,168.8 L811.5,169.8 L813.0,170.8 L814.5,171.8 L816.0,172.9 L817.5,174.0 L819.0,175.0 L820.5,176.2 L822.0,177.3 L823.5,178.6 L825.0,179.8 L826.5,181.1 L828.0,182.5 L829.5,183.9 L831.0,185.3 L832.5,186.8 L834.0,188.4 L835.5,190.0 L837.0,191.6 L838.5,193.3 L840.0,195.1 L841.5,196.8 L843.0,198.6 L844.5,200.5 L846.0,202.3 L847.5,204.2 L849.0,206.2 L850.5,208.1 L852.0,210.1 L853.5,212.2 L855.0,214.2 L856.5,216.3 L858.0,218.4 L859.5,220.5 L861.0,222.7 L862.5,224.8 L864.0,227.0 L865.5,229.2 L867.0,231.4 L868.5,233.6 L870.0,235.9 L871.5,238.1 L873.0,240.4 L874.5,242.6 L876.0,244.9 L877.5,247.2 L879.0,249.5 L880.5,251.8 L882.0,254.1 L883.5,256.4 L885.0,258.7 L886.5,261.1 L888.0,263.4 L889.5,265.8 L891.0,268.1 L892.5,270.5 L894.0,272.9 L895.5,275.3 L897.0,277.7 L898.5,280.2 L900.0,282.6 L901.5,285.0 L903.0,287.5 L904.5,290.0 L906.0,292.5 L907.5,295.0 L909.0,297.5 L910.5,300.0 L912.0,302.5 L913.5,305.1 L915.0,307.7 L916.5,310.2 L918.0,312.8 L919.5,315.4 L921.0,318.1 L922.5,320.7 L924.0,323.3 L925.5,326.0 L927.0,328.7 L928.5,331.4 L930.0,334.1 L931.5,336.8 L933.0,339.5 L934.5,342.3 L936.0,345.0 L937.5,347.8 L939.0,350.5 L940.5,353.3 L942.0,356.0 L943.5,358.8 L945.0,361.5 L946.5,364.2 L948.0,367.0 L949.5,369.7 L951.0,372.4 L952.5,375.1 L954.0,377.7 L955.5,380.4 L957.0,383.0 L958.5,385.6 L960.0,388.2 L961.5,390.8 L963.0,393.3 L964.5,395.8 L966.0,398.3 L967.5,400.7 L969.0,403.1 L970.5,405.5 L972.0,407.9 L973.5,410.2 L975.0,412.5 L976.5,414.8 L978.0,417.0 L979.5,419.2 L981.0,421.3 L982.5,423.4 L984.0,425.5 L985.5,427.5 L987.0,429.5 L988.5,431.4 L990.0,433.3 L991.5,435.1 L993.0,436.9 L994.5,438.7 L996.0,440.4 L997.5,442.0 L999.0,443.6 L1000.5,445.1 L1002.0,446.6 L1003.5,448.0 L1005.0,449.4 L1006.5,450.7 L1008.0,452.0 L1009.5,453.2 L1011.0,454.3 L1012.5,455.4 L1014.0,456.4 L1015.5,457.4 L1017.0,458.3 L1018.5,459.1 L1020.0,459.9 L1021.5,460.5 L1023.0,461.2 L1024.5,461.7 L1026.0,462.2 L1027.5,462.6 L1029.0,462.9 L1030.5,463.2 L1032.0,463.4 L1033.5,463.5 L1035.0,463.6 L1036.5,463.5 L1038.0,463.5 L1039.5,463.3 L1041.0,463.1 L1042.5,462.8 L1044.0,462.5 L1045.5,462.1 L1047.0,461.6 L1048.5,461.0 L1050.0,460.4 L1051.5,459.8 L1053.0,459.1 L1054.5,458.3 L1056.0,457.4 L1057.5,456.5 L1059.0,455.5 L1060.5,454.5 L1062.0,453.4 L1063.5,452.3 L1065.0,451.1 L1066.5,449.8 L1068.0,448.5 L1069.5,447.2 L1071.0,445.8 L1072.5,444.4 L1074.0,442.9 L1075.5,441.4 L1077.0,439.8 L1078.5,438.2 L1080.0,436.5 L1081.5,434.8 L1083.0,433.1 L1084.5,431.3 L1086.0,429.5 L1087.5,427.7 L1089.0,425.9 L1090.5,424.0 L1092.0,422.0 L1093.5,420.1 L1095.0,418.1 L1096.5,416.1 L1098.0,414.1 L1099.5,412.1 L1101.0,410.0 L1102.5,408.0 L1104.0,405.9 L1105.5,403.8 L1107.0,401.7 L1108.5,399.5 L1110.0,397.4 L1111.5,395.2 L1113.0,393.1 L1114.5,390.9 L1116.0,388.7 L1117.5,386.5 L1119.0,384.3 L1120.5,382.1 L1122.0,379.9 L1123.5,377.7 L1125.0,375.5 L1126.5,373.3 L1128.0,371.1 L1129.5,368.8 L1131.0,366.6 L1132.5,364.4 L1134.0,362.1 L1135.5,359.9 L1137.0,357.7 L1138.5,355.5 L1140.0,353.2 L1141.5,351.0 L1143.0,348.8 L1144.5,346.6 L1146.0,344.4 L1147.5,342.2 L1149.0,340.0 L1150.5,337.8 L1152.0,335.6 L1153.5,333.4 L1155.0,331.3 L1156.5,329.1 L1158.0,327.0 L1159.5,324.8 L1161.0,322.7 L1162.5,320.6 L1164.0,318.5 L1165.5,316.4 L1167.0,314.4 L1168.5,312.3 L1170.0,310.3 L1171.5,308.3 L1173.0,306.3 L1174.5,304.3 L1176.0,302.3 L1177.5,300.4 L1179.0,298.4 L1180.5,296.5 L1182.0,294.6 L1183.5,292.7 L1185.0,290.9 L1186.5,289.0 L1188.0,287.2 L1189.5,285.3 L1191.0,283.5 L1192.5,281.7 L1194.0,280.0 L1195.5,278.2 L1197.0,276.5 L1198.5,274.7 L1200.0,273.0 L1201.5,271.3 L1203.0,269.6 L1204.5,268.0 L1206.0,266.3 L1207.5,264.7 L1209.0,263.0 L1210.5,261.4 L1212.0,259.8 L1213.5,258.2 L1215.0,256.7 L1216.5,255.1 L1218.0,253.6 L1219.5,252.1 L1221.0,250.5 L1222.5,249.0 L1224.0,247.6 L1225.5,246.1 L1227.0,244.6 L1228.5,243.2 L1230.0,241.8 L1231.5,240.3 L1233.0,238.9 L1234.5,237.5 L1236.0,236.2 L1237.5,234.8 L1239.0,233.4 L1240.5,232.1 L1242.0,230.8 L1243.5,229.5 L1245.0,228.2 L1246.5,226.9 L1248.0,225.6 L1249.5,224.3 L1251.0,223.1 L1252.5,221.8 L1254.0,220.6 L1255.5,219.4 L1257.0,218.2 L1258.5,217.0 L1260.0,215.8 L1261.5,214.6 L1263.0,213.5 L1264.5,212.3 L1266.0,211.2 L1267.5,210.1 L1269.0,209.0 L1270.5,207.9 L1272.0,206.8 L1273.5,205.7 L1275.0,204.6 L1276.5,203.6 L1278.0,202.5 L1279.5,201.5 L1281.0,200.4 L1282.5,199.4 L1284.0,198.4 L1285.5,197.4 L1287.0,196.4 L1288.5,195.5 L1290.0,194.5 L1291.5,193.5 L1293.0,192.6 L1294.5,191.7 L1296.0,190.7 L1297.5,189.8 L1299.0,188.9 L1300.5,188.0 L1302.0,187.1 L1303.5,186.2 L1305.0,185.4 L1306.5,184.5 L1308.0,183.6 L1309.5,182.8 L1311.0,182.0 L1312.5,181.1 L1314.0,180.3 L1315.5,179.5 L1317.0,178.7 L1318.5,177.9 L1320.0,177.1 L1321.5,176.4 L1323.0,175.6 L1324.5,174.8 L1326.0,174.1 L1327.5,173.3 L1329.0,172.6 L1330.5,171.9 L1332.0,171.1 L1333.5,170.4 L1335.0,169.7 L1336.5,169.0 L1338.0,168.3 L1339.5,167.6 L1341.0,166.9 L1342.5,166.3 L1344.0,165.6 L1345.5,165.0 L1347.0,164.3 L1348.5,163.7 L1350.0,163.0 L1351.5,162.4 L1353.0,161.8 L1354.5,161.1 L1356.0,160.5 L1357.5,159.9 L1359.0,159.3 L1360.5,158.7 L1362.0,158.1 L1363.5,157.5 L1365.0,157.0 L1366.5,156.4 L1368.0,155.8 L1369.5,155.3 L1371.0,154.7 L1372.5,154.1 L1374.0,153.6 L1375.5,153.1 L1377.0,152.5 L1378.5,152.0 L1380.0,151.5 L1381.5,150.9 L1383.0,150.4 L1384.5,149.9 L1386.0,149.4 L1387.5,148.9 L1389.0,148.4 L1390.5,147.9 L1392.0,147.4 L1393.5,146.9 L1395.0,146.4 L1396.5,146.0 L1398.0,145.5 L1399.5,145.0 L1401.0,144.5 L1402.5,144.1 L1404.0,143.6 L1405.5,143.2 L1407.0,142.7 L1408.5,142.2 L1410.0,141.8 L1411.5,141.3 L1413.0,140.9 L1414.5,140.5 L1416.0,140.0 L1417.5,139.6 L1419.0,139.2 L1420.5,138.8 L1422.0,138.3 L1423.5,137.9 L1425.0,137.5 L1426.5,137.1 L1428.0,136.7 L1429.5,136.3 L1431.0,135.9 L1432.5,135.5 L1434.0,135.1 L1435.5,134.7 L1437.0,134.3 L1438.5,133.9 L1440.0,133.5 L1441.5,133.1 L1443.0,132.8 L1444.5,132.4 L1446.0,132.0 L1447.5,131.7 L1449.0,131.3 L1450.5,130.9 L1452.0,130.6 L1453.5,130.2 L1455.0,129.9 L1456.5,129.5 L1458.0,129.2 L1459.5,128.8 L1461.0,128.5 L1462.5,128.2 L1464.0,127.8 L1465.5,127.5 L1467.0,127.2 L1468.5,126.8 L1470.0,126.5 L1471.5,126.2 L1473.0,125.9 L1474.5,125.6 L1476.0,125.2 L1477.5,124.9 L1479.0,124.6 L1480.5,124.3 L1482.0,124.0 L1483.5,123.7 L1485.0,123.4 L1486.5,123.1 L1488.0,122.8 L1489.5,122.6 L1491.0,122.3 L1492.5,122.0 L1494.0,121.7 L1495.5,121.4 L1497.0,121.2 L1498.5,120.9 L1500.0,120.6 L1501.5,120.3 L1503.0,120.1 L1504.5,119.8 L1506.0,119.6 L1507.5,119.3 L1509.0,119.0 L1510.5,118.8 L1512.0,118.5 L1513.5,118.3 L1515.0,118.0 L1516.5,117.8 L1518.0,117.6 L1519.5,117.3 L1521.0,117.1 L1522.5,116.8 L1524.0,116.6 L1525.5,116.4 L1527.0,116.2 L1528.5,115.9 L1530.0,115.7 L1531.5,115.5 L1533.0,115.3 L1534.5,115.0 L1536.0,114.8 L1537.5,114.6 L1539.0,114.4 L1540.5,114.2 L1542.0,114.0 L1543.5,113.8 L1545.0,113.6 L1546.5,113.4 L1548.0,113.2 L1549.5,113.0 L1551.0,112.8 L1552.5,112.6 L1554.0,112.4 L1555.5,112.2 L1557.0,112.0 L1558.5,111.8 L1560.0,111.7 L1561.5,111.5 L1563.0,111.3 L1564.5,111.1 L1566.0,110.9 L1567.5,110.8 L1569.0,110.6 L1570.5,110.4 L1572.0,110.3 L1573.5,110.1 L1575.0,109.9 L1576.5,109.8 L1578.0,109.6 L1579.5,109.4 L1581.0,109.3 L1582.5,109.1 L1584.0,109.0 L1585.5,108.8 L1587.0,108.7 L1588.5,108.5 L1590.0,108.4 L1591.5,108.2 L1593.0,108.1 L1594.5,107.9 L1596.0,107.8 L1597.5,107.6 L1599.0,107.5 L1600.5,107.4 L1602.0,107.2 L1603.5,107.1 L1605.0,106.9 L1606.5,106.8 L1608.0,106.7 L1609.5,106.5 L1611.0,106.4 L1612.5,106.3 L1614.0,106.2 L1615.5,106.0 L1617.0,105.9 L1618.5,105.8 L1620.0,105.7 L1621.5,105.5 L1623.0,105.4 L1624.5,105.3 L1626.0,105.2 L1627.5,105.1 L1629.0,105.0 L1630.5,104.8 L1632.0,104.7 L1633.5,104.6 L1635.0,104.5 L1636.5,104.4 L1638.0,104.3 L1639.5,104.2 L1641.0,104.1 L1642.5,104.0 L1644.0,103.9 L1645.5,103.8 L1647.0,103.7 L1648.5,103.6 L1650.0,103.5 L1651.5,103.4 L1653.0,103.3 L1654.5,103.2 L1656.0,103.1 L1657.5,103.0 L1659.0,102.9 L1660.5,102.8 L1662.0,102.7 L1663.5,102.6 L1665.0,102.5 L1666.5,102.4 L1668.0,102.3 L1669.5,102.2 L1671.0,102.1 L1672.5,102.1 L1674.0,102.0 L1675.5,101.9 L1677.0,101.8 L1678.5,101.7 L1680.0,101.6 L1681.5,101.5 L1683.0,101.4 L1684.5,101.4 L1686.0,101.3 L1687.5,101.2 L1689.0,101.1 L1690.5,101.0 L1692.0,100.9 L1693.5,100.9 L1695.0,100.8 L1696.5,100.7 L1698.0,100.6 L1699.5,100.5 L1701.0,100.5 L1702.5,100.4 L1704.0,100.3 L1705.5,100.2 L1707.0,100.2 L1708.5,100.1 L1710.0,100.0 L1711.5,99.9 L1713.0,99.8 L1714.5,99.8 L1716.0,99.7 L1717.5,99.6 L1719.0,99.5 L1720.5,99.5 L1722.0,99.4 L1723.5,99.3 L1725.0,99.2 L1726.5,99.2 L1728.0,99.1 L1729.5,99.0 L1731.0,98.9 L1732.5,98.9 L1734.0,98.8 L1735.5,98.7 L1737.0,98.6 L1738.5,98.6 L1740.0,98.5 L1741.5,98.4 L1743.0,98.3 L1744.5,98.3 L1746.0,98.2 L1747.5,98.1 L1749.0,98.0 L1750.5,98.0 L1752.0,97.9 L1753.5,97.8 L1755.0,97.7 L1756.5,97.6 L1758.0,97.6 L1759.5,97.5 L1761.0,97.4 L1762.5,97.3 L1764.0,97.3 L1765.5,97.2 L1767.0,97.1 L1768.5,97.0 L1770.0,96.9 L1771.5,96.9 L1773.0,96.8 L1774.5,96.7 L1776.0,96.6 L1777.5,96.5 L1779.0,96.5 L1780.5,96.4 L1782.0,96.3 L1783.5,96.2 L1785.0,96.1 L1786.5,96.0 L1788.0,96.0 L1789.5,95.9 L1791.0,95.8 L1792.5,95.7 L1794.0,95.6 L1795.5,95.5 L1797.0,95.4 L1798.5,95.3 L1800.0,95.3 L1801.5,95.2 L1803.0,95.1 L1804.5,95.0 L1806.0,94.9 L1807.5,94.8 L1809.0,94.7 L1810.5,94.6 L1812.0,94.5 L1813.5,94.4 L1815.0,94.3 L1816.5,94.2 L1818.0,94.1 L1819.5,94.0 L1821.0,93.9 L1822.5,93.8 L1824.0,93.7 L1825.5,93.6 L1827.0,93.5 L1828.5,93.4 L1830.0,93.3"/>
<path stroke="#00f" d="M196.0,33.9 C202.2,34.1 208.6,34.0 214.6,34.6 C220.3,35.2 225.3,36.1 231.0,37.3 C237.5,38.7 245.3,40.7 251.6,42.8 C257.1,44.7 262.8,48.7 266.7,49.0 C269.2,49.2 270.8,47.1 272.8,47.4 C274.9,47.8 276.7,50.9 279.0,51.7 C281.3,52.5 283.7,52.0 286.5,52.5 C290.3,53.2 294.7,54.3 299.5,55.8 C305.6,57.7 313.2,60.8 320.0,63.3 L330.0,65.1 L331.5,65.1 L333.0,65.2 L334.5,65.1 L336.0,65.1 L337.5,65.0 L339.0,64.8 L340.5,64.7 L342.0,64.5 L343.5,64.2 L345.0,64.0 L346.5,63.7 L348.0,63.4 L349.5,63.0 L351.0,62.7 L352.5,62.3 L354.0,61.9 L355.5,61.4 L357.0,61.0 L358.5,60.6 L360.0,60.1 L361.5,59.6 L363.0,59.2 L364.5,58.7 L366.0,58.2 L367.5,57.8 L369.0,57.3 L370.5,56.8 L372.0,56.4 L373.5,55.9 L375.0,55.5 L376.5,55.1 L378.0,54.7 L379.5,54.3 L381.0,54.0 L382.5,53.6 L384.0,53.3 L385.5,53.1 L387.0,52.8 L388.5,52.6 L390.0,52.4 L391.5,52.3 L393.0,52.2 L394.5,52.1 L396.0,52.0 L397.5,52.0 L399.0,52.0 L400.5,52.0 L402.0,52.0 L403.5,52.1 L405.0,52.1 L406.5,52.2 L408.0,52.3 L409.5,52.4 L411.0,52.5 L412.5,52.6 L414.0,52.8 L415.5,52.9 L417.0,53.0 L418.5,53.1 L420.0,53.2 L421.5,53.4 L423.0,53.5 L424.5,53.6 L426.0,53.7 L427.5,53.8 L429.0,54.0 L430.5,54.1 L432.0,54.2 L433.5,54.3 L435.0,54.4 L436.5,54.6 L438.0,54.7 L439.5,54.8 L441.0,54.9 L442.5,55.1 L444.0,55.2 L445.5,55.3 L447.0,55.4 L448.5,55.6 L450.0,55.7 L451.5,55.8 L453.0,55.9 L454.5,56.1 L456.0,56.2 L457.5,56.3 L459.0,56.5 L460.5,56.6 L462.0,56.7 L463.5,56.9 L465.0,57.0 L466.5,57.1 L468.0,57.3 L469.5,57.4 L471.0,57.6 L472.5,57.7 L474.0,57.9 L475.5,58.0 L477.0,58.2 L478.5,58.3 L480.0,58.5 L481.5,58.6 L483.0,58.8 L484.5,58.9 L486.0,59.1 L487.5,59.3 L489.0,59.4 L490.5,59.6 L492.0,59.8 L493.5,59.9 L495.0,60.1 L496.5,60.3 L498.0,60.5 L499.5,60.6 L501.0,60.8 L502.5,61.0 L504.0,61.2 L505.5,61.4 L507.0,61.6 L508.5,61.8 L510.0,62.0 L511.5,62.2 L513.0,62.3 L514.5,62.5 L516.0,62.7 L517.5,62.9 L519.0,63.1 L520.5,63.3 L522.0,63.5 L523.5,63.6 L525.0,63.8 L526.5,64.0 L528.0,64.1 L529.5,64.3 L531.0,64.4 L532.5,64.6 L534.0,64.7 L535.5,64.8 L537.0,64.9 L538.5,65.0 L540.0,65.2 L541.5,65.2 L543.0,65.3 L544.5,65.4 L546.0,65.5 L547.5,65.5 L549.0,65.6 L550.5,65.6 L552.0,65.7 L553.5,65.7 L555.0,65.8 L556.5,65.8 L558.0,65.8 L559.5,65.8 L561.0,65.9 L562.5,65.9 L564.0,65.9 L565.5,66.0 L567.0,66.0 L568.5,66.0 L570.0,66.1 L571.5,66.1 L573.0,66.1 L574.5,66.2 L576.0,66.3 L577.5,66.3 L579.0,66.4 L580.5,66.5 L582.0,66.6 L583.5,66.6 L585.0,66.8 L586.5,66.9 L588.0,67.0 L589.5,67.1 L591.0,67.2 L592.5,67.4 L594.0,67.5 L595.5,67.7 L597.0,67.8 L598.5,68.0 L600.0,68.2 L601.5,68.3 L603.0,68.5 L604.5,68.7 L606.0,68.9 L607.5,69.1 L609.0,69.2 L610.5,69.4 L612.0,69.6 L613.5,69.8 L615.0,70.1 L616.5,70.3 L618.0,70.5 L619.5,70.7 L621.0,70.9 L622.5,71.1 L624.0,71.3 L625.5,71.5 L627.0,71.8 L628.5,72.0 L630.0,72.2 L631.5,72.4 L633.0,72.7 L634.5,72.9 L636.0,73.1 L637.5,73.4 L639.0,73.6 L640.5,73.8 L642.0,74.1 L643.5,74.3 L645.0,74.6 L646.5,74.8 L648.0,75.0 L649.5,75.3 L651.0,75.5 L652.5,75.8 L654.0,76.0 L655.5,76.3 L657.0,76.6 L658.5,76.8 L660.0,77.1 L661.5,77.3 L663.0,77.6 L664.5,77.9 L666.0,78.2 L667.5,78.4 L669.0,78.7 L670.5,79.0 L672.0,79.3 L673.5,79.5 L675.0,79.8 L676.5,80.1 L678.0,80.4 L679.5,80.7 L681.0,81.0 L682.5,81.3 L684.0,81.6 L685.5,81.9 L687.0,82.2 L688.5,82.5 L690.0,82.8 L691.5,83.1 L693.0,83.4 L694.5,83.7 L696.0,84.0 L697.5,84.3 L699.0,84.7 L700.5,85.0 L702.0,85.3 L703.5,85.6 L705.0,86.0 L706.5,86.3 L708.0,86.6 L709.5,87.0 L711.0,87.3 L712.5,87.7 L714.0,88.0 L715.5,88.4 L717.0,88.7 L718.5,89.1 L720.0,89.4 L721.5,89.8 L723.0,90.1 L724.5,90.5 L726.0,90.9 L727.5,91.2 L729.0,91.6 L730.5,92.0 L732.0,92.4 L733.5,92.8 L735.0,93.1 L736.5,93.5 L738.0,93.9 L739.5,94.3 L741.0,94.7 L742.5,95.1 L744.0,95.5 L745.5,95.9 L747.0,96.3 L748.5,96.7 L750.0,97.1 L751.5,97.6 L753.0,98.0 L754.5,98.4 L756.0,98.8 L757.5,99.2 L759.0,99.7 L760.5,100.1 L762.0,100.6 L763.5,101.0 L765.0,101.4 L766.5,101.9 L768.0,102.3 L769.5,102.8 L771.0,103.2 L772.5,103.7 L774.0,104.2 L775.5,104.6 L777.0,105.1 L778.5,105.6 L780.0,106.1 L781.5,106.5 L783.0,107.0 L784.5,107.5 L786.0,108.0 L787.5,108.5 L789.0,109.0 L790.5,109.5 L792.0,110.0 L793.5,110.5 L795.0,111.0 L796.5,111.5 L798.0,112.0 L799.5,112.6 L801.0,113.1 L802.5,113.6 L804.0,114.1 L805.5,114.7 L807.0,115.2 L808.5,115.8 L810.0,116.3 L811.5,116.9 L813.0,117.4 L814.5,118.0 L816.0,118.5 L817.5,119.1 L819.0,119.7 L820.5,120.2 L822.0,120.8 L823.5,121.4 L825.0,122.0 L826.5,122.6 L828.0,123.1 L829.5,123.7 L831.0,124.3 L832.5,124.9 L834.0,125.5 L835.5,126.2 L837.0,126.8 L838.5,127.4 L840.0,128.0 L841.5,128.6 L843.0,129.3 L844.5,129.9 L846.0,130.5 L847.5,131.2 L849.0,131.8 L850.5,132.4 L852.0,133.1 L853.5,133.7 L855.0,134.4 L856.5,135.1 L858.0,135.7 L859.5,136.4 L861.0,137.0 L862.5,137.7 L864.0,138.4 L865.5,139.0 L867.0,139.7 L868.5,140.4 L870.0,141.1 L871.5,141.8 L873.0,142.4 L874.5,143.1 L876.0,143.8 L877.5,144.5 L879.0,145.2 L880.5,145.9 L882.0,146.6 L883.5,147.3 L885.0,148.0 L886.5,148.7 L888.0,149.4 L889.5,150.1 L891.0,150.8 L892.5,151.5 L894.0,152.3 L895.5,153.0 L897.0,153.7 L898.5,154.4 L900.0,155.1 L901.5,155.8 L903.0,156.6 L904.5,157.3 L906.0,158.0 L907.5,158.7 L909.0,159.4 L910.5,160.2 L912.0,160.9 L913.5,161.6 L915.0,162.4 L916.5,163.1 L918.0,163.8 L919.5,164.6 L921.0,165.3 L922.5,166.0 L924.0,166.7 L925.5,167.5 L927.0,168.2 L928.5,169.0 L930.0,169.7 L931.5,170.4 L933.0,171.2 L934.5,171.9 L936.0,172.6 L937.5,173.4 L939.0,174.1 L940.5,174.9 L942.0,175.6 L943.5,176.3 L945.0,177.1 L946.5,177.8 L948.0,178.6 L949.5,179.4 L951.0,180.1 L952.5,180.9 L954.0,181.7 L955.5,182.4 L957.0,183.2 L958.5,184.0 L960.0,184.8 L961.5,185.6 L963.0,186.4 L964.5,187.2 L966.0,188.0 L967.5,188.9 L969.0,189.7 L970.5,190.5 L972.0,191.4 L973.5,192.2 L975.0,193.1 L976.5,193.9 L978.0,194.8 L979.5,195.7 L981.0,196.6 L982.5,197.5 L984.0,198.4 L985.5,199.3 L987.0,200.3 L988.5,201.2 L990.0,202.2 L991.5,203.1 L993.0,204.1 L994.5,205.1 L996.0,206.0 L997.5,207.0 L999.0,208.0 L1000.5,209.0 L1002.0,210.1 L1003.5,211.1 L1005.0,212.1 L1006.5,213.2 L1008.0,214.2 L1009.5,215.3 L1011.0,216.4 L1012.5,217.4 L1014.0,218.5 L1015.5,219.6 L1017.0,220.7 L1018.5,221.8 L1020.0,222.9 L1021.5,224.1 L1023.0,225.2 L1024.5,226.4 L1026.0,227.5 L1027.5,228.7 L1029.0,229.8 L1030.5,231.0 L1032.0,232.2 L1033.5,233.4 L1035.0,234.6 L1036.5,235.8 L1038.0,237.0 L1039.5,238.2 L1041.0,239.5 L1042.5,240.7 L1044.0,242.0 L1045.5,243.2 L1047.0,244.5 L1048.5,245.8 L1050.0,247.0 L1051.5,248.3 L1053.0,249.6 L1054.5,250.9 L1056.0,252.2 L1057.5,253.5 L1059.0,254.9 L1060.5,256.2 L1062.0,257.5 L1063.5,258.9 L1065.0,260.2 L1066.5,261.6 L1068.0,263.0 L1069.5,264.4 L1071.0,265.7 L1072.5,267.1 L1074.0,268.5 L1075.5,269.9 L1077.0,271.3 L1078.5,272.8 L1080.0,274.2 L1081.5,275.6 L1083.0,277.1 L1084.5,278.5 L1086.0,280.0 L1087.5,281.4 L1089.0,282.9 L1090.5,284.4 L1092.0,285.8 L1093.5,287.3 L1095.0,288.8 L1096.5,290.3 L1098.0,291.8 L1099.5,293.3 L1101.0,294.8 L1102.5,296.3 L1104.0,297.8 L1105.5,299.3 L1107.0,300.8 L1108.5,302.3 L1110.0,303.8 L1111.5,305.3 L1113.0,306.8 L1114.5,308.3 L1116.0,309.8 L1117.5,311.4 L1119.0,312.9 L1120.5,314.4 L1122.0,315.9 L1123.5,317.4 L1125.0,318.9 L1126.5,320.4 L1128.0,321.9 L1129.5,323.4 L1131.0,324.9 L1132.5,326.4 L1134.0,327.9 L1135.5,329.3 L1137.0,330.8 L1138.5,332.3 L1140.0,333.8 L1141.5,335.2 L1143.0,336.7 L1144.5,338.1 L1146.0,339.6 L1147.5,341.0 L1149.0,342.4 L1150.5,343.9 L1152.0,345.3 L1153.5,346.7 L1155.0,348.1 L1156.5,349.5 L1158.0,350.8 L1159.5,352.2 L1161.0,353.6 L1162.5,354.9 L1164.0,356.3 L1165.5,357.6 L1167.0,358.9 L1168.5,360.2 L1170.0,361.5 L1171.5,362.8 L1173.0,364.0 L1174.5,365.3 L1176.0,366.5 L1177.5,367.7 L1179.0,368.9 L1180.5,370.1 L1182.0,371.3 L1183.5,372.5 L1185.0,373.6 L1186.5,374.7 L1188.0,375.8 L1189.5,376.9 L1191.0,378.0 L1192.5,379.0 L1194.0,380.1 L1195.5,381.1 L1197.0,382.1 L1198.5,383.1 L1200.0,384.0 L1201.5,384.9 L1203.0,385.9 L1204.5,386.8 L1206.0,387.6 L1207.5,388.5 L1209.0,389.3 L1210.5,390.1 L1212.0,390.9 L1213.5,391.6 L1215.0,392.4 L1216.5,393.1 L1218.0,393.7 L1219.5,394.4 L1221.0,395.0 L1222.5,395.6 L1224.0,396.2 L1225.5,396.8 L1227.0,397.3 L1228.5,397.8 L1230.0,398.2 L1231.5,398.7 L1233.0,399.1 L1234.5,399.5 L1236.0,399.8 L1237.5,400.2 L1239.0,400.5 L1240.5,400.8 L1242.0,401.0 L1243.5,401.2 L1245.0,401.4 L1246.5,401.6 L1248.0,401.8 L1249.5,401.9 L1251.0,402.0 L1252.5,402.1 L1254.0,402.1 L1255.5,402.1 L1257.0,402.1 L1258.5,402.1 L1260.0,402.1 L1261.5,402.0 L1263.0,401.9 L1264.5,401.8 L1266.0,401.7 L1267.5,401.5 L1269.0,401.3 L1270.5,401.1 L1272.0,400.9 L1273.5,400.6 L1275.0,400.4 L1276.5,400.1 L1278.0,399.7 L1279.5,399.4 L1281.0,399.0 L1282.5,398.7 L1284.0,398.3 L1285.5,397.9 L1287.0,397.4 L1288.5,397.0 L1290.0,396.5 L1291.5,396.0 L1293.0,395.5 L1294.5,394.9 L1296.0,394.4 L1297.5,393.8 L1299.0,393.2 L1300.5,392.6 L1302.0,392.0 L1303.5,391.3 L1305.0,390.7 L1306.5,390.0 L1308.0,389.3 L1309.5,388.6 L1311.0,387.9 L1312.5,387.2 L1314.0,386.4 L1315.5,385.6 L1317.0,384.9 L1318.5,384.1 L1320.0,383.3 L1321.5,382.4 L1323.0,381.6 L1324.5,380.8 L1326.0,379.9 L1327.5,379.0 L1329.0,378.2 L1330.5,377.3 L1332.0,376.4 L1333.5,375.4 L1335.0,374.5 L1336.5,373.6 L1338.0,372.6 L1339.5,371.7 L1341.0,370.7 L1342.5,369.7 L1344.0,368.7 L1345.5,367.7 L1347.0,366.7 L1348.5,365.7 L1350.0,364.7 L1351.5,363.7 L1353.0,362.6 L1354.5,361.6 L1356.0,360.5 L1357.5,359.5 L1359.0,358.4 L1360.5,357.3 L1362.0,356.3 L1363.5,355.2 L1365.0,354.1 L1366.5,353.0 L1368.0,351.9 L1369.5,350.8 L1371.0,349.7 L1372.5,348.6 L1374.0,347.5 L1375.5,346.4 L1377.0,345.2 L1378.5,344.1 L1380.0,343.0 L1381.5,341.9 L1383.0,340.7 L1384.5,339.6 L1386.0,338.5 L1387.5,337.3 L1389.0,336.2 L1390.5,335.1 L1392.0,333.9 L1393.5,332.8 L1395.0,331.7 L1396.5,330.5 L1398.0,329.4 L1399.5,328.3 L1401.0,327.1 L1402.5,326.0 L1404.0,324.9 L1405.5,323.8 L1407.0,322.6 L1408.5,321.5 L1410.0,320.4 L1411.5,319.3 L1413.0,318.2 L1414.5,317.1 L1416.0,316.0 L1417.5,314.9 L1419.0,313.8 L1420.5,312.7 L1422.0,311.6 L1423.5,310.5 L1425.0,309.4 L1426.5,308.3 L1428.0,307.3 L1429.5,306.2 L1431.0,305.1 L1432.5,304.1 L1434.0,303.0 L1435.5,302.0 L1437.0,301.0 L1438.5,299.9 L1440.0,298.9 L1441.5,297.9 L1443.0,296.8 L1444.5,295.8 L1446.0,294.8 L1447.5,293.8 L1449.0,292.8 L1450.5,291.8 L1452.0,290.8 L1453.5,289.8 L1455.0,288.8 L1456.5,287.8 L1458.0,286.9 L1459.5,285.9 L1461.0,284.9 L1462.5,284.0 L1464.0,283.0 L1465.5,282.0 L1467.0,281.1 L1468.5,280.1 L1470.0,279.2 L1471.5,278.3 L1473.0,277.3 L1474.5,276.4 L1476.0,275.5 L1477.5,274.5 L1479.0,273.6 L1480.5,272.7 L1482.0,271.8 L1483.5,270.9 L1485.0,270.0 L1486.5,269.1 L1488.0,268.2 L1489.5,267.3 L1491.0,266.4 L1492.5,265.6 L1494.0,264.7 L1495.5,263.8 L1497.0,262.9 L1498.5,262.1 L1500.0,261.2 L1501.5,260.4 L1503.0,259.5 L1504.5,258.7 L1506.0,257.8 L1507.5,257.0 L1509.0,256.2 L1510.5,255.3 L1512.0,254.5 L1513.5,253.7 L1515.0,252.9 L1516.5,252.0 L1518.0,251.2 L1519.5,250.4 L1521.0,249.6 L1522.5,248.8 L1524.0,248.0 L1525.5,247.2 L1527.0,246.4 L1528.5,245.7 L1530.0,244.9 L1531.5,244.1 L1533.0,243.3 L1534.5,242.6 L1536.0,241.8 L1537.5,241.0 L1539.0,240.3 L1540.5,239.5 L1542.0,238.8 L1543.5,238.0 L1545.0,237.3 L1546.5,236.5 L1548.0,235.8 L1549.5,235.1 L1551.0,234.3 L1552.5,233.6 L1554.0,232.9 L1555.5,232.2 L1557.0,231.5 L1558.5,230.7 L1560.0,230.0 L1561.5,229.3 L1563.0,228.6 L1564.5,227.9 L1566.0,227.2 L1567.5,226.5 L1569.0,225.9 L1570.5,225.2 L1572.0,224.5 L1573.5,223.8 L1575.0,223.2 L1576.5,222.5 L1578.0,221.8 L1579.5,221.2 L1581.0,220.5 L1582.5,219.8 L1584.0,219.2 L1585.5,218.5 L1587.0,217.9 L1588.5,217.2 L1590.0,216.6 L1591.5,216.0 L1593.0,215.3 L1594.5,214.7 L1596.0,214.1 L1597.5,213.5 L1599.0,212.8 L1600.5,212.2 L1602.0,211.6 L1603.5,211.0 L1605.0,210.4 L1606.5,209.8 L1608.0,209.2 L1609.5,208.6 L1611.0,208.0 L1612.5,207.4 L1614.0,206.8 L1615.5,206.2 L1617.0,205.6 L1618.5,205.1 L1620.0,204.5 L1621.5,203.9 L1623.0,203.3 L1624.5,202.8 L1626.0,202.2 L1627.5,201.6 L1629.0,201.1 L1630.5,200.5 L1632.0,200.0 L1633.5,199.4 L1635.0,198.9 L1636.5,198.3 L1638.0,197.8 L1639.5,197.2 L1641.0,196.7 L1642.5,196.2 L1644.0,195.6 L1645.5,195.1 L1647.0,194.6 L1648.5,194.1 L1650.0,193.5 L1651.5,193.0 L1653.0,192.5 L1654.5,192.0 L1656.0,191.5 L1657.5,191.0 L1659.0,190.5 L1660.5,190.0 L1662.0,189.5 L1663.5,189.0 L1665.0,188.5 L1666.5,188.0 L1668.0,187.5 L1669.5,187.0 L1671.0,186.6 L1672.5,186.1 L1674.0,185.6 L1675.5,185.1 L1677.0,184.7 L1678.5,184.2 L1680.0,183.7 L1681.5,183.2 L1683.0,182.8 L1684.5,182.3 L1686.0,181.9 L1687.5,181.4 L1689.0,181.0 L1690.5,180.5 L1692.0,180.1 L1693.5,179.6 L1695.0,179.2 L1696.5,178.7 L1698.0,178.3 L1699.5,177.9 L1701.0,177.4 L1702.5,177.0 L1704.0,176.6 L1705.5,176.1 L1707.0,175.7 L1708.5,175.3 L1710.0,174.9 L1711.5,174.4 L1713.0,174.0 L1714.5,173.6 L1716.0,173.2 L1717.5,172.8 L1719.0,172.4 L1720.5,172.0 L1722.0,171.6 L1723.5,171.2 L1725.0,170.8 L1726.5,170.4 L1728.0,170.0 L1729.5,169.6 L1731.0,169.2 L1732.5,168.8 L1734.0,168.4 L1735.5,168.0 L1737.0,167.7 L1738.5,167.3 L1740.0,166.9 L1741.5,166.5 L1743.0,166.2 L1744.5,165.8 L1746.0,165.4 L1747.5,165.0 L1749.0,164.7 L1750.5,164.3 L1752.0,163.9 L1753.5,163.6 L1755.0,163.2 L1756.5,162.9 L1758.0,162.5 L1759.5,162.2 L1761.0,161.8 L1762.5,161.4 L1764.0,161.1 L1765.5,160.8 L1767.0,160.4 L1768.5,160.1 L1770.0,159.7 L1771.5,159.4 L1773.0,159.0 L1774.5,158.7 L1776.0,158.4 L1777.5,158.0 L1779.0,157.7 L1780.5,157.4 L1782.0,157.0 L1783.5,156.7 L1785.0,156.4 L1786.5,156.1 L1788.0,155.7 L1789.5,155.4 L1791.0,155.1 L1792.5,154.8 L1794.0,154.5 L1795.5,154.1 L1797.0,153.8 L1798.5,153.5 L1800.0,153.2 L1801.5,152.9 L1803.0,152.6 L1804.5,152.3 L1806.0,152.0 L1807.5,151.7 L1809.0,151.4 L1810.5,151.1 L1812.0,150.8 L1813.5,150.5 L1815.0,150.2 L1816.5,149.9 L1818.0,149.6 L1819.5,149.3 L1821.0,149.0 L1822.5,148.7 L1824.0,148.4 L1825.5,148.1 L1827.0,147.8 L1828.5,147.5 L1830.0,147.3"/>
<path stroke="#00f" d="M196.0,33.9 C202.2,34.1 208.6,34.0 214.6,34.6 C220.3,35.2 225.3,36.1 231.0,37.3 C237.5,38.7 245.3,40.7 251.6,42.8 C257.1,44.7 262.8,48.7 266.7,49.0 C269.2,49.2 270.8,47.1 272.8,47.4 C274.9,47.8 276.7,50.9 279.0,51.7 C281.3,52.5 283.7,52.0 286.5,52.5 C290.3,53.2 294.7,54.3 299.5,55.8 C305.6,57.7 313.2,60.8 320.0,63.3 L330.0,65.2 L331.5,65.3 L333.0,65.3 L334.5,65.3 L336.0,65.3 L337.5,65.2 L339.0,65.1 L340.5,64.9 L342.0,64.7 L343.5,64.5 L345.0,64.2 L346.5,63.9 L348.0,63.6 L349.5,63.2 L351.0,62.8 L352.5,62.4 L354.0,62.0 L355.5,61.6 L357.0,61.1 L358.5,60.7 L360.0,60.2 L361.5,59.7 L363.0,59.2 L364.5,58.7 L366.0,58.2 L367.5,57.8 L369.0,57.3 L370.5,56.8 L372.0,56.3 L373.5,55.9 L375.0,55.4 L376.5,55.0 L378.0,54.6 L379.5,54.2 L381.0,53.8 L382.5,53.5 L384.0,53.2 L385.5,52.9 L387.0,52.6 L388.5,52.4 L390.0,52.2 L391.5,52.1 L393.0,52.0 L394.5,51.9 L396.0,51.8 L397.5,51.8 L399.0,51.8 L400.5,51.8 L402.0,51.8 L403.5,51.9 L405.0,51.9 L406.5,52.0 L408.0,52.1 L409.5,52.2 L411.0,52.3 L412.5,52.5 L414.0,52.6 L415.5,52.7 L417.0,52.8 L418.5,53.0 L420.0,53.1 L421.5,53.2 L423.0,53.4 L424.5,53.5 L426.0,53.6 L427.5,53.8 L429.0,53.9 L430.5,54.1 L432.0,54.2 L433.5,54.3 L435.0,54.5 L436.5,54.6 L438.0,54.8 L439.5,54.9 L441.0,55.0 L442.5,55.2 L444.0,55.3 L445.5,55.5 L447.0,55.6 L448.5,55.8 L450.0,55.9 L451.5,56.0 L453.0,56.2 L454.5,56.3 L456.0,56.5 L457.5,56.6 L459.0,56.8 L460.5,56.9 L462.0,57.1 L463.5,57.2 L465.0,57.4 L466.5,57.5 L468.0,57.7 L469.5,57.8 L471.0,58.0 L472.5,58.1 L474.0,58.3 L475.5,58.4 L477.0,58.5 L478.5,58.7 L480.0,58.8 L481.5,59.0 L483.0,59.1 L484.5,59.3 L486.0,59.5 L487.5,59.6 L489.0,59.8 L490.5,59.9 L492.0,60.1 L493.5,60.2 L495.0,60.4 L496.5,60.5 L498.0,60.7 L499.5,60.8 L501.0,61.0 L502.5,61.1 L504.0,61.3 L505.5,61.4 L507.0,61.6 L508.5,61.7 L510.0,61.9 L511.5,62.0 L513.0,62.2 L514.5,62.3 L516.0,62.5 L517.5,62.6 L519.0,62.8 L520.5,62.9 L522.0,63.1 L523.5,63.2 L525.0,63.4 L526.5,63.5 L528.0,63.7 L529.5,63.8 L531.0,64.0 L532.5,64.1 L534.0,64.2 L535.5,64.4 L537.0,64.5 L538.5,64.7 L540.0,64.8 L541.5,65.0 L543.0,65.1 L544.5,65.3 L546.0,65.4 L547.5,65.6 L549.0,65.7 L550.5,65.8 L552.0,66.0 L553.5,66.1 L555.0,66.3 L556.5,66.4 L558.0,66.6 L559.5,66.7 L561.0,66.9 L562.5,67.0 L564.0,67.1 L565.5,67.3 L567.0,67.4 L568.5,67.6 L570.0,67.7 L571.5,67.9 L573.0,68.0 L574.5,68.2 L576.0,68.3 L577.5,68.5 L579.0,68.6 L580.5,68.8 L582.0,68.9 L583.5,69.1 L585.0,69.2 L586.5,69.4 L588.0,69.6 L589.5,69.7 L591.0,69.9 L592.5,70.0 L594.0,70.2 L595.5,70.4 L597.0,70.5 L598.5,70.7 L600.0,70.9 L601.5,71.0 L603.0,71.2 L604.5,71.4 L606.0,71.5 L607.5,71.7 L609.0,71.9 L610.5,72.1 L612.0,72.2 L613.5,72.4 L615.0,72.6 L616.5,72.8 L618.0,73.0 L619.5,73.2 L621.0,73.4 L622.5,73.6 L624.0,73.8 L625.5,74.0 L627.0,74.2 L628.5,74.4 L630.0,74.6 L631.5,74.8 L633.0,75.0 L634.5,75.2 L636.0,75.4 L637.5,75.6 L639.0,75.8 L640.5,76.1 L642.0,76.3 L643.5,76.5 L645.0,76.7 L646.5,77.0 L648.0,77.2 L649.5,77.4 L651.0,77.7 L652.5,77.9 L654.0,78.2 L655.5,78.4 L657.0,78.7 L658.5,78.9 L660.0,79.2 L661.5,79.4 L663.0,79.7 L664.5,79.9 L666.0,80.2 L667.5,80.5 L669.0,80.7 L670.5,81.0 L672.0,81.3 L673.5,81.6 L675.0,81.9 L676.5,82.1 L678.0,82.4 L679.5,82.7 L681.0,83.0 L682.5,83.3 L684.0,83.6 L685.5,83.9 L687.0,84.2 L688.5,84.5 L690.0,84.8 L691.5,85.1 L693.0,85.5 L694.5,85.8 L696.0,86.1 L697.5,86.4 L699.0,86.8 L700.5,87.1 L702.0,87.4 L703.5,87.8 L705.0,88.1 L706.5,88.5 L708.0,88.8 L709.5,89.2 L711.0,89.5 L712.5,89.9 L714.0,90.2 L715.5,90.6 L717.0,91.0 L718.5,91.3 L720.0,91.7 L721.5,92.1 L723.0,92.5 L724.5,92.9 L726.0,93.3 L727.5,93.6 L729.0,94.0 L730.5,94.4 L732.0,94.8 L733.5,95.3 L735.0,95.7 L736.5,96.1 L738.0,96.5 L739.5,96.9 L741.0,97.3 L742.5,97.8 L744.0,98.2 L745.5,98.6 L747.0,99.1 L748.5,99.5 L750.0,100.0 L751.5,100.4 L753.0,100.9 L754.5,101.3 L756.0,101.8 L757.5,102.3 L759.0,102.7 L760.5,103.2 L762.0,103.7 L763.5,104.2 L765.0,104.7 L766.5,105.2 L768.0,105.6 L769.5,106.1 L771.0,106.7 L772.5,107.2 L774.0,107.7 L775.5,108.2 L777.0,108.7 L778.5,109.2 L780.0,109.8 L781.5,110.3 L783.0,110.8 L784.5,111.4 L786.0,111.9 L787.5,112.5 L789.0,113.0 L790.5,113.6 L792.0,114.1 L793.5,114.7 L795.0,115.3 L796.5,115.8 L798.0,116.4 L799.5,117.0 L801.0,117.6 L802.5,118.2 L804.0,118.8 L805.5,119.4 L807.0,120.0 L808.5,120.6 L810.0,121.2 L811.5,121.9 L813.0,122.5 L814.5,123.1 L816.0,123.7 L817.5,124.4 L819.0,125.0 L820.5,125.7 L822.0,126.3 L823.5,127.0 L825.0,127.6 L826.5,128.3 L828.0,129.0 L829.5,129.7 L831.0,130.4 L832.5,131.0 L834.0,131.7 L835.5,132.4 L837.0,133.1 L838.5,133.8 L840.0,134.5 L841.5,135.3 L843.0,136.0 L844.5,136.7 L846.0,137.4 L847.5,138.2 L849.0,138.9 L850.5,139.6 L852.0,140.4 L853.5,141.1 L855.0,141.9 L856.5,142.6 L858.0,143.4 L859.5,144.1 L861.0,144.9 L862.5,145.7 L864.0,146.4 L865.5,147.2 L867.0,148.0 L868.5,148.8 L870.0,149.5 L871.5,150.3 L873.0,151.1 L874.5,151.9 L876.0,152.7 L877.5,153.5 L879.0,154.3 L880.5,155.1 L882.0,155.9 L883.5,156.7 L885.0,157.5 L886.5,158.3 L888.0,159.1 L889.5,159.9 L891.0,160.7 L892.5,161.5 L894.0,162.3 L895.5,163.2 L897.0,164.0 L898.5,164.8 L900.0,165.6 L901.5,166.4 L903.0,167.2 L904.5,168.1 L906.0,168.9 L907.5,169.7 L909.0,170.5 L910.5,171.3 L912.0,172.2 L913.5,173.0 L915.0,173.8 L916.5,174.6 L918.0,175.5 L919.5,176.3 L921.0,177.1 L922.5,177.9 L924.0,178.8 L925.5,179.6 L927.0,180.4 L928.5,181.2 L930.0,182.0 L931.5,182.9 L933.0,183.7 L934.5,184.5 L936.0,185.3 L937.5,186.2 L939.0,187.0 L940.5,187.8 L942.0,188.6 L943.5,189.5 L945.0,190.3 L946.5,191.1 L948.0,192.0 L949.5,192.8 L951.0,193.7 L952.5,194.6 L954.0,195.4 L955.5,196.3 L957.0,197.2 L958.5,198.1 L960.0,199.0 L961.5,199.9 L963.0,200.8 L964.5,201.7 L966.0,202.6 L967.5,203.6 L969.0,204.5 L970.5,205.5 L972.0,206.4 L973.5,207.4 L975.0,208.4 L976.5,209.4 L978.0,210.5 L979.5,211.5 L981.0,212.6 L982.5,213.6 L984.0,214.7 L985.5,215.8 L987.0,216.9 L988.5,218.0 L990.0,219.1 L991.5,220.3 L993.0,221.4 L994.5,222.6 L996.0,223.8 L997.5,225.0 L999.0,226.2 L1000.5,227.4 L1002.0,228.6 L1003.5,229.8 L1005.0,231.1 L1006.5,232.3 L1008.0,233.6 L1009.5,234.8 L1011.0,236.1 L1012.5,237.4 L1014.0,238.7 L1015.5,240.0 L1017.0,241.3 L1018.5,242.6 L1020.0,243.9 L1021.5,245.3 L1023.0,246.6 L1024.5,247.9 L1026.0,249.3 L1027.5,250.6 L1029.0,252.0 L1030.5,253.4 L1032.0,254.7 L1033.5,256.1 L1035.0,257.5 L1036.5,258.9 L1038.0,260.2 L1039.5,261.6 L1041.0,263.0 L1042.5,264.4 L1044.0,265.8 L1045.5,267.2 L1047.0,268.6 L1048.5,270.0 L1050.0,271.4 L1051.5,272.8 L1053.0,274.2 L1054.5,275.6 L1056.0,277.0 L1057.5,278.4 L1059.0,279.9 L1060.5,281.3 L1062.0,282.7 L1063.5,284.1 L1065.0,285.5 L1066.5,286.9 L1068.0,288.3 L1069.5,289.7 L1071.0,291.1 L1072.5,292.5 L1074.0,293.9 L1075.5,295.2 L1077.0,296.6 L1078.5,298.0 L1080.0,299.4 L1081.5,300.8 L1083.0,302.1 L1084.5,303.5 L1086.0,304.9 L1087.5,306.2 L1089.0,307.6 L1090.5,308.9 L1092.0,310.2 L1093.5,311.6 L1095.0,312.9 L1096.5,314.2 L1098.0,315.5 L1099.5,316.9 L1101.0,318.2 L1102.5,319.5 L1104.0,320.8 L1105.5,322.1 L1107.0,323.3 L1108.5,324.6 L1110.0,325.9 L1111.5,327.2 L1113.0,328.4 L1114.5,329.7 L1116.0,331.0 L1117.5,332.2 L1119.0,333.5 L1120.5,334.7 L1122.0,335.9 L1123.5,337.2 L1125.0,338.4 L1126.5,339.6 L1128.0,340.9 L1129.5,342.1 L1131.0,343.3 L1132.5,344.5 L1134.0,345.7 L1135.5,346.9 L1137.0,348.1 L1138.5,349.3 L1140.0,350.4 L1141.5,351.6 L1143.0,352.8 L1144.5,354.0 L1146.0,355.1 L1147.5,356.3 L1149.0,357.4 L1150.5,358.6 L1152.0,359.7 L1153.5,360.8 L1155.0,361.9 L1156.5,363.0 L1158.0,364.1 L1159.5,365.2 L1161.0,366.2 L1162.5,367.3 L1164.0,368.3 L1165.5,369.3 L1167.0,370.4 L1168.5,371.3 L1170.0,372.3 L1171.5,373.3 L1173.0,374.2 L1174.5,375.1 L1176.0,376.0 L1177.5,376.9 L1179.0,377.7 L1180.5,378.6 L1182.0,379.4 L1183.5,380.2 L1185.0,381.0 L1186.5,381.7 L1188.0,382.4 L1189.5,383.1 L1191.0,383.8 L1192.5,384.4 L1194.0,385.1 L1195.5,385.6 L1197.0,386.2 L1198.5,386.7 L1200.0,387.2 L1201.5,387.7 L1203.0,388.2 L1204.5,388.6 L1206.0,389.0 L1207.5,389.3 L1209.0,389.6 L1210.5,389.9 L1212.0,390.1 L1213.5,390.4 L1215.0,390.5 L1216.5,390.7 L1218.0,390.8 L1219.5,390.8 L1221.0,390.9 L1222.5,390.9 L1224.0,390.8 L1225.5,390.8 L1227.0,390.7 L1228.5,390.5 L1230.0,390.4 L1231.5,390.2 L1233.0,390.0 L1234.5,389.8 L1236.0,389.5 L1237.5,389.2 L1239.0,388.9 L1240.5,388.6 L1242.0,388.2 L1243.5,387.9 L1245.0,387.5 L1246.5,387.1 L1248.0,386.7 L1249.5,386.3 L1251.0,385.9 L1252.5,385.4 L1254.0,385.0 L1255.5,384.5 L1257.0,384.0 L1258.5,383.5 L1260.0,383.0 L1261.5,382.5 L1263.0,382.0 L1264.5,381.5 L1266.0,380.9 L1267.5,380.4 L1269.0,379.8 L1270.5,379.2 L1272.0,378.6 L1273.5,378.0 L1275.0,377.4 L1276.5,376.8 L1278.0,376.2 L1279.5,375.5 L1281.0,374.9 L1282.5,374.2 L1284.0,373.5 L1285.5,372.8 L1287.0,372.1 L1288.5,371.4 L1290.0,370.7 L1291.5,370.0 L1293.0,369.3 L1294.5,368.5 L1296.0,367.8 L1297.5,367.0 L1299.0,366.2 L1300.5,365.4 L1302.0,364.6 L1303.5,363.8 L1305.0,363.0 L1306.5,362.2 L1308.0,361.3 L1309.5,360.5 L1311.0,359.6 L1312.5,358.8 L1314.0,357.9 L1315.5,357.0 L1317.0,356.1 L1318.5,355.2 L1320.0,354.3 L1321.5,353.4 L1323.0,352.5 L1324.5,351.5 L1326.0,350.6 L1327.5,349.6 L1329.0,348.7 L1330.5,347.7 L1332.0,346.7 L1333.5,345.7 L1335.0,344.7 L1336.5,343.7 L1338.0,342.7 L1339.5,341.7 L1341.0,340.6 L1342.5,339.6 L1344.0,338.6 L1345.5,337.5 L1347.0,336.4 L1348.5,335.4 L1350.0,334.3 L1351.5,333.2 L1353.0,332.1 L1354.5,331.0 L1356.0,329.9 L1357.5,328.8 L1359.0,327.6 L1360.5,326.5 L1362.0,325.4 L1363.5,324.2 L1365.0,323.1 L1366.5,321.9 L1368.0,320.8 L1369.5,319.6 L1371.0,318.4 L1372.5,317.3 L1374.0,316.1 L1375.5,314.9 L1377.0,313.8 L1378.5,312.6 L1380.0,311.4 L1381.5,310.2 L1383.0,309.0 L1384.5,307.9 L1386.0,306.7 L1387.5,305.5 L1389.0,304.3 L1390.5,303.1 L1392.0,302.0 L1393.5,300.8 L1395.0,299.6 L1396.5,298.4 L1398.0,297.2 L1399.5,296.1 L1401.0,294.9 L1402.5,293.7 L1404.0,292.6 L1405.5,291.4 L1407.0,290.3 L1408.5,289.1 L1410.0,288.0 L1411.5,286.8 L1413.0,285.7 L1414.5,284.6 L1416.0,283.5 L1417.5,282.4 L1419.0,281.2 L1420.5,280.1 L1422.0,279.1 L1423.5,278.0 L1425.0,276.9 L1426.5,275.8 L1428.0,274.8 L1429.5,273.7 L1431.0,272.7 L1432.5,271.6 L1434.0,270.6 L1435.5,269.6 L1437.0,268.5 L1438.5,267.5 L1440.0,266.5 L1441.5,265.5 L1443.0,264.5 L1444.5,263.5 L1446.0,262.6 L1447.5,261.6 L1449.0,260.6 L1450.5,259.7 L1452.0,258.7 L1453.5,257.8 L1455.0,256.8 L1456.5,255.9 L1458.0,255.0 L1459.5,254.0 L1461.0,253.1 L1462.5,252.2 L1464.0,251.3 L1465.5,250.4 L1467.0,249.5 L1468.5,248.6 L1470.0,247.8 L1471.5,246.9 L1473.0,246.0 L1474.5,245.2 L1476.0,244.3 L1477.5,243.5 L1479.0,242.6 L1480.5,241.8 L1482.0,241.0 L1483.5,240.1 L1485.0,239.3 L1486.5,238.5 L1488.0,237.7 L1489.5,236.9 L1491.0,236.1 L1492.5,235.3 L1494.0,234.5 L1495.5,233.7 L1497.0,233.0 L1498.5,232.2 L1500.0,231.4 L1501.5,230.7 L1503.0,229.9 L1504.5,229.2 L1506.0,228.4 L1507.5,227.7 L1509.0,227.0 L1510.5,226.2 L1512.0,225.5 L1513.5,224.8 L1515.0,224.1 L1516.5,223.4 L1518.0,222.7 L1519.5,222.0 L1521.0,221.3 L1522.5,220.6 L1524.0,219.9 L1525.5,219.2 L1527.0,218.5 L1528.5,217.9 L1530.0,217.2 L1531.5,216.5 L1533.0,215.9 L1534.5,215.2 L1536.0,214.6 L1537.5,213.9 L1539.0,213.3 L1540.5,212.7 L1542.0,212.0 L1543.5,211.4 L1545.0,210.8 L1546.5,210.1 L1548.0,209.5 L1549.5,208.9 L1551.0,208.3 L1552.5,207.7 L1554.0,207.1 L1555.5,206.5 L1557.0,205.9 L1558.5,205.3 L1560.0,204.7 L1561.5,204.1 L1563.0,203.6 L1564.5,203.0 L1566.0,202.4 L1567.5,201.8 L1569.0,201.3 L1570.5,200.7 L1572.0,200.2 L1573.5,199.6 L1575.0,199.0 L1576.5,198.5 L1578.0,197.9 L1579.5,197.4 L1581.0,196.9 L1582.5,196.3 L1584.0,195.8 L1585.5,195.3 L1587.0,194.7 L1588.5,194.2 L1590.0,193.7 L1591.5,193.2 L1593.0,192.6 L1594.5,192.1 L1596.0,191.6 L1597.5,191.1 L1599.0,190.6 L1600.5,190.1 L1602.0,189.6 L1603.5,189.1 L1605.0,188.6 L1606.5,188.1 L1608.0,187.6 L1609.5,187.1 L1611.0,186.6 L1612.5,186.1 L1614.0,185.6 L1615.5,185.2 L1617.0,184.7 L1618.5,184.2 L1620.0,183.7 L1621.5,183.3 L1623.0,182.8 L1624.5,182.3 L1626.0,181.8 L1627.5,181.4 L1629.0,180.9 L1630.5,180.4 L1632.0,180.0 L1633.5,179.5 L1635.0,179.1 L1636.5,178.6 L1638.0,178.2 L1639.5,177.7 L1641.0,177.2 L1642.5,176.8 L1644.0,176.3 L1645.5,175.9 L1647.0,175.4 L1648.5,175.0 L1650.0,174.6 L1651.5,174.1 L1653.0,173.7 L1654.5,173.2 L1656.0,172.8 L1657.5,172.3 L1659.0,171.9 L1660.5,171.5 L1662.0,171.0 L1663.5,170.6 L1665.0,170.2 L1666.5,169.7 L1668.0,169.3 L1669.5,168.9 L1671.0,168.4 L1672.5,168.0 L1674.0,167.6 L1675.5,167.2 L1677.0,166.8 L1678.5,166.3 L1680.0,165.9 L1681.5,165.5 L1683.0,165.1 L1684.5,164.7 L1686.0,164.3 L1687.5,163.8 L1689.0,163.4 L1690.5,163.0 L1692.0,162.6 L1693.5,162.2 L1695.0,161.8 L1696.5,161.4 L1698.0,161.0 L1699.5,160.6 L1701.0,160.2 L1702.5,159.9 L1704.0,159.5 L1705.5,159.1 L1707.0,158.7 L1708.5,158.3 L1710.0,157.9 L1711.5,157.6 L1713.0,157.2 L1714.5,156.8 L1716.0,156.4 L1717.5,156.1 L1719.0,155.7 L1720.5,155.3 L1722.0,155.0 L1723.5,154.6 L1725.0,154.3 L1726.5,153.9 L1728.0,153.5 L1729.5,153.2 L1731.0,152.9 L1732.5,152.5 L1734.0,152.2 L1735.5,151.8 L1737.0,151.5 L1738.5,151.2 L1740.0,150.8 L1741.5,150.5 L1743.0,150.2 L1744.5,149.8 L1746.0,149.5 L1747.5,149.2 L1749.0,148.9 L1750.5,148.6 L1752.0,148.3 L1753.5,148.0 L1755.0,147.7 L1756.5,147.4 L1758.0,147.1 L1759.5,146.8 L1761.0,146.5 L1762.5,146.2 L1764.0,145.9 L1765.5,145.6 L1767.0,145.4 L1768.5,145.1 L1770.0,144.8 L1771.5,144.6 L1773.0,144.3 L1774.5,144.0 L1776.0,143.8 L1777.5,143.5 L1779.0,143.3 L1780.5,143.0 L1782.0,142.8 L1783.5,142.5 L1785.0,142.3 L1786.5,142.1 L1788.0,141.8 L1789.5,141.6 L1791.0,141.4 L1792.5,141.2 L1794.0,141.0 L1795.5,140.7 L1797.0,140.5 L1798.5,140.3 L1800.0,140.1 L1801.5,139.9 L1803.0,139.7 L1804.5,139.6 L1806.0,139.4 L1807.5,139.2 L1809.0,139.0 L1810.5,138.8 L1812.0,138.7 L1813.5,138.5 L1815.0,138.4 L1816.5,138.2 L1818.0,138.0 L1819.5,137.9 L1821.0,137.8 L1822.5,137.6 L1824.0,137.5 L1825.5,137.4 L1827.0,137.2 L1828.5,137.1 L1830.0,137.0"/>
<path stroke="#00f" d="M196.0,33.9 C202.2,34.1 208.6,34.0 214.6,34.6 C220.3,35.2 225.3,36.1 231.0,37.3 C237.5,38.7 245.3,40.7 251.6,42.8 C257.1,44.7 262.8,48.7 266.7,49.0 C269.2,49.2 270.8,47.1 272.8,47.4 C274.9,47.8 276.7,50.9 279.0,51.7 C281.3,52.5 283.7,52.0 286.5,52.5 C290.3,53.2 294.7,54.3 299.5,55.8 C305.6,57.7 313.2,60.8 320.0,63.3 L330.0,65.1 L331.5,65.2 L333.0,65.2 L334.5,65.2 L336.0,65.2 L337.5,65.2 L339.0,65.1 L340.5,64.9 L342.0,64.8 L343.5,64.6 L345.0,64.3 L346.5,64.0 L348.0,63.7 L349.5,63.4 L351.0,63.0 L352.5,62.5 L354.0,62.1 L355.5,61.6 L357.0,61.1 L358.5,60.6 L360.0,60.1 L361.5,59.6 L363.0,59.1 L364.5,58.6 L366.0,58.0 L367.5,57.5 L369.0,57.0 L370.5,56.5 L372.0,56.1 L373.5,55.6 L375.0,55.2 L376.5,54.8 L378.0,54.4 L379.5,54.0 L381.0,53.7 L382.5,53.4 L384.0,53.1 L385.5,52.9 L387.0,52.6 L388.5,52.4 L390.0,52.3 L391.5,52.2 L393.0,52.1 L394.5,52.0 L396.0,52.0 L397.5,52.0 L399.0,52.0 L400.5,52.0 L402.0,52.0 L403.5,52.1 L405.0,52.2 L406.5,52.3 L408.0,52.4 L409.5,52.5 L411.0,52.6 L412.5,52.7 L414.0,52.9 L415.5,53.0 L417.0,53.1 L418.5,53.2 L420.0,53.4 L421.5,53.5 L423.0,53.6 L424.5,53.7 L426.0,53.8 L427.5,54.0 L429.0,54.1 L430.5,54.2 L432.0,54.3 L433.5,54.4 L435.0,54.5 L436.5,54.7 L438.0,54.8 L439.5,54.9 L441.0,55.0 L442.5,55.1 L444.0,55.3 L445.5,55.4 L447.0,55.5 L448.5,55.6 L450.0,55.8 L451.5,55.9 L453.0,56.0 L454.5,56.2 L456.0,56.3 L457.5,56.4 L459.0,56.6 L460.5,56.7 L462.0,56.8 L463.5,57.0 L465.0,57.1 L466.5,57.3 L468.0,57.4 L469.5,57.6 L471.0,57.7 L472.5,57.9 L474.0,58.0 L475.5,58.2 L477.0,58.3 L478.5,58.5 L480.0,58.6 L481.5,58.8 L483.0,58.9 L484.5,59.1 L486.0,59.2 L487.5,59.4 L489.0,59.6 L490.5,59.7 L492.0,59.9 L493.5,60.0 L495.0,60.2 L496.5,60.4 L498.0,60.5 L499.5,60.7 L501.0,60.8 L502.5,61.0 L504.0,61.1 L505.5,61.3 L507.0,61.5 L508.5,61.6 L510.0,61.8 L511.5,61.9 L513.0,62.1 L514.5,62.3 L516.0,62.4 L517.5,62.6 L519.0,62.7 L520.5,62.9 L522.0,63.0 L523.5,63.2 L525.0,63.4 L526.5,63.5 L528.0,63.7 L529.5,63.8 L531.0,64.0 L532.5,64.2 L534.0,64.3 L535.5,64.5 L537.0,64.6 L538.5,64.8 L540.0,65.0 L541.5,65.1 L543.0,65.3 L544.5,65.5 L546.0,65.6 L547.5,65.8 L549.0,65.9 L550.5,66.1 L552.0,66.3 L553.5,66.4 L555.0,66.6 L556.5,66.8 L558.0,66.9 L559.5,67.1 L561.0,67.3 L562.5,67.5 L564.0,67.6 L565.5,67.8 L567.0,68.0 L568.5,68.1 L570.0,68.3 L571.5,68.5 L573.0,68.7 L574.5,68.8 L576.0,69.0 L577.5,69.2 L579.0,69.4 L580.5,69.6 L582.0,69.7 L583.5,69.9 L585.0,70.1 L586.5,70.3 L588.0,70.5 L589.5,70.7 L591.0,70.8 L592.5,71.0 L594.0,71.2 L595.5,71.4 L597.0,71.6 L598.5,71.8 L600.0,72.0 L601.5,72.2 L603.0,72.4 L604.5,72.6 L606.0,72.8 L607.5,73.0 L609.0,73.2 L610.5,73.4 L612.0,73.6 L613.5,73.8 L615.0,74.0 L616.5,74.2 L618.0,74.4 L619.5,74.6 L621.0,74.9 L622.5,75.1 L624.0,75.3 L625.5,75.5 L627.0,75.7 L628.5,76.0 L630.0,76.2 L631.5,76.4 L633.0,76.6 L634.5,76.9 L636.0,77.1 L637.5,77.3 L639.0,77.6 L640.5,77.8 L642.0,78.1 L643.5,78.3 L645.0,78.6 L646.5,78.8 L648.0,79.1 L649.5,79.3 L651.0,79.6 L652.5,79.8 L654.0,80.1 L655.5,80.4 L657.0,80.6 L658.5,80.9 L660.0,81.2 L661.5,81.4 L663.0,81.7 L664.5,82.0 L666.0,82.3 L667.5,82.6 L669.0,82.8 L670.5,83.1 L672.0,83.4 L673.5,83.7 L675.0,84.0 L676.5,84.3 L678.0,84.6 L679.5,84.9 L681.0,85.2 L682.5,85.5 L684.0,85.9 L685.5,86.2 L687.0,86.5 L688.5,86.8 L690.0,87.2 L691.5,87.5 L693.0,87.8 L694.5,88.2 L696.0,88.5 L697.5,88.8 L699.0,89.2 L700.5,89.5 L702.0,89.9 L703.5,90.3 L705.0,90.6 L706.5,91.0 L708.0,91.3 L709.5,91.7 L711.0,92.1 L712.5,92.5 L714.0,92.9 L715.5,93.2 L717.0,93.6 L718.5,94.0 L720.0,94.4 L721.5,94.8 L723.0,95.2 L724.5,95.6 L726.0,96.0 L727.5,96.5 L729.0,96.9 L730.5,97.3 L732.0,97.7 L733.5,98.2 L735.0,98.6 L736.5,99.0 L738.0,99.5 L739.5,99.9 L741.0,100.4 L742.5,100.8 L744.0,101.3 L745.5,101.8 L747.0,102.2 L748.5,102.7 L750.0,103.2 L751.5,103.7 L753.0,104.1 L754.5,104.6 L756.0,105.1 L757.5,105.6 L759.0,106.1 L760.5,106.6 L762.0,107.2 L763.5,107.7 L765.0,108.2 L766.5,108.7 L768.0,109.3 L769.5,109.8 L771.0,110.3 L772.5,110.9 L774.0,111.4 L775.5,112.0 L777.0,112.6 L778.5,113.1 L780.0,113.7 L781.5,114.3 L783.0,114.8 L784.5,115.4 L786.0,116.0 L787.5,116.6 L789.0,117.2 L790.5,117.8 L792.0,118.4 L793.5,119.1 L795.0,119.7 L796.5,120.3 L798.0,120.9 L799.5,121.6 L801.0,122.2 L802.5,122.9 L804.0,123.5 L805.5,124.2 L807.0,124.9 L808.5,125.5 L810.0,126.2 L811.5,126.9 L813.0,127.6 L814.5,128.3 L816.0,129.0 L817.5,129.7 L819.0,130.4 L820.5,131.1 L822.0,131.8 L823.5,132.5 L825.0,133.3 L826.5,134.0 L828.0,134.7 L829.5,135.5 L831.0,136.2 L832.5,137.0 L834.0,137.7 L835.5,138.5 L837.0,139.3 L838.5,140.1 L840.0,140.8 L841.5,141.6 L843.0,142.4 L844.5,143.2 L846.0,144.0 L847.5,144.8 L849.0,145.6 L850.5,146.4 L852.0,147.3 L853.5,148.1 L855.0,148.9 L856.5,149.7 L858.0,150.6 L859.5,151.4 L861.0,152.3 L862.5,153.1 L864.0,154.0 L865.5,154.9 L867.0,155.7 L868.5,156.6 L870.0,157.5 L871.5,158.3 L873.0,159.2 L874.5,160.1 L876.0,161.0 L877.5,161.9 L879.0,162.8 L880.5,163.7 L882.0,164.6 L883.5,165.6 L885.0,166.5 L886.5,167.4 L888.0,168.3 L889.5,169.3 L891.0,170.2 L892.5,171.2 L894.0,172.1 L895.5,173.1 L897.0,174.0 L898.5,175.0 L900.0,175.9 L901.5,176.9 L903.0,177.9 L904.5,178.9 L906.0,179.8 L907.5,180.8 L909.0,181.8 L910.5,182.8 L912.0,183.8 L913.5,184.8 L915.0,185.8 L916.5,186.8 L918.0,187.8 L919.5,188.8 L921.0,189.9 L922.5,190.9 L924.0,191.9 L925.5,192.9 L927.0,194.0 L928.5,195.0 L930.0,196.1 L931.5,197.1 L933.0,198.2 L934.5,199.2 L936.0,200.3 L937.5,201.3 L939.0,202.4 L940.5,203.5 L942.0,204.5 L943.5,205.6 L945.0,206.7 L946.5,207.8 L948.0,208.9 L949.5,210.0 L951.0,211.1 L952.5,212.2 L954.0,213.3 L955.5,214.4 L957.0,215.5 L958.5,216.6 L960.0,217.7 L961.5,218.8 L963.0,219.9 L964.5,221.0 L966.0,222.1 L967.5,223.2 L969.0,224.3 L970.5,225.4 L972.0,226.5 L973.5,227.6 L975.0,228.6 L976.5,229.7 L978.0,230.7 L979.5,231.8 L981.0,232.8 L982.5,233.8 L984.0,234.8 L985.5,235.8 L987.0,236.8 L988.5,237.8 L990.0,238.8 L991.5,239.8 L993.0,240.8 L994.5,241.9 L996.0,242.9 L997.5,243.9 L999.0,244.9 L1000.5,246.0 L1002.0,247.1 L1003.5,248.2 L1005.0,249.3 L1006.5,250.4 L1008.0,251.6 L1009.5,252.7 L1011.0,254.0 L1012.5,255.2 L1014.0,256.5 L1015.5,257.7 L1017.0,259.1 L1018.5,260.4 L1020.0,261.7 L1021.5,263.1 L1023.0,264.5 L1024.5,265.9 L1026.0,267.4 L1027.5,268.8 L1029.0,270.3 L1030.5,271.7 L1032.0,273.2 L1033.5,274.7 L1035.0,276.2 L1036.5,277.7 L1038.0,279.3 L1039.5,280.8 L1041.0,282.3 L1042.5,283.9 L1044.0,285.4 L1045.5,286.9 L1047.0,288.5 L1048.5,290.0 L1050.0,291.5 L1051.5,293.1 L1053.0,294.6 L1054.5,296.1 L1056.0,297.6 L1057.5,299.1 L1059.0,300.6 L1060.5,302.0 L1062.0,303.5 L1063.5,305.0 L1065.0,306.4 L1066.5,307.8 L1068.0,309.2 L1069.5,310.6 L1071.0,312.0 L1072.5,313.4 L1074.0,314.7 L1075.5,316.1 L1077.0,317.4 L1078.5,318.8 L1080.0,320.1 L1081.5,321.4 L1083.0,322.7 L1084.5,323.9 L1086.0,325.2 L1087.5,326.5 L1089.0,327.7 L1090.5,328.9 L1092.0,330.2 L1093.5,331.4 L1095.0,332.6 L1096.5,333.7 L1098.0,334.9 L1099.5,336.1 L1101.0,337.2 L1102.5,338.3 L1104.0,339.5 L1105.5,340.6 L1107.0,341.7 L1108.5,342.8 L1110.0,343.8 L1111.5,344.9 L1113.0,345.9 L1114.5,347.0 L1116.0,348.0 L1117.5,349.0 L1119.0,350.0 L1120.5,351.0 L1122.0,352.0 L1123.5,353.0 L1125.0,353.9 L1126.5,354.9 L1128.0,355.8 L1129.5,356.7 L1131.0,357.6 L1132.5,358.5 L1134.0,359.4 L1135.5,360.3 L1137.0,361.2 L1138.5,362.0 L1140.0,362.8 L1141.5,363.6 L1143.0,364.4 L1144.5,365.2 L1146.0,366.0 L1147.5,366.7 L1149.0,367.5 L1150.5,368.2 L1152.0,368.9 L1153.5,369.5 L1155.0,370.2 L1156.5,370.8 L1158.0,371.5 L1159.5,372.1 L1161.0,372.6 L1162.5,373.2 L1164.0,373.7 L1165.5,374.2 L1167.0,374.7 L1168.5,375.2 L1170.0,375.7 L1171.5,376.1 L1173.0,376.5 L1174.5,376.9 L1176.0,377.2 L1177.5,377.6 L1179.0,377.9 L1180.5,378.2 L1182.0,378.4 L1183.5,378.6 L1185.0,378.8 L1186.5,379.0 L1188.0,379.2 L1189.5,379.3 L1191.0,379.4 L1192.5,379.5 L1194.0,379.5 L1195.5,379.5 L1197.0,379.5 L1198.5,379.4 L1200.0,379.4 L1201.5,379.3 L1203.0,379.2 L1204.5,379.0 L1206.0,378.8 L1207.5,378.6 L1209.0,378.4 L1210.5,378.2 L1212.0,377.9 L1213.5,377.6 L1215.0,377.3 L1216.5,377.0 L1218.0,376.6 L1219.5,376.3 L1221.0,375.9 L1222.5,375.5 L1224.0,375.0 L1225.5,374.6 L1227.0,374.1 L1228.5,373.6 L1230.0,373.1 L1231.5,372.6 L1233.0,372.1 L1234.5,371.5 L1236.0,370.9 L1237.5,370.3 L1239.0,369.7 L1240.5,369.1 L1242.0,368.5 L1243.5,367.9 L1245.0,367.2 L1246.5,366.6 L1248.0,365.9 L1249.5,365.2 L1251.0,364.5 L1252.5,363.8 L1254.0,363.1 L1255.5,362.3 L1257.0,361.6 L1258.5,360.8 L1260.0,360.1 L1261.5,359.3 L1263.0,358.5 L1264.5,357.7 L1266.0,357.0 L1267.5,356.1 L1269.0,355.3 L1270.5,354.5 L1272.0,353.7 L1273.5,352.8 L1275.0,352.0 L1276.5,351.1 L1278.0,350.3 L1279.5,349.4 L1281.0,348.5 L1282.5,347.6 L1284.0,346.7 L1285.5,345.8 L1287.0,344.9 L1288.5,344.0 L1290.0,343.0 L1291.5,342.1 L1293.0,341.2 L1294.5,340.2 L1296.0,339.3 L1297.5,338.3 L1299.0,337.3 L1300.5,336.4 L1302.0,335.4 L1303.5,334.4 L1305.0,333.4 L1306.5,332.4 L1308.0,331.4 L1309.5,330.4 L1311.0,329.4 L1312.5,328.4 L1314.0,327.4 L1315.5,326.4 L1317.0,325.3 L1318.5,324.3 L1320.0,323.3 L1321.5,322.2 L1323.0,321.2 L1324.5,320.1 L1326.0,319.1 L1327.5,318.0 L1329.0,317.0 L1330.5,315.9 L1332.0,314.8 L1333.5,313.8 L1335.0,312.7 L1336.5,311.6 L1338.0,310.6 L1339.5,309.5 L1341.0,308.4 L1342.5,307.3 L1344.0,306.2 L1345.5,305.2 L1347.0,304.1 L1348.5,303.0 L1350.0,301.9 L1351.5,300.8 L1353.0,299.7 L1354.5,298.6 L1356.0,297.6 L1357.5,296.5 L1359.0,295.4 L1360.5,294.3 L1362.0,293.2 L1363.5,292.1 L1365.0,291.0 L1366.5,289.9 L1368.0,288.8 L1369.5,287.7 L1371.0,286.7 L1372.5,285.6 L1374.0,284.5 L1375.5,283.4 L1377.0,282.3 L1378.5,281.2 L1380.0,280.2 L1381.5,279.1 L1383.0,278.0 L1384.5,276.9 L1386.0,275.9 L1387.5,274.8 L1389.0,273.7 L1390.5,272.7 L1392.0,271.6 L1393.5,270.6 L1395.0,269.5 L1396.5,268.5 L1398.0,267.4 L1399.5,266.4 L1401.0,265.3 L1402.5,264.3 L1404.0,263.3 L1405.5,262.2 L1407.0,261.2 L1408.5,260.2 L1410.0,259.2 L1411.5,258.2 L1413.0,257.2 L1414.5,256.2 L1416.0,255.2 L1417.5,254.2 L1419.0,253.2 L1420.5,252.2 L1422.0,251.3 L1423.5,250.3 L1425.0,249.4 L1426.5,248.4 L1428.0,247.5 L1429.5,246.5 L1431.0,245.6 L1432.5,244.7 L1434.0,243.7 L1435.5,242.8 L1437.0,241.9 L1438.5,241.0 L1440.0,240.1 L1441.5,239.2 L1443.0,238.3 L1444.5,237.4 L1446.0,236.5 L1447.5,235.7 L1449.0,234.8 L1450.5,233.9 L1452.0,233.1 L1453.5,232.2 L1455.0,231.4 L1456.5,230.5 L1458.0,229.7 L1459.5,228.9 L1461.0,228.0 L1462.5,227.2 L1464.0,226.4 L1465.5,225.6 L1467.0,224.8 L1468.5,224.0 L1470.0,223.2 L1471.5,222.4 L1473.0,221.6 L1474.5,220.8 L1476.0,220.1 L1477.5,219.3 L1479.0,218.5 L1480.5,217.8 L1482.0,217.0 L1483.5,216.3 L1485.0,215.5 L1486.5,214.8 L1488.0,214.0 L1489.5,213.3 L1491.0,212.6 L1492.5,211.9 L1494.0,211.1 L1495.5,210.4 L1497.0,209.7 L1498.5,209.0 L1500.0,208.3 L1501.5,207.6 L1503.0,206.9 L1504.5,206.3 L1506.0,205.6 L1507.5,204.9 L1509.0,204.2 L1510.5,203.6 L1512.0,202.9 L1513.5,202.2 L1515.0,201.6 L1516.5,200.9 L1518.0,200.3 L1519.5,199.7 L1521.0,199.0 L1522.5,198.4 L1524.0,197.8 L1525.5,197.2 L1527.0,196.5 L1528.5,195.9 L1530.0,195.3 L1531.5,194.7 L1533.0,194.1 L1534.5,193.5 L1536.0,192.9 L1537.5,192.3 L1539.0,191.8 L1540.5,191.2 L1542.0,190.6 L1543.5,190.0 L1545.0,189.5 L1546.5,188.9 L1548.0,188.3 L1549.5,187.8 L1551.0,187.2 L1552.5,186.7 L1554.0,186.1 L1555.5,185.6 L1557.0,185.1 L1558.5,184.5 L1560.0,184.0 L1561.5,183.5 L1563.0,183.0 L1564.5,182.4 L1566.0,181.9 L1567.5,181.4 L1569.0,180.9 L1570.5,180.4 L1572.0,179.9 L1573.5,179.4 L1575.0,178.9 L1576.5,178.4 L1578.0,178.0 L1579.5,177.5 L1581.0,177.0 L1582.5,176.5 L1584.0,176.1 L1585.5,175.6 L1587.0,175.1 L1588.5,174.7 L1590.0,174.2 L1591.5,173.8 L1593.0,173.3 L1594.5,172.9 L1596.0,172.4 L1597.5,172.0 L1599.0,171.5 L1600.5,171.1 L1602.0,170.7 L1603.5,170.3 L1605.0,169.8 L1606.5,169.4 L1608.0,169.0 L1609.5,168.6 L1611.0,168.2 L1612.5,167.8 L1614.0,167.4 L1615.5,167.0 L1617.0,166.6 L1618.5,166.2 L1620.0,165.8 L1621.5,165.4 L1623.0,165.0 L1624.5,164.6 L1626.0,164.2 L1627.5,163.8 L1629.0,163.5 L1630.5,163.1 L1632.0,162.7 L1633.5,162.4 L1635.0,162.0 L1636.5,161.6 L1638.0,161.3 L1639.5,160.9 L1641.0,160.6 L1642.5,160.2 L1644.0,159.9 L1645.5,159.5 L1647.0,159.2 L1648.5,158.8 L1650.0,158.5 L1651.5,158.2 L1653.0,157.8 L1654.5,157.5 L1656.0,157.2 L1657.5,156.8 L1659.0,156.5 L1660.5,156.2 L1662.0,155.9 L1663.5,155.6 L1665.0,155.3 L1666.5,154.9 L1668.0,154.6 L1669.5,154.3 L1671.0,154.0 L1672.5,153.7 L1674.0,153.4 L1675.5,153.1 L1677.0,152.8 L1678.5,152.5 L1680.0,152.2 L1681.5,151.9 L1683.0,151.7 L1684.5,151.4 L1686.0,151.1 L1687.5,150.8 L1689.0,150.5 L1690.5,150.2 L1692.0,150.0 L1693.5,149.7 L1695.0,149.4 L1696.5,149.1 L1698.0,148.9 L1699.5,148.6 L1701.0,148.3 L1702.5,148.1 L1704.0,147.8 L1705.5,147.6 L1707.0,147.3 L1708.5,147.0 L1710.0,146.8 L1711.5,146.5 L1713.0,146.3 L1714.5,146.0 L1716.0,145.8 L1717.5,145.5 L1719.0,145.3 L1720.5,145.0 L1722.0,144.8 L1723.5,144.6 L1725.0,144.3 L1726.5,144.1 L1728.0,143.9 L1729.5,143.6 L1731.0,143.4 L1732.5,143.1 L1734.0,142.9 L1735.5,142.7 L1737.0,142.5 L1738.5,142.2 L1740.0,142.0 L1741.5,141.8 L1743.0,141.6 L1744.5,141.3 L1746.0,141.1 L1747.5,140.9 L1749.0,140.7 L1750.5,140.5 L1752.0,140.2 L1753.5,140.0 L1755.0,139.8 L1756.5,139.6 L1758.0,139.4 L1759.5,139.2 L1761.0,139.0 L1762.5,138.7 L1764.0,138.5 L1765.5,138.3 L1767.0,138.1 L1768.5,137.9 L1770.0,137.7 L1771.5,137.5 L1773.0,137.3 L1774.5,137.1 L1776.0,136.9 L1777.5,136.7 L1779.0,136.5 L1780.5,136.3 L1782.0,136.1 L1783.5,135.9 L1785.0,135.7 L1786.5,135.5 L1788.0,135.3 L1789.5,135.1 L1791.0,134.9 L1792.5,134.7 L1794.0,134.5 L1795.5,134.3 L1797.0,134.1 L1798.5,133.9 L1800.0,133.7 L1801.5,133.5 L1803.0,133.3 L1804.5,133.1 L1806.0,132.9 L1807.5,132.7 L1809.0,132.5 L1810.5,132.4 L1812.0,132.2 L1813.5,132.0 L1815.0,131.8 L1816.5,131.6 L1818.0,131.4 L1819.5,131.2 L1821.0,131.0 L1822.5,130.8 L1824.0,130.6 L1825.5,130.4 L1827.0,130.2 L1828.5,130.0 L1830.0,129.9"/>
<path stroke="#00f" d="M196.0,33.9 C202.2,34.1 208.6,34.0 214.6,34.6 C220.3,35.2 225.3,36.1 231.0,37.3 C237.5,38.7 245.3,40.7 251.6,42.8 C257.1,44.7 262.8,48.7 266.7,49.0 C269.2,49.2 270.8,47.1 272.8,47.4 C274.9,47.8 276.7,50.9 279.0,51.7 C281.3,52.5 283.7,52.0 286.5,52.5 C290.3,53.2 294.7,54.3 299.5,55.8 C305.6,57.7 313.2,60.8 320.0,63.3 L330.0,65.1 L331.5,65.1 L333.0,65.1 L334.5,65.1 L336.0,65.0 L337.5,64.9 L339.0,64.8 L340.5,64.6 L342.0,64.4 L343.5,64.2 L345.0,63.9 L346.5,63.6 L348.0,63.3 L349.5,62.9 L351.0,62.6 L352.5,62.2 L354.0,61.8 L355.5,61.4 L357.0,60.9 L358.5,60.5 L360.0,60.0 L361.5,59.6 L363.0,59.1 L364.5,58.7 L366.0,58.2 L367.5,57.7 L369.0,57.3 L370.5,56.8 L372.0,56.4 L373.5,55.9 L375.0,55.5 L376.5,55.1 L378.0,54.7 L379.5,54.3 L381.0,54.0 L382.5,53.7 L384.0,53.4 L385.5,53.1 L387.0,52.8 L388.5,52.6 L390.0,52.5 L391.5,52.3 L393.0,52.2 L394.5,52.1 L396.0,52.1 L397.5,52.0 L399.0,52.0 L400.5,52.0 L402.0,52.1 L403.5,52.1 L405.0,52.2 L406.5,52.3 L408.0,52.3 L409.5,52.4 L411.0,52.6 L412.5,52.7 L414.0,52.8 L415.5,52.9 L417.0,53.0 L418.5,53.2 L420.0,53.3 L421.5,53.4 L423.0,53.5 L424.5,53.7 L426.0,53.8 L427.5,53.9 L429.0,54.0 L430.5,54.2 L432.0,54.3 L433.5,54.4 L435.0,54.6 L436.5,54.7 L438.0,54.8 L439.5,54.9 L441.0,55.1 L442.5,55.2 L444.0,55.3 L445.5,55.5 L447.0,55.6 L448.5,55.7 L450.0,55.9 L451.5,56.0 L453.0,56.1 L454.5,56.3 L456.0,56.4 L457.5,56.5 L459.0,56.7 L460.5,56.8 L462.0,56.9 L463.5,57.1 L465.0,57.2 L466.5,57.3 L468.0,57.5 L469.5,57.6 L471.0,57.8 L472.5,57.9 L474.0,58.0 L475.5,58.2 L477.0,58.3 L478.5,58.5 L480.0,58.6 L481.5,58.8 L483.0,58.9 L484.5,59.0 L486.0,59.2 L487.5,59.3 L489.0,59.5 L490.5,59.6 L492.0,59.8 L493.5,59.9 L495.0,60.1 L496.5,60.2 L498.0,60.4 L499.5,60.5 L501.0,60.7 L502.5,60.8 L504.0,61.0 L505.5,61.2 L507.0,61.3 L508.5,61.5 L510.0,61.6 L511.5,61.8 L513.0,61.9 L514.5,62.1 L516.0,62.3 L517.5,62.4 L519.0,62.6 L520.5,62.8 L522.0,62.9 L523.5,63.1 L525.0,63.3 L526.5,63.4 L528.0,63.6 L529.5,63.8 L531.0,63.9 L532.5,64.1 L534.0,64.3 L535.5,64.5 L537.0,64.6 L538.5,64.8 L540.0,65.0 L541.5,65.2 L543.0,65.3 L544.5,65.5 L546.0,65.7 L547.5,65.9 L549.0,66.1 L550.5,66.3 L552.0,66.4 L553.5,66.6 L555.0,66.8 L556.5,67.0 L558.0,67.2 L559.5,67.4 L561.0,67.6 L562.5,67.8 L564.0,68.0 L565.5,68.2 L567.0,68.4 L568.5,68.6 L570.0,68.8 L571.5,69.0 L573.0,69.2 L574.5,69.4 L576.0,69.6 L577.5,69.8 L579.0,70.0 L580.5,70.2 L582.0,70.4 L583.5,70.6 L585.0,70.8 L586.5,71.1 L588.0,71.3 L589.5,71.5 L591.0,71.7 L592.5,71.9 L594.0,72.2 L595.5,72.4 L597.0,72.6 L598.5,72.8 L600.0,73.1 L601.5,73.3 L603.0,73.5 L604.5,73.7 L606.0,74.0 L607.5,74.2 L609.0,74.4 L610.5,74.7 L612.0,74.9 L613.5,75.2 L615.0,75.4 L616.5,75.6 L618.0,75.9 L619.5,76.1 L621.0,76.4 L622.5,76.6 L624.0,76.9 L625.5,77.1 L627.0,77.4 L628.5,77.7 L630.0,77.9 L631.5,78.2 L633.0,78.4 L634.5,78.7 L636.0,79.0 L637.5,79.2 L639.0,79.5 L640.5,79.8 L642.0,80.0 L643.5,80.3 L645.0,80.6 L646.5,80.9 L648.0,81.2 L649.5,81.4 L651.0,81.7 L652.5,82.0 L654.0,82.3 L655.5,82.6 L657.0,82.9 L658.5,83.2 L660.0,83.5 L661.5,83.8 L663.0,84.1 L664.5,84.4 L666.0,84.7 L667.5,85.0 L669.0,85.4 L670.5,85.7 L672.0,86.0 L673.5,86.3 L675.0,86.7 L676.5,87.0 L678.0,87.3 L679.5,87.6 L681.0,88.0 L682.5,88.3 L684.0,88.7 L685.5,89.0 L687.0,89.4 L688.5,89.7 L690.0,90.1 L691.5,90.4 L693.0,90.8 L694.5,91.2 L696.0,91.5 L697.5,91.9 L699.0,92.3 L700.5,92.7 L702.0,93.1 L703.5,93.4 L705.0,93.8 L706.5,94.2 L708.0,94.6 L709.5,95.0 L711.0,95.4 L712.5,95.8 L714.0,96.2 L715.5,96.7 L717.0,97.1 L718.5,97.5 L720.0,97.9 L721.5,98.4 L723.0,98.8 L724.5,99.2 L726.0,99.7 L727.5,100.1 L729.0,100.6 L730.5,101.0 L732.0,101.5 L733.5,101.9 L735.0,102.4 L736.5,102.9 L738.0,103.3 L739.5,103.8 L741.0,104.3 L742.5,104.8 L744.0,105.3 L745.5,105.8 L747.0,106.3 L748.5,106.8 L750.0,107.3 L751.5,107.8 L753.0,108.3 L754.5,108.8 L756.0,109.4 L757.5,109.9 L759.0,110.4 L760.5,111.0 L762.0,111.5 L763.5,112.1 L765.0,112.6 L766.5,113.2 L768.0,113.8 L769.5,114.3 L771.0,114.9 L772.5,115.5 L774.0,116.1 L775.5,116.7 L777.0,117.3 L778.5,117.9 L780.0,118.5 L781.5,119.1 L783.0,119.7 L784.5,120.3 L786.0,120.9 L787.5,121.6 L789.0,122.2 L790.5,122.9 L792.0,123.5 L793.5,124.2 L795.0,124.8 L796.5,125.5 L798.0,126.2 L799.5,126.8 L801.0,127.5 L802.5,128.2 L804.0,128.9 L805.5,129.6 L807.0,130.3 L808.5,131.0 L810.0,131.7 L811.5,132.4 L813.0,133.2 L814.5,133.9 L816.0,134.6 L817.5,135.4 L819.0,136.1 L820.5,136.9 L822.0,137.7 L823.5,138.4 L825.0,139.2 L826.5,140.0 L828.0,140.8 L829.5,141.6 L831.0,142.4 L832.5,143.2 L834.0,144.0 L835.5,144.8 L837.0,145.6 L838.5,146.5 L840.0,147.3 L841.5,148.2 L843.0,149.0 L844.5,149.9 L846.0,150.7 L847.5,151.6 L849.0,152.5 L850.5,153.4 L852.0,154.3 L853.5,155.2 L855.0,156.1 L856.5,157.0 L858.0,157.9 L859.5,158.8 L861.0,159.8 L862.5,160.7 L864.0,161.7 L865.5,162.6 L867.0,163.6 L868.5,164.6 L870.0,165.5 L871.5,166.5 L873.0,167.5 L874.5,168.5 L876.0,169.5 L877.5,170.5 L879.0,171.5 L880.5,172.5 L882.0,173.5 L883.5,174.6 L885.0,175.6 L886.5,176.6 L888.0,177.7 L889.5,178.7 L891.0,179.8 L892.5,180.8 L894.0,181.9 L895.5,183.0 L897.0,184.0 L898.5,185.1 L900.0,186.2 L901.5,187.3 L903.0,188.4 L904.5,189.5 L906.0,190.6 L907.5,191.7 L909.0,192.8 L910.5,193.9 L912.0,195.0 L913.5,196.1 L915.0,197.2 L916.5,198.4 L918.0,199.5 L919.5,200.6 L921.0,201.8 L922.5,202.9 L924.0,204.0 L925.5,205.2 L927.0,206.3 L928.5,207.5 L930.0,208.6 L931.5,209.8 L933.0,210.9 L934.5,212.1 L936.0,213.2 L937.5,214.4 L939.0,215.5 L940.5,216.7 L942.0,217.9 L943.5,219.0 L945.0,220.2 L946.5,221.4 L948.0,222.5 L949.5,223.7 L951.0,224.9 L952.5,226.1 L954.0,227.2 L955.5,228.4 L957.0,229.6 L958.5,230.7 L960.0,231.9 L961.5,233.1 L963.0,234.3 L964.5,235.5 L966.0,236.6 L967.5,237.8 L969.0,239.0 L970.5,240.2 L972.0,241.4 L973.5,242.6 L975.0,243.8 L976.5,245.0 L978.0,246.2 L979.5,247.4 L981.0,248.6 L982.5,249.8 L984.0,251.0 L985.5,252.2 L987.0,253.4 L988.5,254.6 L990.0,255.9 L991.5,257.1 L993.0,258.3 L994.5,259.6 L996.0,260.8 L997.5,262.1 L999.0,263.3 L1000.5,264.6 L1002.0,265.8 L1003.5,267.1 L1005.0,268.4 L1006.5,269.7 L1008.0,270.9 L1009.5,272.2 L1011.0,273.5 L1012.5,274.8 L1014.0,276.1 L1015.5,277.4 L1017.0,278.8 L1018.5,280.1 L1020.0,281.4 L1021.5,282.7 L1023.0,284.1 L1024.5,285.4 L1026.0,286.7 L1027.5,288.1 L1029.0,289.4 L1030.5,290.7 L1032.0,292.1 L1033.5,293.4 L1035.0,294.8 L1036.5,296.1 L1038.0,297.5 L1039.5,298.8 L1041.0,300.1 L1042.5,301.5 L1044.0,302.8 L1045.5,304.1 L1047.0,305.5 L1048.5,306.8 L1050.0,308.1 L1051.5,309.4 L1053.0,310.8 L1054.5,312.1 L1056.0,313.4 L1057.5,314.7 L1059.0,316.0 L1060.5,317.3 L1062.0,318.5 L1063.5,319.8 L1065.0,321.1 L1066.5,322.4 L1068.0,323.6 L1069.5,324.9 L1071.0,326.1 L1072.5,327.3 L1074.0,328.5 L1075.5,329.8 L1077.0,331.0 L1078.5,332.1 L1080.0,333.3 L1081.5,334.5 L1083.0,335.7 L1084.5,336.8 L1086.0,337.9 L1087.5,339.0 L1089.0,340.2 L1090.5,341.3 L1092.0,342.3 L1093.5,343.4 L1095.0,344.5 L1096.5,345.5 L1098.0,346.5 L1099.5,347.5 L1101.0,348.5 L1102.5,349.5 L1104.0,350.5 L1105.5,351.4 L1107.0,352.3 L1108.5,353.2 L1110.0,354.1 L1111.5,355.0 L1113.0,355.8 L1114.5,356.7 L1116.0,357.5 L1117.5,358.3 L1119.0,359.1 L1120.5,359.8 L1122.0,360.5 L1123.5,361.3 L1125.0,362.0 L1126.5,362.6 L1128.0,363.3 L1129.5,363.9 L1131.0,364.5 L1132.5,365.1 L1134.0,365.6 L1135.5,366.2 L1137.0,366.7 L1138.5,367.2 L1140.0,367.6 L1141.5,368.1 L1143.0,368.5 L1144.5,368.9 L1146.0,369.3 L1147.5,369.6 L1149.0,370.0 L1150.5,370.3 L1152.0,370.6 L1153.5,370.8 L1155.0,371.1 L1156.5,371.3 L1158.0,371.5 L1159.5,371.6 L1161.0,371.8 L1162.5,371.9 L1164.0,372.0 L1165.5,372.1 L1167.0,372.1 L1168.5,372.2 L1170.0,372.2 L1171.5,372.1 L1173.0,372.1 L1174.5,372.0 L1176.0,371.9 L1177.5,371.8 L1179.0,371.7 L1180.5,371.5 L1182.0,371.3 L1183.5,371.1 L1185.0,370.9 L1186.5,370.6 L1188.0,370.3 L1189.5,370.0 L1191.0,369.7 L1192.5,369.4 L1194.0,369.0 L1195.5,368.6 L1197.0,368.2 L1198.5,367.7 L1200.0,367.3 L1201.5,366.8 L1203.0,366.3 L1204.5,365.8 L1206.0,365.2 L1207.5,364.6 L1209.0,364.1 L1210.5,363.5 L1212.0,362.8 L1213.5,362.2 L1215.0,361.6 L1216.5,360.9 L1218.0,360.2 L1219.5,359.5 L1221.0,358.8 L1222.5,358.0 L1224.0,357.3 L1225.5,356.5 L1227.0,355.7 L1228.5,354.9 L1230.0,354.1 L1231.5,353.3 L1233.0,352.4 L1234.5,351.6 L1236.0,350.7 L1237.5,349.8 L1239.0,348.9 L1240.5,348.0 L1242.0,347.1 L1243.5,346.2 L1245.0,345.2 L1246.5,344.3 L1248.0,343.3 L1249.5,342.4 L1251.0,341.4 L1252.5,340.4 L1254.0,339.4 L1255.5,338.4 L1257.0,337.4 L1258.5,336.3 L1260.0,335.3 L1261.5,334.3 L1263.0,333.2 L1264.5,332.2 L1266.0,331.1 L1267.5,330.1 L1269.0,329.0 L1270.5,327.9 L1272.0,326.9 L1273.5,325.8 L1275.0,324.7 L1276.5,323.6 L1278.0,322.5 L1279.5,321.4 L1281.0,320.3 L1282.5,319.2 L1284.0,318.1 L1285.5,317.0 L1287.0,315.9 L1288.5,314.8 L1290.0,313.7 L1291.5,312.6 L1293.0,311.5 L1294.5,310.4 L1296.0,309.3 L1297.5,308.1 L1299.0,307.0 L1300.5,305.9 L1302.0,304.8 L1303.5,303.7 L1305.0,302.7 L1306.5,301.6 L1308.0,300.5 L1309.5,299.4 L1311.0,298.3 L1312.5,297.2 L1314.0,296.1 L1315.5,295.0 L1317.0,294.0 L1318.5,292.9 L1320.0,291.8 L1321.5,290.7 L1323.0,289.7 L1324.5,288.6 L1326.0,287.6 L1327.5,286.5 L1329.0,285.4 L1330.5,284.4 L1332.0,283.3 L1333.5,282.3 L1335.0,281.2 L1336.5,280.2 L1338.0,279.2 L1339.5,278.1 L1341.0,277.1 L1342.5,276.1 L1344.0,275.0 L1345.5,274.0 L1347.0,273.0 L1348.5,272.0 L1350.0,270.9 L1351.5,269.9 L1353.0,268.9 L1354.5,267.9 L1356.0,266.9 L1357.5,265.9 L1359.0,264.9 L1360.5,263.9 L1362.0,262.9 L1363.5,262.0 L1365.0,261.0 L1366.5,260.0 L1368.0,259.0 L1369.5,258.0 L1371.0,257.1 L1372.5,256.1 L1374.0,255.2 L1375.5,254.2 L1377.0,253.2 L1378.5,252.3 L1380.0,251.4 L1381.5,250.4 L1383.0,249.5 L1384.5,248.5 L1386.0,247.6 L1387.5,246.7 L1389.0,245.8 L1390.5,244.8 L1392.0,243.9 L1393.5,243.0 L1395.0,242.1 L1396.5,241.2 L1398.0,240.3 L1399.5,239.4 L1401.0,238.5 L1402.5,237.7 L1404.0,236.8 L1405.5,235.9 L1407.0,235.0 L1408.5,234.2 L1410.0,233.3 L1411.5,232.5 L1413.0,231.6 L1414.5,230.8 L1416.0,229.9 L1417.5,229.1 L1419.0,228.3 L1420.5,227.4 L1422.0,226.6 L1423.5,225.8 L1425.0,225.0 L1426.5,224.2 L1428.0,223.4 L1429.5,222.6 L1431.0,221.8 L1432.5,221.0 L1434.0,220.2 L1435.5,219.4 L1437.0,218.6 L1438.5,217.9 L1440.0,217.1 L1441.5,216.4 L1443.0,215.6 L1444.5,214.8 L1446.0,214.1 L1447.5,213.4 L1449.0,212.6 L1450.5,211.9 L1452.0,211.2 L1453.5,210.4 L1455.0,209.7 L1456.5,209.0 L1458.0,208.3 L1459.5,207.6 L1461.0,206.9 L1462.5,206.2 L1464.0,205.5 L1465.5,204.8 L1467.0,204.1 L1468.5,203.4 L1470.0,202.7 L1471.5,202.1 L1473.0,201.4 L1474.5,200.7 L1476.0,200.1 L1477.5,199.4 L1479.0,198.8 L1480.5,198.1 L1482.0,197.5 L1483.5,196.8 L1485.0,196.2 L1486.5,195.6 L1488.0,195.0 L1489.5,194.3 L1491.0,193.7 L1492.5,193.1 L1494.0,192.5 L1495.5,191.9 L1497.0,191.3 L1498.5,190.7 L1500.0,190.1 L1501.5,189.5 L1503.0,188.9 L1504.5,188.3 L1506.0,187.7 L1507.5,187.2 L1509.0,186.6 L1510.5,186.0 L1512.0,185.5 L1513.5,184.9 L1515.0,184.3 L1516.5,183.8 L1518.0,183.2 L1519.5,182.7 L1521.0,182.2 L1522.5,181.6 L1524.0,181.1 L1525.5,180.6 L1527.0,180.0 L1528.5,179.5 L1530.0,179.0 L1531.5,178.5 L1533.0,178.0 L1534.5,177.4 L1536.0,176.9 L1537.5,176.4 L1539.0,175.9 L1540.5,175.4 L1542.0,174.9 L1543.5,174.5 L1545.0,174.0 L1546.5,173.5 L1548.0,173.0 L1549.5,172.5 L1551.0,172.1 L1552.5,171.6 L1554.0,171.1 L1555.5,170.7 L1557.0,170.2 L1558.5,169.8 L1560.0,169.3 L1561.5,168.9 L1563.0,168.4 L1564.5,168.0 L1566.0,167.5 L1567.5,167.1 L1569.0,166.7 L1570.5,166.2 L1572.0,165.8 L1573.5,165.4 L1575.0,165.0 L1576.5,164.5 L1578.0,164.1 L1579.5,163.7 L1581.0,163.3 L1582.5,162.9 L1584.0,162.5 L1585.5,162.1 L1587.0,161.7 L1588.5,161.3 L1590.0,160.9 L1591.5,160.5 L1593.0,160.1 L1594.5,159.7 L1596.0,159.4 L1597.5,159.0 L1599.0,158.6 L1600.5,158.2 L1602.0,157.9 L1603.5,157.5 L1605.0,157.1 L1606.5,156.8 L1608.0,156.4 L1609.5,156.1 L1611.0,155.7 L1612.5,155.4 L1614.0,155.0 L1615.5,154.7 L1617.0,154.3 L1618.5,154.0 L1620.0,153.6 L1621.5,153.3 L1623.0,153.0 L1624.5,152.6 L1626.0,152.3 L1627.5,152.0 L1629.0,151.7 L1630.5,151.3 L1632.0,151.0 L1633.5,150.7 L1635.0,150.4 L1636.5,150.1 L1638.0,149.8 L1639.5,149.5 L1641.0,149.2 L1642.5,148.9 L1644.0,148.6 L1645.5,148.3 L1647.0,148.0 L1648.5,147.7 L1650.0,147.4 L1651.5,147.1 L1653.0,146.8 L1654.5,146.5 L1656.0,146.2 L1657.5,145.9 L1659.0,145.7 L1660.5,145.4 L1662.0,145.1 L1663.5,144.8 L1665.0,144.6 L1666.5,144.3 L1668.0,144.0 L1669.5,143.8 L1671.0,143.5 L1672.5,143.2 L1674.0,143.0 L1675.5,142.7 L1677.0,142.5 L1678.5,142.2 L1680.0,142.0 L1681.5,141.7 L1683.0,141.5 L1684.5,141.2 L1686.0,141.0 L1687.5,140.7 L1689.0,140.5 L1690.5,140.2 L1692.0,140.0 L1693.5,139.8 L1695.0,139.5 L1696.5,139.3 L1698.0,139.1 L1699.5,138.8 L1701.0,138.6 L1702.5,138.4 L1704.0,138.2 L1705.5,137.9 L1707.0,137.7 L1708.5,137.5 L1710.0,137.3 L1711.5,137.0 L1713.0,136.8 L1714.5,136.6 L1716.0,136.4 L1717.5,136.2 L1719.0,136.0 L1720.5,135.8 L1722.0,135.6 L1723.5,135.4 L1725.0,135.1 L1726.5,134.9 L1728.0,134.7 L1729.5,134.5 L1731.0,134.3 L1732.5,134.1 L1734.0,133.9 L1735.5,133.7 L1737.0,133.5 L1738.5,133.3 L1740.0,133.1 L1741.5,133.0 L1743.0,132.8 L1744.5,132.6 L1746.0,132.4 L1747.5,132.2 L1749.0,132.0 L1750.5,131.8 L1752.0,131.6 L1753.5,131.4 L1755.0,131.3 L1756.5,131.1 L1758.0,130.9 L1759.5,130.7 L1761.0,130.5 L1762.5,130.3 L1764.0,130.2 L1765.5,130.0 L1767.0,129.8 L1768.5,129.6 L1770.0,129.5 L1771.5,129.3 L1773.0,129.1 L1774.5,128.9 L1776.0,128.8 L1777.5,128.6 L1779.0,128.4 L1780.5,128.2 L1782.0,128.1 L1783.5,127.9 L1785.0,127.7 L1786.5,127.6 L1788.0,127.4 L1789.5,127.2 L1791.0,127.1 L1792.5,126.9 L1794.0,126.7 L1795.5,126.6 L1797.0,126.4 L1798.5,126.2 L1800.0,126.1 L1801.5,125.9 L1803.0,125.7 L1804.5,125.6 L1806.0,125.4 L1807.5,125.2 L1809.0,125.1 L1810.5,124.9 L1812.0,124.8 L1813.5,124.6 L1815.0,124.4 L1816.5,124.3 L1818.0,124.1 L1819.5,123.9 L1821.0,123.8 L1822.5,123.6 L1824.0,123.5 L1825.5,123.3 L1827.0,123.1 L1828.5,123.0 L1830.0,122.8"/>
<path stroke="#00f" d="M196.0,33.9 C202.2,34.1 208.6,34.0 214.6,34.6 C220.3,35.2 225.3,36.1 231.0,37.3 C237.5,38.7 245.3,40.7 251.6,42.8 C257.1,44.7 262.8,48.7 266.7,49.0 C269.2,49.2 270.8,47.1 272.8,47.4 C274.9,47.8 276.7,50.9 279.0,51.7 C281.3,52.5 283.7,52.0 286.5,52.5 C290.3,53.2 294.7,54.3 299.5,55.8 C305.6,57.7 313.2,60.8 320.0,63.3 L330.0,65.0 L331.5,65.1 L333.0,65.1 L334.5,65.1 L336.0,65.1 L337.5,65.0 L339.0,64.9 L340.5,64.7 L342.0,64.6 L343.5,64.4 L345.0,64.2 L346.5,63.9 L348.0,63.6 L349.5,63.3 L351.0,62.9 L352.5,62.5 L354.0,62.1 L355.5,61.7 L357.0,61.3 L358.5,60.8 L360.0,60.4 L361.5,59.9 L363.0,59.4 L364.5,58.9 L366.0,58.4 L367.5,57.9 L369.0,57.4 L370.5,56.9 L372.0,56.5 L373.5,56.0 L375.0,55.5 L376.5,55.1 L378.0,54.7 L379.5,54.3 L381.0,53.9 L382.5,53.5 L384.0,53.2 L385.5,52.9 L387.0,52.6 L388.5,52.4 L390.0,52.2 L391.5,52.0 L393.0,51.9 L394.5,51.8 L396.0,51.8 L397.5,51.7 L399.0,51.7 L400.5,51.7 L402.0,51.8 L403.5,51.8 L405.0,51.9 L406.5,52.0 L408.0,52.1 L409.5,52.2 L411.0,52.3 L412.5,52.4 L414.0,52.6 L415.5,52.7 L417.0,52.8 L418.5,53.0 L420.0,53.1 L421.5,53.2 L423.0,53.4 L424.5,53.5 L426.0,53.6 L427.5,53.8 L429.0,53.9 L430.5,54.0 L432.0,54.2 L433.5,54.3 L435.0,54.4 L436.5,54.6 L438.0,54.7 L439.5,54.8 L441.0,55.0 L442.5,55.1 L444.0,55.3 L445.5,55.4 L447.0,55.5 L448.5,55.7 L450.0,55.8 L451.5,55.9 L453.0,56.1 L454.5,56.2 L456.0,56.4 L457.5,56.5 L459.0,56.6 L460.5,56.8 L462.0,56.9 L463.5,57.1 L465.0,57.2 L466.5,57.4 L468.0,57.5 L469.5,57.6 L471.0,57.8 L472.5,57.9 L474.0,58.1 L475.5,58.2 L477.0,58.4 L478.5,58.5 L480.0,58.7 L481.5,58.8 L483.0,59.0 L484.5,59.1 L486.0,59.3 L487.5,59.4 L489.0,59.6 L490.5,59.7 L492.0,59.9 L493.5,60.0 L495.0,60.2 L496.5,60.4 L498.0,60.5 L499.5,60.7 L501.0,60.8 L502.5,61.0 L504.0,61.1 L505.5,61.3 L507.0,61.5 L508.5,61.6 L510.0,61.8 L511.5,62.0 L513.0,62.1 L514.5,62.3 L516.0,62.5 L517.5,62.6 L519.0,62.8 L520.5,63.0 L522.0,63.1 L523.5,63.3 L525.0,63.5 L526.5,63.6 L528.0,63.8 L529.5,64.0 L531.0,64.2 L532.5,64.3 L534.0,64.5 L535.5,64.7 L537.0,64.9 L538.5,65.1 L540.0,65.3 L541.5,65.4 L543.0,65.6 L544.5,65.8 L546.0,66.0 L547.5,66.2 L549.0,66.4 L550.5,66.6 L552.0,66.8 L553.5,67.0 L555.0,67.1 L556.5,67.3 L558.0,67.5 L559.5,67.7 L561.0,67.9 L562.5,68.1 L564.0,68.3 L565.5,68.5 L567.0,68.8 L568.5,69.0 L570.0,69.2 L571.5,69.4 L573.0,69.6 L574.5,69.8 L576.0,70.0 L577.5,70.2 L579.0,70.4 L580.5,70.7 L582.0,70.9 L583.5,71.1 L585.0,71.3 L586.5,71.5 L588.0,71.8 L589.5,72.0 L591.0,72.2 L592.5,72.5 L594.0,72.7 L595.5,72.9 L597.0,73.2 L598.5,73.4 L600.0,73.6 L601.5,73.9 L603.0,74.1 L604.5,74.3 L606.0,74.6 L607.5,74.8 L609.0,75.1 L610.5,75.3 L612.0,75.6 L613.5,75.8 L615.0,76.1 L616.5,76.3 L618.0,76.6 L619.5,76.9 L621.0,77.1 L622.5,77.4 L624.0,77.7 L625.5,77.9 L627.0,78.2 L628.5,78.5 L630.0,78.7 L631.5,79.0 L633.0,79.3 L634.5,79.6 L636.0,79.8 L637.5,80.1 L639.0,80.4 L640.5,80.7 L642.0,81.0 L643.5,81.3 L645.0,81.6 L646.5,81.9 L648.0,82.2 L649.5,82.5 L651.0,82.8 L652.5,83.1 L654.0,83.4 L655.5,83.7 L657.0,84.0 L658.5,84.4 L660.0,84.7 L661.5,85.0 L663.0,85.3 L664.5,85.7 L666.0,86.0 L667.5,86.3 L669.0,86.7 L670.5,87.0 L672.0,87.4 L673.5,87.7 L675.0,88.1 L676.5,88.4 L678.0,88.8 L679.5,89.2 L681.0,89.5 L682.5,89.9 L684.0,90.3 L685.5,90.7 L687.0,91.0 L688.5,91.4 L690.0,91.8 L691.5,92.2 L693.0,92.6 L694.5,93.0 L696.0,93.4 L697.5,93.8 L699.0,94.3 L700.5,94.7 L702.0,95.1 L703.5,95.5 L705.0,95.9 L706.5,96.4 L708.0,96.8 L709.5,97.3 L711.0,97.7 L712.5,98.2 L714.0,98.6 L715.5,99.1 L717.0,99.6 L718.5,100.0 L720.0,100.5 L721.5,101.0 L723.0,101.5 L724.5,102.0 L726.0,102.4 L727.5,102.9 L729.0,103.4 L730.5,104.0 L732.0,104.5 L733.5,105.0 L735.0,105.5 L736.5,106.0 L738.0,106.6 L739.5,107.1 L741.0,107.7 L742.5,108.2 L744.0,108.8 L745.5,109.3 L747.0,109.9 L748.5,110.5 L750.0,111.1 L751.5,111.6 L753.0,112.2 L754.5,112.8 L756.0,113.4 L757.5,114.0 L759.0,114.6 L760.5,115.3 L762.0,115.9 L763.5,116.5 L765.0,117.1 L766.5,117.8 L768.0,118.4 L769.5,119.1 L771.0,119.7 L772.5,120.4 L774.0,121.1 L775.5,121.7 L777.0,122.4 L778.5,123.1 L780.0,123.8 L781.5,124.5 L783.0,125.2 L784.5,125.9 L786.0,126.6 L787.5,127.4 L789.0,128.1 L790.5,128.8 L792.0,129.6 L793.5,130.3 L795.0,131.1 L796.5,131.8 L798.0,132.6 L799.5,133.3 L801.0,134.1 L802.5,134.9 L804.0,135.7 L805.5,136.5 L807.0,137.3 L808.5,138.1 L810.0,138.9 L811.5,139.7 L813.0,140.5 L814.5,141.3 L816.0,142.2 L817.5,143.0 L819.0,143.9 L820.5,144.7 L822.0,145.6 L823.5,146.4 L825.0,147.3 L826.5,148.2 L828.0,149.1 L829.5,150.0 L831.0,150.9 L832.5,151.8 L834.0,152.7 L835.5,153.6 L837.0,154.5 L838.5,155.4 L840.0,156.3 L841.5,157.3 L843.0,158.2 L844.5,159.2 L846.0,160.1 L847.5,161.1 L849.0,162.1 L850.5,163.0 L852.0,164.0 L853.5,165.0 L855.0,166.0 L856.5,167.0 L858.0,168.0 L859.5,169.0 L861.0,170.0 L862.5,171.0 L864.0,172.1 L865.5,173.1 L867.0,174.1 L868.5,175.2 L870.0,176.2 L871.5,177.3 L873.0,178.4 L874.5,179.4 L876.0,180.5 L877.5,181.6 L879.0,182.7 L880.5,183.8 L882.0,184.9 L883.5,186.0 L885.0,187.1 L886.5,188.2 L888.0,189.3 L889.5,190.4 L891.0,191.6 L892.5,192.7 L894.0,193.8 L895.5,195.0 L897.0,196.1 L898.5,197.3 L900.0,198.4 L901.5,199.6 L903.0,200.8 L904.5,201.9 L906.0,203.1 L907.5,204.3 L909.0,205.5 L910.5,206.7 L912.0,207.9 L913.5,209.1 L915.0,210.3 L916.5,211.5 L918.0,212.7 L919.5,213.9 L921.0,215.1 L922.5,216.3 L924.0,217.6 L925.5,218.8 L927.0,220.0 L928.5,221.3 L930.0,222.5 L931.5,223.7 L933.0,225.0 L934.5,226.2 L936.0,227.5 L937.5,228.7 L939.0,230.0 L940.5,231.3 L942.0,232.5 L943.5,233.8 L945.0,235.1 L946.5,236.4 L948.0,237.6 L949.5,238.9 L951.0,240.2 L952.5,241.5 L954.0,242.8 L955.5,244.1 L957.0,245.3 L958.5,246.6 L960.0,247.9 L961.5,249.2 L963.0,250.5 L964.5,251.8 L966.0,253.2 L967.5,254.5 L969.0,255.8 L970.5,257.1 L972.0,258.4 L973.5,259.7 L975.0,261.0 L976.5,262.4 L978.0,263.7 L979.5,265.0 L981.0,266.3 L982.5,267.6 L984.0,269.0 L985.5,270.3 L987.0,271.6 L988.5,273.0 L990.0,274.3 L991.5,275.6 L993.0,277.0 L994.5,278.3 L996.0,279.6 L997.5,281.0 L999.0,282.3 L1000.5,283.6 L1002.0,284.9 L1003.5,286.3 L1005.0,287.6 L1006.5,288.9 L1008.0,290.2 L1009.5,291.5 L1011.0,292.8 L1012.5,294.2 L1014.0,295.5 L1015.5,296.8 L1017.0,298.1 L1018.5,299.4 L1020.0,300.6 L1021.5,301.9 L1023.0,303.2 L1024.5,304.5 L1026.0,305.7 L1027.5,307.0 L1029.0,308.3 L1030.5,309.5 L1032.0,310.8 L1033.5,312.0 L1035.0,313.2 L1036.5,314.4 L1038.0,315.7 L1039.5,316.9 L1041.0,318.1 L1042.5,319.2 L1044.0,320.4 L1045.5,321.6 L1047.0,322.7 L1048.5,323.9 L1050.0,325.0 L1051.5,326.2 L1053.0,327.3 L1054.5,328.4 L1056.0,329.5 L1057.5,330.6 L1059.0,331.7 L1060.5,332.7 L1062.0,333.8 L1063.5,334.8 L1065.0,335.9 L1066.5,336.9 L1068.0,337.9 L1069.5,338.9 L1071.0,339.8 L1072.5,340.8 L1074.0,341.7 L1075.5,342.7 L1077.0,343.6 L1078.5,344.5 L1080.0,345.4 L1081.5,346.3 L1083.0,347.1 L1084.5,348.0 L1086.0,348.8 L1087.5,349.6 L1089.0,350.4 L1090.5,351.2 L1092.0,351.9 L1093.5,352.7 L1095.0,353.4 L1096.5,354.1 L1098.0,354.8 L1099.5,355.4 L1101.0,356.1 L1102.5,356.7 L1104.0,357.3 L1105.5,357.9 L1107.0,358.5 L1108.5,359.0 L1110.0,359.5 L1111.5,360.1 L1113.0,360.5 L1114.5,361.0 L1116.0,361.4 L1117.5,361.8 L1119.0,362.2 L1120.5,362.6 L1122.0,362.9 L1123.5,363.3 L1125.0,363.5 L1126.5,363.8 L1128.0,364.1 L1129.5,364.3 L1131.0,364.5 L1132.5,364.6 L1134.0,364.8 L1135.5,364.9 L1137.0,365.0 L1138.5,365.0 L1140.0,365.1 L1141.5,365.1 L1143.0,365.0 L1144.5,365.0 L1146.0,364.9 L1147.5,364.8 L1149.0,364.6 L1150.5,364.5 L1152.0,364.3 L1153.5,364.0 L1155.0,363.8 L1156.5,363.5 L1158.0,363.2 L1159.5,362.8 L1161.0,362.4 L1162.5,362.0 L1164.0,361.6 L1165.5,361.1 L1167.0,360.6 L1168.5,360.0 L1170.0,359.5 L1171.5,358.8 L1173.0,358.2 L1174.5,357.5 L1176.0,356.8 L1177.5,356.1 L1179.0,355.3 L1180.5,354.5 L1182.0,353.7 L1183.5,352.9 L1185.0,352.0 L1186.5,351.1 L1188.0,350.2 L1189.5,349.3 L1191.0,348.4 L1192.5,347.5 L1194.0,346.5 L1195.5,345.6 L1197.0,344.7 L1198.5,343.7 L1200.0,342.8 L1201.5,341.9 L1203.0,341.0 L1204.5,340.0 L1206.0,339.1 L1207.5,338.2 L1209.0,337.3 L1210.5,336.4 L1212.0,335.5 L1213.5,334.6 L1215.0,333.7 L1216.5,332.8 L1218.0,332.0 L1219.5,331.1 L1221.0,330.2 L1222.5,329.3 L1224.0,328.5 L1225.5,327.6 L1227.0,326.7 L1228.5,325.9 L1230.0,325.0 L1231.5,324.1 L1233.0,323.3 L1234.5,322.4 L1236.0,321.6 L1237.5,320.7 L1239.0,319.9 L1240.5,319.0 L1242.0,318.1 L1243.5,317.3 L1245.0,316.4 L1246.5,315.6 L1248.0,314.7 L1249.5,313.8 L1251.0,313.0 L1252.5,312.1 L1254.0,311.3 L1255.5,310.4 L1257.0,309.5 L1258.5,308.7 L1260.0,307.8 L1261.5,306.9 L1263.0,306.0 L1264.5,305.2 L1266.0,304.3 L1267.5,303.4 L1269.0,302.5 L1270.5,301.6 L1272.0,300.7 L1273.5,299.8 L1275.0,298.9 L1276.5,298.0 L1278.0,297.1 L1279.5,296.1 L1281.0,295.2 L1282.5,294.3 L1284.0,293.3 L1285.5,292.4 L1287.0,291.5 L1288.5,290.5 L1290.0,289.5 L1291.5,288.6 L1293.0,287.6 L1294.5,286.6 L1296.0,285.6 L1297.5,284.6 L1299.0,283.6 L1300.5,282.6 L1302.0,281.6 L1303.5,280.6 L1305.0,279.5 L1306.5,278.5 L1308.0,277.4 L1309.5,276.4 L1311.0,275.3 L1312.5,274.2 L1314.0,273.1 L1315.5,272.0 L1317.0,270.9 L1318.5,269.8 L1320.0,268.7 L1321.5,267.5 L1323.0,266.4 L1324.5,265.2 L1326.0,264.0 L1327.5,262.8 L1329.0,261.6 L1330.5,260.4 L1332.0,259.2 L1333.5,258.0 L1335.0,256.8 L1336.5,255.5 L1338.0,254.3 L1339.5,253.1 L1341.0,251.9 L1342.5,250.6 L1344.0,249.4 L1345.5,248.3 L1347.0,247.1 L1348.5,246.0 L1350.0,244.8 L1351.5,243.7 L1353.0,242.7 L1354.5,241.6 L1356.0,240.6 L1357.5,239.6 L1359.0,238.6 L1360.5,237.7 L1362.0,236.7 L1363.5,235.8 L1365.0,234.9 L1366.5,234.0 L1368.0,233.2 L1369.5,232.3 L1371.0,231.5 L1372.5,230.6 L1374.0,229.8 L1375.5,229.0 L1377.0,228.3 L1378.5,227.5 L1380.0,226.7 L1381.5,225.9 L1383.0,225.2 L1384.5,224.5 L1386.0,223.7 L1387.5,223.0 L1389.0,222.3 L1390.5,221.5 L1392.0,220.8 L1393.5,220.1 L1395.0,219.4 L1396.5,218.6 L1398.0,217.9 L1399.5,217.2 L1401.0,216.5 L1402.5,215.7 L1404.0,215.0 L1405.5,214.3 L1407.0,213.5 L1408.5,212.8 L1410.0,212.1 L1411.5,211.3 L1413.0,210.6 L1414.5,209.9 L1416.0,209.1 L1417.5,208.4 L1419.0,207.7 L1420.5,207.0 L1422.0,206.2 L1423.5,205.5 L1425.0,204.8 L1426.5,204.1 L1428.0,203.4 L1429.5,202.7 L1431.0,202.0 L1432.5,201.4 L1434.0,200.7 L1435.5,200.0 L1437.0,199.3 L1438.5,198.7 L1440.0,198.0 L1441.5,197.3 L1443.0,196.7 L1444.5,196.0 L1446.0,195.4 L1447.5,194.7 L1449.0,194.1 L1450.5,193.5 L1452.0,192.8 L1453.5,192.2 L1455.0,191.6 L1456.5,191.0 L1458.0,190.3 L1459.5,189.7 L1461.0,189.1 L1462.5,188.5 L1464.0,187.9 L1465.5,187.3 L1467.0,186.7 L1468.5,186.1 L1470.0,185.6 L1471.5,185.0 L1473.0,184.4 L1474.5,183.8 L1476.0,183.3 L1477.5,182.7 L1479.0,182.1 L1480.5,181.6 L1482.0,181.0 L1483.5,180.5 L1485.0,179.9 L1486.5,179.4 L1488.0,178.8 L1489.5,178.3 L1491.0,177.8 L1492.5,177.2 L1494.0,176.7 L1495.5,176.2 L1497.0,175.7 L1498.5,175.2 L1500.0,174.6 L1501.5,174.1 L1503.0,173.6 L1504.5,173.1 L1506.0,172.6 L1507.5,172.1 L1509.0,171.6 L1510.5,171.2 L1512.0,170.7 L1513.5,170.2 L1515.0,169.7 L1516.5,169.2 L1518.0,168.8 L1519.5,168.3 L1521.0,167.8 L1522.5,167.4 L1524.0,166.9 L1525.5,166.5 L1527.0,166.0 L1528.5,165.6 L1530.0,165.1 L1531.5,164.7 L1533.0,164.2 L1534.5,163.8 L1536.0,163.4 L1537.5,162.9 L1539.0,162.5 L1540.5,162.1 L1542.0,161.7 L1543.5,161.3 L1545.0,160.8 L1546.5,160.4 L1548.0,160.0 L1549.5,159.6 L1551.0,159.2 L1552.5,158.8 L1554.0,158.4 L1555.5,158.0 L1557.0,157.6 L1558.5,157.2 L1560.0,156.9 L1561.5,156.5 L1563.0,156.1 L1564.5,155.7 L1566.0,155.3 L1567.5,155.0 L1569.0,154.6 L1570.5,154.2 L1572.0,153.9 L1573.5,153.5 L1575.0,153.2 L1576.5,152.8 L1578.0,152.4 L1579.5,152.1 L1581.0,151.8 L1582.5,151.4 L1584.0,151.1 L1585.5,150.7 L1587.0,150.4 L1588.5,150.1 L1590.0,149.7 L1591.5,149.4 L1593.0,149.1 L1594.5,148.7 L1596.0,148.4 L1597.5,148.1 L1599.0,147.8 L1600.5,147.5 L1602.0,147.1 L1603.5,146.8 L1605.0,146.5 L1606.5,146.2 L1608.0,145.9 L1609.5,145.6 L1611.0,145.3 L1612.5,145.0 L1614.0,144.7 L1615.5,144.4 L1617.0,144.1 L1618.5,143.9 L1620.0,143.6 L1621.5,143.3 L1623.0,143.0 L1624.5,142.7 L1626.0,142.4 L1627.5,142.2 L1629.0,141.9 L1630.5,141.6 L1632.0,141.4 L1633.5,141.1 L1635.0,140.8 L1636.5,140.6 L1638.0,140.3 L1639.5,140.0 L1641.0,139.8 L1642.5,139.5 L1644.0,139.3 L1645.5,139.0 L1647.0,138.8 L1648.5,138.5 L1650.0,138.3 L1651.5,138.0 L1653.0,137.8 L1654.5,137.6 L1656.0,137.3 L1657.5,137.1 L1659.0,136.8 L1660.5,136.6 L1662.0,136.4 L1663.5,136.1 L1665.0,135.9 L1666.5,135.7 L1668.0,135.5 L1669.5,135.2 L1671.0,135.0 L1672.5,134.8 L1674.0,134.6 L1675.5,134.4 L1677.0,134.1 L1678.5,133.9 L1680.0,133.7 L1681.5,133.5 L1683.0,133.3 L1684.5,133.1 L1686.0,132.9 L1687.5,132.7 L1689.0,132.5 L1690.5,132.3 L1692.0,132.1 L1693.5,131.9 L1695.0,131.7 L1696.5,131.5 L1698.0,131.3 L1699.5,131.1 L1701.0,130.9 L1702.5,130.7 L1704.0,130.5 L1705.5,130.3 L1707.0,130.1 L1708.5,129.9 L1710.0,129.7 L1711.5,129.6 L1713.0,129.4 L1714.5,129.2 L1716.0,129.0 L1717.5,128.8 L1719.0,128.6 L1720.5,128.5 L1722.0,128.3 L1723.5,128.1 L1725.0,127.9 L1726.5,127.8 L1728.0,127.6 L1729.5,127.4 L1731.0,127.2 L1732.5,127.1 L1734.0,126.9 L1735.5,126.7 L1737.0,126.5 L1738.5,126.4 L1740.0,126.2 L1741.5,126.0 L1743.0,125.9 L1744.5,125.7 L1746.0,125.6 L1747.5,125.4 L1749.0,125.2 L1750.5,125.1 L1752.0,124.9 L1753.5,124.7 L1755.0,124.6 L1756.5,124.4 L1758.0,124.3 L1759.5,124.1 L1761.0,123.9 L1762.5,123.8 L1764.0,123.6 L1765.5,123.5 L1767.0,123.3 L1768.5,123.2 L1770.0,123.0 L1771.5,122.9 L1773.0,122.7 L1774.5,122.6 L1776.0,122.4 L1777.5,122.2 L1779.0,122.1 L1780.5,121.9 L1782.0,121.8 L1783.5,121.6 L1785.0,121.5 L1786.5,121.3 L1788.0,121.2 L1789.5,121.0 L1791.0,120.9 L1792.5,120.7 L1794.0,120.6 L1795.5,120.4 L1797.0,120.3 L1798.5,120.2 L1800.0,120.0 L1801.5,119.9 L1803.0,119.7 L1804.5,119.6 L1806.0,119.4 L1807.5,119.3 L1809.0,119.1 L1810.5,119.0 L1812.0,118.8 L1813.5,118.7 L1815.0,118.5 L1816.5,118.4 L1818.0,118.2 L1819.5,118.1 L1821.0,117.9 L1822.5,117.8 L1824.0,117.6 L1825.5,117.5 L1827.0,117.3 L1828.5,117.2 L1830.0,117.0"/>
<path stroke="#f00" d="M196.0,33.9 C202.2,34.1 208.6,34.0 214.6,34.6 C220.3,35.2 225.3,36.1 231.0,37.3 C237.5,38.7 245.3,40.7 251.6,42.8 C257.1,44.7 262.8,48.7 266.7,49.0 C269.2,49.2 270.8,47.1 272.8,47.4 C274.9,47.8 276.8,50.3 279.0,51.7 C281.4,53.2 283.9,55.7 286.5,56.0 C288.9,56.3 291.2,54.5 294.0,53.7 C297.6,52.7 301.7,51.5 306.4,50.3 C312.4,48.8 320.1,47.1 326.9,45.5 C333.7,43.9 340.5,42.2 347.4,40.7 C354.2,39.2 361.1,37.4 368.0,36.6 C374.8,35.8 380.8,35.7 388.5,35.7 C398.4,35.7 411.9,36.6 422.7,36.9 C432.3,37.2 438.2,37.3 450.0,37.6 C471.5,38.2 511.7,39.5 541.0,40.2 C568.3,40.9 595.5,41.2 620.0,41.8 C641.4,42.3 665.4,42.9 680.0,43.5 C688.5,43.8 692.2,44.0 700.0,44.5 C711.0,45.1 728.4,46.4 740.0,47.2 C748.8,47.8 755.9,47.9 763.4,48.7 C770.5,49.4 777.9,50.6 784.1,51.7 C789.2,52.6 794.0,53.5 798.0,54.6 C801.1,55.4 803.4,56.2 806.0,57.3 C808.6,58.4 811.0,59.5 813.6,61.3 C816.8,63.5 820.0,66.3 823.7,70.0 C828.9,75.2 836.3,82.6 841.1,90.0 C846.0,97.6 849.1,105.3 852.6,115.0 C857.1,127.6 861.2,145.4 864.3,160.0 C867.2,173.7 868.8,184.0 871.1,200.0 C874.5,224.0 878.8,264.4 881.3,290.0 C883.1,309.1 883.9,321.4 885.3,340.0 C887.0,363.3 889.2,391.1 890.6,419.0 C892.1,450.4 892.7,483.5 893.6,519.0 C894.6,559.5 894.7,604.8 896.0,649.0 C897.4,695.1 900.0,742.5 902.0,790.0 C904.0,838.5 905.7,888.0 908.0,937.0 C910.3,986.0 914.3,1038.3 915.6,1084.0 C916.8,1123.9 915.0,1163.5 916.3,1196.0 C917.3,1221.2 919.6,1243.5 921.3,1263.0 C922.6,1278.1 924.0,1292.0 925.2,1303.0 C926.0,1310.7 926.8,1322.5 927.6,1322.5 C928.4,1322.5 929.1,1310.7 930.0,1303.0 C931.3,1292.0 933.2,1278.1 934.6,1263.0 C936.4,1243.5 938.3,1221.2 939.6,1196.0 C941.3,1163.5 941.9,1123.9 943.1,1084.0 C944.5,1038.3 945.6,986.0 947.5,937.0 C949.4,888.0 952.1,838.5 954.5,790.0 C956.9,742.5 959.5,695.0 962.0,649.0 C964.4,604.8 966.5,559.5 969.3,519.0 C971.7,483.5 974.2,450.3 977.3,419.0 C980.0,391.1 983.0,363.3 986.4,340.0 C989.1,321.4 991.3,309.0 995.1,290.0 C1000.2,264.3 1007.7,223.8 1015.1,200.0 C1020.2,183.7 1024.6,172.5 1031.4,160.0 C1038.1,147.6 1046.2,135.1 1055.5,125.0 C1064.4,115.3 1077.1,105.8 1085.5,100.0 C1091.0,96.2 1094.2,94.7 1100.0,92.0 C1108.1,88.2 1119.9,83.4 1130.0,80.3 C1139.9,77.3 1149.4,75.3 1160.0,73.5 C1171.9,71.5 1184.3,70.9 1198.0,69.5 C1214.0,67.8 1232.8,65.5 1250.0,64.2 C1266.8,63.0 1283.3,62.5 1300.0,62.0 C1316.7,61.5 1333.3,61.3 1350.0,61.0 C1366.7,60.7 1380.5,60.3 1400.0,60.2 C1427.6,60.0 1466.3,60.3 1500.0,60.4 C1534.6,60.5 1570.9,60.7 1605.0,61.0 C1637.5,61.3 1665.9,61.5 1700.0,62.0 C1739.9,62.5 1786.7,63.4 1830.0,64.1"/>
<path stroke="#f00" d="M196.0,33.9 C202.2,34.1 208.6,34.0 214.6,34.6 C220.3,35.2 225.3,36.1 231.0,37.3 C237.5,38.7 245.3,40.7 251.6,42.8 C257.1,44.7 262.8,48.7 266.7,49.0 C269.2,49.2 270.8,47.1 272.8,47.4 C274.9,47.8 276.8,50.3 279.0,51.7 C281.4,53.2 283.9,55.7 286.5,56.0 C288.9,56.3 291.2,54.5 294.0,53.7 C297.6,52.7 301.7,51.5 306.4,50.3 C312.4,48.8 320.1,47.1 326.9,45.5 C333.7,43.9 340.5,42.2 347.4,40.7 C354.2,39.2 361.1,37.4 368.0,36.6 C374.8,35.8 380.8,35.7 388.5,35.7 C398.4,35.7 411.9,36.6 422.7,36.9 C432.3,37.2 438.2,37.3 450.0,37.6 C471.5,38.2 511.7,39.5 541.0,40.2 C568.3,40.9 595.5,41.2 620.0,41.8 C641.4,42.3 665.4,42.9 680.0,43.5 C688.5,43.8 692.5,44.0 700.0,44.5 C709.8,45.1 723.7,46.0 734.0,47.1 C742.7,48.0 750.4,49.1 758.0,50.2 C765.0,51.2 771.8,52.1 778.0,53.4 C783.4,54.6 788.0,55.2 793.0,57.6 C798.9,60.4 805.3,64.9 810.5,70.0 C816.1,75.5 820.7,82.7 824.9,90.0 C829.3,97.7 832.6,105.3 836.0,115.0 C840.4,127.7 844.5,145.4 847.5,160.0 C850.3,173.7 851.7,184.0 853.8,200.0 C857.0,224.0 861.4,264.4 863.6,290.0 C865.2,309.1 865.5,321.4 866.8,340.0 C868.4,363.3 871.1,391.1 872.7,419.0 C874.5,450.4 875.6,483.5 876.7,519.0 C878.0,559.5 878.2,604.8 879.7,649.0 C881.2,695.1 884.2,742.5 885.7,790.0 C887.2,838.5 887.3,888.0 888.7,937.0 C890.2,986.0 893.3,1038.3 894.4,1084.0 C895.4,1123.9 894.2,1163.5 895.6,1196.0 C896.7,1221.2 899.0,1243.5 900.6,1263.0 C901.9,1278.0 903.1,1292.0 904.3,1303.0 C905.1,1310.7 905.9,1322.5 906.7,1322.5 C907.5,1322.5 908.3,1310.7 909.1,1303.0 C910.3,1292.0 911.7,1278.1 913.0,1263.0 C914.7,1243.5 916.8,1221.2 918.0,1196.0 C919.5,1163.5 918.7,1123.9 920.1,1084.0 C921.7,1038.3 925.3,986.0 927.5,937.0 C929.7,888.0 931.2,838.5 933.5,790.0 C935.7,742.5 937.9,695.0 941.0,649.0 C943.9,604.8 948.2,559.5 951.4,519.0 C954.2,483.5 956.3,450.3 959.4,419.0 C962.2,391.1 965.0,363.3 968.7,340.0 C971.7,321.4 974.8,309.1 978.7,290.0 C983.9,264.4 989.5,223.6 997.3,200.0 C1002.7,183.6 1008.8,172.6 1016.0,160.0 C1023.1,147.6 1030.8,135.2 1040.0,125.0 C1048.7,115.3 1060.8,105.9 1069.3,100.0 C1075.1,96.0 1079.8,94.0 1085.0,91.5 C1090.0,89.1 1094.0,87.1 1100.0,85.0 C1108.2,82.2 1117.9,79.5 1130.0,77.1 C1148.0,73.5 1176.8,69.9 1198.0,67.5 C1216.5,65.4 1232.8,64.1 1250.0,63.0 C1266.8,61.9 1283.3,61.4 1300.0,60.9 C1316.7,60.4 1333.3,60.3 1350.0,60.0 C1366.7,59.8 1380.5,59.5 1400.0,59.4 C1427.6,59.3 1466.3,59.5 1500.0,59.6 C1534.6,59.8 1570.9,60.0 1605.0,60.3 C1637.5,60.6 1665.9,60.9 1700.0,61.4 C1739.9,61.9 1786.7,62.8 1830.0,63.5"/>
<path stroke="#f00" d="M196.0,33.9 C202.2,34.1 208.6,34.0 214.6,34.6 C220.3,35.2 225.3,36.1 231.0,37.3 C237.5,38.7 245.3,40.7 251.6,42.8 C257.1,44.7 262.8,48.7 266.7,49.0 C269.2,49.2 270.8,47.1 272.8,47.4 C274.9,47.8 276.8,50.3 279.0,51.7 C281.4,53.2 283.9,55.7 286.5,56.0 C288.9,56.3 291.2,54.5 294.0,53.7 C297.6,52.7 301.7,51.5 306.4,50.3 C312.4,48.8 320.1,47.1 326.9,45.5 C333.7,43.9 340.5,42.2 347.4,40.7 C354.2,39.2 361.1,37.4 368.0,36.6 C374.8,35.8 380.8,35.7 388.5,35.7 C398.4,35.7 411.9,36.6 422.7,36.9 C432.3,37.2 438.2,37.3 450.0,37.6 C471.5,38.2 511.7,39.5 541.0,40.2 C568.3,40.9 595.5,41.2 620.0,41.8 C641.4,42.3 665.4,42.9 680.0,43.5 C688.5,43.8 692.8,44.0 700.0,44.5 C708.6,45.1 719.5,46.0 728.0,47.0 C735.2,47.8 741.5,48.9 748.0,49.9 C754.2,50.9 760.5,51.7 766.0,53.0 C770.7,54.1 774.5,54.8 779.0,57.0 C784.8,59.9 792.0,64.7 797.2,70.0 C802.7,75.6 807.0,82.7 810.9,90.0 C815.0,97.7 817.8,105.3 820.9,115.0 C824.9,127.7 828.7,145.4 831.7,160.0 C834.5,173.7 836.2,184.0 838.3,200.0 C841.5,224.0 845.0,264.4 847.2,290.0 C848.8,309.1 849.7,321.4 850.8,340.0 C852.2,363.3 853.6,391.1 854.8,419.0 C856.2,450.4 857.4,483.5 858.7,519.0 C860.2,559.5 861.8,604.8 863.3,649.0 C864.8,695.0 866.7,742.5 867.8,790.0 C868.9,838.5 868.6,888.0 870.0,937.0 C871.4,986.0 874.7,1038.3 876.1,1084.0 C877.3,1123.9 877.0,1163.4 878.1,1196.0 C879.0,1221.2 880.2,1243.5 881.5,1263.0 C882.5,1278.1 883.8,1292.0 884.9,1303.0 C885.7,1310.7 886.5,1322.5 887.3,1322.5 C888.1,1322.5 888.9,1310.7 889.7,1303.0 C890.8,1292.0 891.9,1278.0 893.1,1263.0 C894.6,1243.5 896.9,1221.2 898.0,1196.0 C899.5,1163.5 898.2,1123.8 899.8,1084.0 C901.7,1038.3 907.3,986.0 909.6,937.0 C911.9,888.0 911.7,838.5 913.6,790.0 C915.5,742.5 917.9,695.0 921.0,649.0 C923.9,604.8 928.3,559.5 931.5,519.0 C934.3,483.5 935.9,450.3 939.4,419.0 C942.6,391.1 947.0,363.3 951.0,340.0 C954.2,321.4 956.8,309.1 961.0,290.0 C966.6,264.3 974.2,223.6 982.6,200.0 C988.4,183.6 994.6,172.6 1001.9,160.0 C1009.1,147.7 1016.7,135.1 1026.0,125.0 C1034.9,115.3 1046.4,106.2 1056.0,100.0 C1063.6,95.1 1070.6,92.7 1078.0,89.5 C1085.3,86.4 1092.0,83.5 1100.0,81.0 C1109.1,78.2 1117.9,76.2 1130.0,74.0 C1148.0,70.8 1176.8,67.6 1198.0,65.5 C1216.5,63.7 1232.8,62.7 1250.0,61.7 C1266.8,60.8 1283.3,60.2 1300.0,59.8 C1316.7,59.4 1333.3,59.3 1350.0,59.1 C1366.7,58.9 1380.5,58.7 1400.0,58.6 C1427.6,58.5 1466.3,58.7 1500.0,58.9 C1534.6,59.1 1570.9,59.3 1605.0,59.6 C1637.5,59.9 1665.9,60.2 1700.0,60.7 C1739.9,61.3 1786.7,62.2 1830.0,62.9"/>
<path stroke="#f00" d="M196.0,33.9 C202.2,34.1 208.6,34.0 214.6,34.6 C220.3,35.2 225.3,36.1 231.0,37.3 C237.5,38.7 245.3,40.7 251.6,42.8 C257.1,44.7 262.8,48.7 266.7,49.0 C269.2,49.2 270.8,47.1 272.8,47.4 C274.9,47.8 276.8,50.3 279.0,51.7 C281.4,53.2 283.9,55.7 286.5,56.0 C288.9,56.3 291.2,54.5 294.0,53.7 C297.6,52.7 301.7,51.5 306.4,50.3 C312.4,48.8 320.1,47.1 326.9,45.5 C333.7,43.9 340.5,42.2 347.4,40.7 C354.2,39.2 361.1,37.4 368.0,36.6 C374.8,35.8 380.8,35.7 388.5,35.7 C398.4,35.7 411.9,36.6 422.7,36.9 C432.3,37.2 438.2,37.3 450.0,37.6 C471.5,38.2 511.7,39.5 541.0,40.2 C568.3,40.9 595.5,41.2 620.0,41.8 C641.4,42.3 665.4,42.9 680.0,43.5 C688.5,43.8 693.2,44.0 700.0,44.5 C707.2,45.1 715.0,46.0 722.0,46.9 C728.3,47.7 734.3,48.6 740.0,49.6 C745.2,50.5 750.4,51.3 755.0,52.6 C759.0,53.7 762.1,54.4 766.0,56.5 C771.5,59.4 778.8,64.5 783.9,70.0 C789.2,75.6 793.1,82.8 796.9,90.0 C800.9,97.7 803.9,105.3 806.9,115.0 C810.8,127.7 814.1,145.4 816.9,160.0 C819.5,173.7 821.2,184.0 823.2,200.0 C826.3,224.0 829.9,264.4 832.0,290.0 C833.6,309.1 834.3,321.4 835.3,340.0 C836.6,363.3 837.6,391.1 838.8,419.0 C840.1,450.4 841.6,483.5 842.8,519.0 C844.1,559.5 844.7,604.8 846.2,649.0 C847.7,695.1 850.4,742.5 851.8,790.0 C853.3,838.5 853.7,888.0 854.8,937.0 C855.9,986.0 857.4,1038.3 858.4,1084.0 C859.3,1123.9 859.3,1163.4 860.5,1196.0 C861.4,1221.2 862.7,1243.5 864.0,1263.0 C865.0,1278.1 866.3,1292.0 867.4,1303.0 C868.2,1310.7 869.0,1322.5 869.8,1322.5 C870.6,1322.5 871.3,1310.7 872.2,1303.0 C873.5,1292.0 875.3,1278.1 876.5,1263.0 C878.0,1243.5 879.1,1221.2 879.8,1196.0 C880.7,1163.4 878.9,1123.8 880.5,1084.0 C882.4,1038.3 889.3,986.0 891.7,937.0 C894.1,888.0 893.3,838.5 894.7,790.0 C896.1,742.5 896.9,695.0 900.0,649.0 C903.0,604.7 908.5,559.5 912.5,519.0 C916.0,483.5 918.5,450.3 922.5,419.0 C926.1,391.1 931.2,363.3 935.0,340.0 C938.0,321.4 939.0,309.0 943.3,290.0 C949.2,264.2 960.2,223.7 969.4,200.0 C975.7,183.7 981.6,172.6 989.0,160.0 C996.3,147.6 1004.1,135.2 1013.4,125.0 C1022.3,115.3 1033.4,106.5 1043.5,100.0 C1052.3,94.3 1060.8,90.8 1070.0,87.0 C1079.6,83.1 1089.9,79.7 1100.0,77.0 C1109.9,74.3 1117.9,72.7 1130.0,70.8 C1148.0,68.0 1176.8,65.3 1198.0,63.5 C1216.5,62.0 1232.8,61.3 1250.0,60.5 C1266.8,59.7 1283.3,59.1 1300.0,58.7 C1316.7,58.3 1333.3,58.3 1350.0,58.1 C1366.7,58.0 1380.5,57.8 1400.0,57.8 C1427.6,57.8 1466.3,58.0 1500.0,58.1 C1534.6,58.3 1570.9,58.6 1605.0,58.9 C1637.5,59.2 1665.9,59.5 1700.0,60.0 C1739.9,60.6 1786.7,61.5 1830.0,62.3"/>
<path stroke="#f00" d="M196.0,33.9 C202.2,34.1 208.6,34.0 214.6,34.6 C220.3,35.2 225.3,36.1 231.0,37.3 C237.5,38.7 245.3,40.7 251.6,42.8 C257.1,44.7 262.8,48.7 266.7,49.0 C269.2,49.2 270.8,47.1 272.8,47.4 C274.9,47.8 276.8,50.3 279.0,51.7 C281.4,53.2 283.9,55.7 286.5,56.0 C288.9,56.3 291.2,54.5 294.0,53.7 C297.6,52.7 301.7,51.5 306.4,50.3 C312.4,48.8 320.1,47.1 326.9,45.5 C333.7,43.9 340.5,42.2 347.4,40.7 C354.2,39.2 361.1,37.4 368.0,36.6 C374.8,35.8 380.8,35.7 388.5,35.7 C398.4,35.7 411.9,36.6 422.7,36.9 C432.3,37.2 438.2,37.3 450.0,37.6 C471.5,38.2 511.7,39.5 541.0,40.2 C568.3,40.9 595.5,41.2 620.0,41.8 C641.4,42.3 665.4,42.9 680.0,43.5 C688.5,43.8 693.7,43.9 700.0,44.5 C705.6,45.0 710.9,46.0 716.0,46.8 C720.8,47.6 725.2,48.3 730.0,49.3 C735.1,50.4 740.9,52.0 745.7,53.3 C749.8,54.4 753.3,54.4 757.0,56.5 C761.8,59.2 767.0,64.8 771.4,70.0 C776.2,75.8 780.7,82.7 784.3,90.0 C788.1,97.7 790.8,105.3 793.6,115.0 C797.3,127.7 800.8,145.4 803.2,160.0 C805.5,173.7 806.4,184.0 808.1,200.0 C810.6,224.0 814.2,264.4 816.1,290.0 C817.5,309.1 818.2,321.4 819.1,340.0 C820.2,363.3 820.8,391.1 821.9,419.0 C823.1,450.4 824.7,483.5 825.9,519.0 C827.3,559.5 828.3,604.8 829.5,649.0 C830.8,695.0 832.3,742.5 833.5,790.0 C834.7,838.5 835.7,888.0 836.9,937.0 C838.1,986.0 839.7,1038.3 840.8,1084.0 C841.8,1123.9 842.5,1163.4 843.3,1196.0 C843.9,1221.2 844.4,1243.5 845.2,1263.0 C845.8,1278.0 846.5,1292.0 847.5,1303.0 C848.2,1310.7 849.1,1322.5 849.9,1322.5 C850.7,1322.5 851.6,1310.7 852.3,1303.0 C853.3,1292.0 853.9,1278.0 854.9,1263.0 C856.3,1243.5 858.8,1221.2 859.9,1196.0 C861.3,1163.5 859.8,1123.9 861.2,1084.0 C862.8,1038.3 867.8,986.0 869.8,937.0 C871.8,888.0 871.5,838.5 873.4,790.0 C875.3,742.5 878.2,695.0 881.0,649.0 C883.7,604.8 886.0,559.5 889.6,519.0 C892.7,483.4 896.9,450.4 900.6,419.0 C903.9,391.1 906.5,363.3 910.6,340.0 C913.9,321.3 916.8,309.0 921.8,290.0 C928.5,264.3 939.1,223.6 948.7,200.0 C955.3,183.6 961.6,172.6 969.5,160.0 C977.3,147.6 986.1,135.2 995.7,125.0 C1004.7,115.4 1014.4,106.8 1025.1,100.0 C1035.8,93.2 1047.8,88.5 1060.0,84.0 C1072.7,79.3 1087.6,75.4 1100.0,72.5 C1110.7,70.0 1117.9,68.5 1130.0,66.9 C1148.0,64.5 1176.8,62.8 1198.0,61.5 C1216.5,60.4 1232.8,59.9 1250.0,59.2 C1266.8,58.6 1283.3,57.9 1300.0,57.6 C1316.7,57.3 1333.3,57.3 1350.0,57.2 C1366.7,57.1 1380.5,57.0 1400.0,57.0 C1427.6,57.0 1466.3,57.2 1500.0,57.4 C1534.6,57.6 1570.9,57.9 1605.0,58.2 C1637.5,58.5 1665.9,58.9 1700.0,59.4 C1739.9,60.0 1786.7,60.9 1830.0,61.7"/>
</g>
<g fill="#262626" shape-rendering="crispEdges">
<rect x="194" y="30" width="1639" height="3"/>
<rect x="194" y="1322" width="1639" height="4"/>
<rect x="194" y="30" width="4" height="1296"/>
<rect x="1829" y="30" width="4" height="1296"/>
<rect x="194" y="1306" width="3" height="17"/>
<rect x="194" y="32" width="3" height="17"/>
<rect x="428" y="1306" width="3" height="17"/>
<rect x="428" y="32" width="3" height="17"/>
<rect x="662" y="1306" width="3" height="17"/>
<rect x="662" y="32" width="3" height="17"/>
<rect x="895" y="1306" width="3" height="17"/>
<rect x="895" y="32" width="3" height="17"/>
<rect x="1129" y="1306" width="3" height="17"/>
<rect x="1129" y="32" width="3" height="17"/>
<rect x="1362" y="1306" width="3" height="17"/>
<rect x="1362" y="32" width="3" height="17"/>
<rect x="1596" y="1306" width="3" height="17"/>
<rect x="1596" y="32" width="3" height="17"/>
<rect x="1829" y="1306" width="3" height="17"/>
<rect x="1829" y="32" width="3" height="17"/>
<rect x="197" y="1322" width="17" height="4"/>
<rect x="1813" y="1322" width="17" height="4"/>
<rect x="197" y="1193" width="17" height="4"/>
<rect x="1813" y="1193" width="17" height="4"/>
<rect x="197" y="1064" width="17" height="4"/>
<rect x="1813" y="1064" width="17" height="4"/>
<rect x="197" y="934" width="17" height="4"/>
<rect x="1813" y="934" width="17" height="4"/>
<rect x="197" y="805" width="17" height="4"/>
<rect x="1813" y="805" width="17" height="4"/>
<rect x="197" y="676" width="17" height="4"/>
<rect x="1813" y="676" width="17" height="4"/>
<rect x="197" y="547" width="17" height="4"/>
<rect x="1813" y="547" width="17" height="4"/>
<rect x="197" y="417" width="17" height="4"/>
<rect x="1813" y="417" width="17" height="4"/>
<rect x="197" y="288" width="17" height="4"/>
<rect x="1813" y="288" width="17" height="4"/>
<rect x="197" y="159" width="17" height="4"/>
<rect x="1813" y="159" width="17" height="4"/>
<rect x="197" y="30" width="17" height="4"/>
<rect x="1813" y="30" width="17" height="4"/>
</g>
<g fill="#262626" font-size="61">
<text transform="translate(174.6,1344.9) scale(1,1.04)" text-anchor="end">0</text>
<text transform="translate(174.6,1215.7) scale(1,1.04)" text-anchor="end">10</text>
<text transform="translate(174.6,1086.4) scale(1,1.04)" text-anchor="end">20</text>
<text transform="translate(174.6,957.2) scale(1,1.04)" text-anchor="end">30</text>
<text transform="translate(174.6,827.9) scale(1,1.04)" text-anchor="end">40</text>
<text transform="translate(174.6,698.7) scale(1,1.04)" text-anchor="end">50</text>
<text transform="translate(174.6,569.5) scale(1,1.04)" text-anchor="end">60</text>
<text transform="translate(174.6,440.2) scale(1,1.04)" text-anchor="end">70</text>
<text transform="translate(174.6,311.0) scale(1,1.04)" text-anchor="end">80</text>
<text transform="translate(174.6,181.7) scale(1,1.04)" text-anchor="end">90</text>
<text transform="translate(174.6,52.5) scale(1,1.04)" text-anchor="end">100</text>
<text transform="translate(196.0,1403) scale(1,1.04)" text-anchor="middle">200</text>
<text transform="translate(429.6,1403) scale(1,1.04)" text-anchor="middle">400</text>
<text transform="translate(663.1,1403) scale(1,1.04)" text-anchor="middle">600</text>
<text transform="translate(896.7,1403) scale(1,1.04)" text-anchor="middle">800</text>
<text transform="translate(1130.2,1403) scale(1,1.04)" text-anchor="middle">1000</text>
<text transform="translate(1363.8,1403) scale(1,1.04)" text-anchor="middle">1200</text>
<text transform="translate(1597.3,1403) scale(1,1.04)" text-anchor="middle">1400</text>
<text transform="translate(1830.9,1403) scale(1,1.04)" text-anchor="middle">1600</text>
<text transform="translate(1013.5,1479.5) scale(1,1.04)" text-anchor="middle">Wavelength (nm)</text>
<text transform="translate(54,679) rotate(-90) scale(1,1.04)" text-anchor="middle" font-size="60.2">Transmittance %</text>
</g>
<rect x="1162.2" y="766.8" width="595.2" height="297.4" fill="#fff" stroke="#000" stroke-width="2.4"/>
<g fill="#000" font-size="55">
<text x="1188" y="834.3">Red lines: 0 nm GO</text>
<text x="1188" y="898.3">Black lines: 5 nm GO</text>
<text x="1188" y="962.3">Green lines: 10 nm GO</text>
<text x="1188" y="1026.3">Blue lines: 15 nm GO</text>
</g>
</svg></body></html>
